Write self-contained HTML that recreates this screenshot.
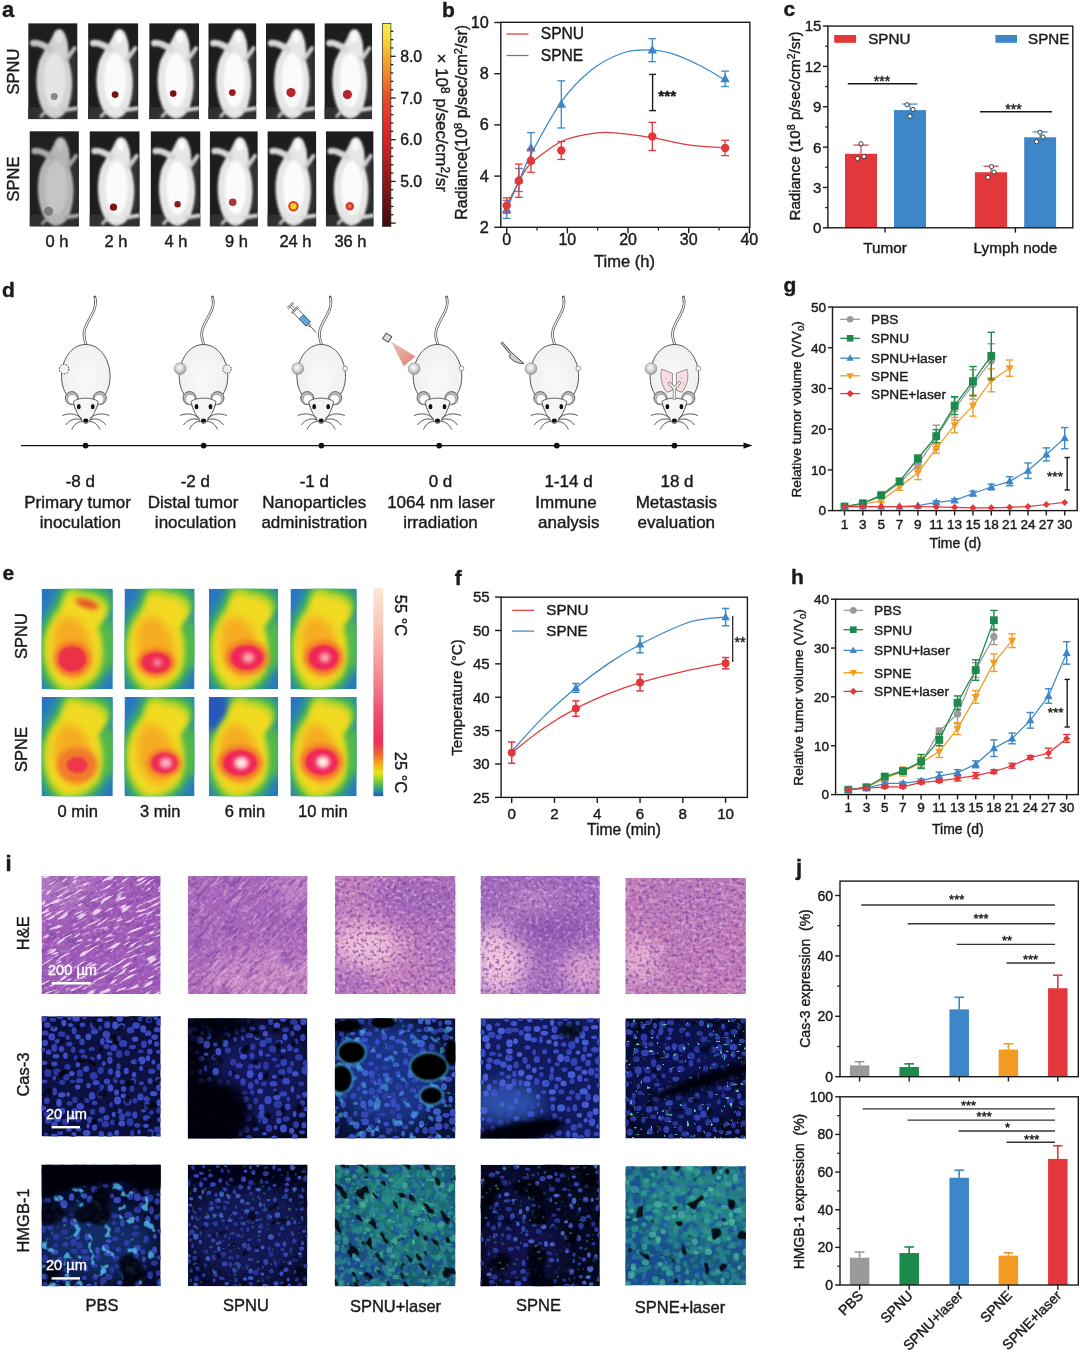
<!DOCTYPE html>
<html lang="en"><head><meta charset="utf-8"><title>Figure</title>
<style>html,body{margin:0;padding:0;background:#fff}svg{display:block}text{font-family:"Liberation Sans",Arial,sans-serif;color:#1a1a1a;fill:currentColor;stroke:currentColor;stroke-width:.4px}</style></head><body>
<svg width="1080" height="1352" viewBox="0 0 1080 1352">
<rect width="1080" height="1352" fill="#fff"/>
<defs>
<filter id="b1" x="-20%" y="-20%" width="140%" height="140%"><feGaussianBlur stdDeviation="0.9"/></filter>
<filter id="b2" x="-30%" y="-30%" width="160%" height="160%"><feGaussianBlur stdDeviation="2"/></filter>
<filter id="b05" x="-30%" y="-30%" width="160%" height="160%"><feGaussianBlur stdDeviation="0.5"/></filter>
<linearGradient id="cbA" x1="0" y1="0" x2="0" y2="1">
<stop offset="0" stop-color="#f6ee50"/><stop offset="0.08" stop-color="#f8d830"/><stop offset="0.17" stop-color="#f4ac2c"/>
<stop offset="0.28" stop-color="#ee7a28"/><stop offset="0.37" stop-color="#e84a28"/><stop offset="0.5" stop-color="#e22a28"/>
<stop offset="0.6" stop-color="#d22226"/><stop offset="0.78" stop-color="#8c181a"/><stop offset="1" stop-color="#3a0c0c"/>
</linearGradient>
<symbol id="mouseA" viewBox="0 0 50 96" preserveAspectRatio="none">
<rect width="50" height="96" fill="#1d1d1d"/>
<rect x="30" y="30" width="20" height="50" fill="#333" filter="url(#b2)"/>
<rect x="0" y="84" width="50" height="12" fill="#303030"/>
<g filter="url(#b1)">
<path d="M11,38 C7,52 8,66 11,77 C14,88 20,95 27,95 C34,95 40,89 42,79 C46,64 45,50 41,38 C40,30 42,22 38,13 C36,5 29,4 26,10 C23,18 16,27 11,38 Z" fill="#e6e6e6"/>
<path d="M22,26 C16,22 10,19 5,20" stroke="#d6d6d6" stroke-width="6.5" stroke-linecap="round" fill="none"/>
<path d="M39,36 L47,25" stroke="#cccccc" stroke-width="4.2" stroke-linecap="round"/>
<path d="M36,87 L49,85" stroke="#d4d4d4" stroke-width="4" stroke-linecap="round"/>
<path d="M18,88 L13,93" stroke="#cfcfcf" stroke-width="3" stroke-linecap="round"/>
<path d="M27,92 L27,96" stroke="#d0d0d0" stroke-width="2.5"/>
<ellipse cx="27" cy="57" rx="11" ry="27" fill="#fbfbfb"/>
<ellipse cx="31" cy="14" rx="3.5" ry="6" fill="#fafafa"/>
</g>
</symbol>
<radialGradient id="tum" cx="0.45" cy="0.4" r="0.6"><stop offset="0" stop-color="#ffffff"/><stop offset="0.55" stop-color="#d2d2d2"/><stop offset="1" stop-color="#9a9a9a"/></radialGradient>
<radialGradient id="bodyG" cx="0.5" cy="0.45" r="0.6"><stop offset="0" stop-color="#fafafa"/><stop offset="1" stop-color="#eeeeee"/></radialGradient>
<linearGradient id="laserG" x1="0" y1="0" x2="1" y2="1"><stop offset="0" stop-color="#e8a090"/><stop offset="1" stop-color="#c03828"/></linearGradient>
<symbol id="mouseD" viewBox="-40 -60 80 150" overflow="visible">
<path d="M0.6,1 C-1,-4 -2.6,-8 -1.6,-13 C-0.4,-20 5,-27 8,-34 C10,-39 10.4,-43 9,-47.5" fill="none" stroke="#555" stroke-width="2.7" stroke-linecap="round"/>
<path d="M0.6,1 C-1,-4 -2.6,-8 -1.6,-13 C-0.4,-20 5,-27 8,-34 C10,-39 10.4,-43 9,-47" fill="none" stroke="#f6f6f6" stroke-width="1.2"/>
<path d="M0,0 C-15,0 -24.3,16 -24.3,32 C-24.3,44 -19,52 -14,56 C-12,60 -10,66 -5,72 C-2,76 2,76 5,72 C10,66 12,60 14,56 C19,52 24.3,44 24.3,32 C24.3,16 15,0 0,0 Z" fill="url(#bodyG)" stroke="#555" stroke-width="1"/>
<circle cx="-14" cy="53.6" r="6.5" fill="#bcbcbc" stroke="#555" stroke-width="0.9"/><circle cx="-13.2" cy="54.8" r="4.9" fill="#fff" stroke="#777" stroke-width="0.6"/>
<circle cx="14" cy="53.6" r="6.5" fill="#bcbcbc" stroke="#555" stroke-width="0.9"/><circle cx="13.2" cy="54.8" r="4.9" fill="#fff" stroke="#777" stroke-width="0.6"/>
<path d="M-12.5,57 C-11,65 -7,72 -3.2,77 C-1.2,79.6 1.2,79.6 3.2,77 C7,72 11,65 12.5,57 C7,52.5 -7,52.5 -12.5,57 Z" fill="#f6f6f6" stroke="#555" stroke-width="0.9"/>
<ellipse cx="-7" cy="62.2" rx="1.9" ry="2.6" fill="#111"/><ellipse cx="7" cy="62.2" rx="1.9" ry="2.6" fill="#111"/>
<ellipse cx="0" cy="76.2" rx="2.6" ry="2.1" fill="#111"/>
<g fill="none" stroke="#444" stroke-width="0.9">
<path d="M-4,74 C-10,68.5 -17,68.5 -23.5,71"/><path d="M-4,75.5 C-10,73 -16,75 -20,80.5"/><path d="M-3.5,77 C-8,77 -12,80 -14,85"/>
<path d="M4,74 C10,68.5 17,68.5 23.5,71"/><path d="M4,75.5 C10,73 16,75 20,80.5"/><path d="M3.5,77 C8,77 12,80 14,85"/>
</g>
</symbol>
<filter id="b4" x="-40%" y="-40%" width="180%" height="180%"><feGaussianBlur stdDeviation="4"/></filter>
<filter id="b3" x="-40%" y="-40%" width="180%" height="180%"><feGaussianBlur stdDeviation="2.6"/></filter>
<filter id="b7" x="-40%" y="-40%" width="180%" height="180%"><feGaussianBlur stdDeviation="7"/></filter>
<linearGradient id="cbE" x1="0" y1="0" x2="0" y2="1">
<stop offset="0" stop-color="#fde6d8"/><stop offset="0.2" stop-color="#f9c4b4"/><stop offset="0.42" stop-color="#f28d96"/>
<stop offset="0.62" stop-color="#ea4a70"/><stop offset="0.74" stop-color="#e8305a"/><stop offset="0.8" stop-color="#ee6a30"/>
<stop offset="0.85" stop-color="#f4b41c"/><stop offset="0.89" stop-color="#e6e21e"/><stop offset="0.93" stop-color="#7cc83c"/>
<stop offset="0.965" stop-color="#2aa58a"/><stop offset="1" stop-color="#2a58c0"/>
</linearGradient>
<filter id="heStreak" x="0" y="0" width="100%" height="100%" color-interpolation-filters="sRGB"><feTurbulence type="fractalNoise" baseFrequency="0.07 0.4" numOctaves="2" seed="3"/><feColorMatrix type="matrix" values="0 0 0 0 0.941 0 0 0 0 0.863 0 0 0 0 0.949 9 0 0 0 -5.1"/></filter>
<filter id="heDark" x="0" y="0" width="100%" height="100%" color-interpolation-filters="sRGB"><feTurbulence type="fractalNoise" baseFrequency="0.06 0.25" numOctaves="2" seed="11"/><feColorMatrix type="matrix" values="0 0 0 0 0.490 0 0 0 0 0.259 0 0 0 0 0.627 6 0 0 0 -3"/></filter>
<filter id="heFineL" x="0" y="0" width="100%" height="100%" color-interpolation-filters="sRGB"><feTurbulence type="fractalNoise" baseFrequency="0.3" numOctaves="2" seed="5"/><feColorMatrix type="matrix" values="0 0 0 0 0.957 0 0 0 0 0.863 0 0 0 0 0.925 5 0 0 0 -2.6"/></filter>
<filter id="heFineD" x="0" y="0" width="100%" height="100%" color-interpolation-filters="sRGB"><feTurbulence type="fractalNoise" baseFrequency="0.28" numOctaves="2" seed="8"/><feColorMatrix type="matrix" values="0 0 0 0 0.518 0 0 0 0 0.282 0 0 0 0 0.643 5 0 0 0 -2.5"/></filter>
<filter id="cellB" x="0" y="0" width="100%" height="100%" color-interpolation-filters="sRGB"><feTurbulence type="fractalNoise" baseFrequency="0.17" numOctaves="1" seed="4"/><feColorMatrix type="matrix" values="0 0 0 0 0.227 0 0 0 0 0.298 0 0 0 0 0.800 14 0 0 0 -7"/><feGaussianBlur stdDeviation="0.5"/></filter>
<filter id="cellB2" x="0" y="0" width="100%" height="100%" color-interpolation-filters="sRGB"><feTurbulence type="fractalNoise" baseFrequency="0.19" numOctaves="1" seed="9"/><feColorMatrix type="matrix" values="0 0 0 0 0.204 0 0 0 0 0.275 0 0 0 0 0.753 14 0 0 0 -7.3"/><feGaussianBlur stdDeviation="0.5"/></filter>
<filter id="cellS" x="0" y="0" width="100%" height="100%" color-interpolation-filters="sRGB"><feTurbulence type="fractalNoise" baseFrequency="0.24" numOctaves="1" seed="14"/><feColorMatrix type="matrix" values="0 0 0 0 0.235 0 0 0 0 0.314 0 0 0 0 0.816 14 0 0 0 -7.6"/><feGaussianBlur stdDeviation="0.4"/></filter>
<filter id="cellD" x="0" y="0" width="100%" height="100%" color-interpolation-filters="sRGB"><feTurbulence type="fractalNoise" baseFrequency="0.2" numOctaves="1" seed="19"/><feColorMatrix type="matrix" values="0 0 0 0 0.196 0 0 0 0 0.259 0 0 0 0 0.706 14 0 0 0 -7.9"/><feGaussianBlur stdDeviation="0.5"/></filter>
<filter id="hole" x="0" y="0" width="100%" height="100%" color-interpolation-filters="sRGB"><feTurbulence type="fractalNoise" baseFrequency="0.035" numOctaves="1" seed="6"/><feColorMatrix type="matrix" values="0 0 0 0 0.008 0 0 0 0 0.008 0 0 0 0 0.039 16 0 0 0 -9.3"/><feGaussianBlur stdDeviation="0.8"/></filter>
<filter id="hole2" x="0" y="0" width="100%" height="100%" color-interpolation-filters="sRGB"><feTurbulence type="fractalNoise" baseFrequency="0.04" numOctaves="1" seed="17"/><feColorMatrix type="matrix" values="0 0 0 0 0.008 0 0 0 0 0.008 0 0 0 0 0.039 16 0 0 0 -9"/><feGaussianBlur stdDeviation="0.8"/></filter>
<filter id="cyan" x="0" y="0" width="100%" height="100%" color-interpolation-filters="sRGB"><feTurbulence type="fractalNoise" baseFrequency="0.11" numOctaves="2" seed="25"/><feColorMatrix type="matrix" values="0 0 0 0 0.314 0 0 0 0 0.753 0 0 0 0 0.933 12 0 0 0 -7.5"/><feGaussianBlur stdDeviation="0.5"/></filter>
<filter id="grnDot" x="0" y="0" width="100%" height="100%" color-interpolation-filters="sRGB"><feTurbulence type="fractalNoise" baseFrequency="0.3" numOctaves="1" seed="31"/><feColorMatrix type="matrix" values="0 0 0 0 0.400 0 0 0 0 0.902 0 0 0 0 0.659 18 0 0 0 -12"/><feGaussianBlur stdDeviation="0.3"/></filter>
<filter id="teal" x="0" y="0" width="100%" height="100%" color-interpolation-filters="sRGB"><feTurbulence type="fractalNoise" baseFrequency="0.11" numOctaves="2" seed="41"/><feColorMatrix type="matrix" values="0 0 0 0 0.235 0 0 0 0 0.706 0 0 0 0 0.573 6 0 0 0 -3.05"/><feGaussianBlur stdDeviation="0.5"/></filter>
<filter id="tealB" x="0" y="0" width="100%" height="100%" color-interpolation-filters="sRGB"><feTurbulence type="fractalNoise" baseFrequency="0.12" numOctaves="2" seed="43"/><feColorMatrix type="matrix" values="0 0 0 0 0.110 0 0 0 0 0.298 0 0 0 0 0.612 8 0 0 0 -4"/><feGaussianBlur stdDeviation="0.5"/></filter>
<filter id="crack" x="0" y="0" width="100%" height="100%" color-interpolation-filters="sRGB"><feTurbulence type="fractalNoise" baseFrequency="0.07 0.13" numOctaves="2" seed="51"/><feColorMatrix type="matrix" values="0 0 0 0 0.016 0 0 0 0 0.024 0 0 0 0 0.047 16 0 0 0 -10.2"/><feGaussianBlur stdDeviation="0.3"/></filter>
<filter id="holeS" x="0" y="0" width="100%" height="100%" color-interpolation-filters="sRGB"><feTurbulence type="fractalNoise" baseFrequency="0.09" numOctaves="1" seed="57"/><feColorMatrix type="matrix" values="0 0 0 0 0.012 0 0 0 0 0.016 0 0 0 0 0.039 18 0 0 0 -11.6"/><feGaussianBlur stdDeviation="0.4"/></filter>
<filter id="b5" x="-40%" y="-40%" width="180%" height="180%"><feGaussianBlur stdDeviation="5"/></filter>
<filter id="b10" x="-40%" y="-40%" width="180%" height="180%"><feGaussianBlur stdDeviation="10"/></filter>
</defs>
<text x="2" y="16.5" font-size="22" font-weight="bold">a</text>
<use href="#mouseA" x="28.2" y="23.2" width="49.3" height="96"/>
<use href="#mouseA" x="29.6" y="131.2" width="49.3" height="95.3"/>
<use href="#mouseA" x="88.1" y="23.2" width="50.2" height="96"/>
<use href="#mouseA" x="89.5" y="131.2" width="50.2" height="95.3"/>
<use href="#mouseA" x="149.2" y="23.2" width="49.9" height="96"/>
<use href="#mouseA" x="150.6" y="131.2" width="49.9" height="95.3"/>
<use href="#mouseA" x="208.3" y="23.2" width="48.1" height="96"/>
<use href="#mouseA" x="209.7" y="131.2" width="48.1" height="95.3"/>
<use href="#mouseA" x="266" y="23.2" width="48.9" height="96"/>
<use href="#mouseA" x="267.4" y="131.2" width="48.9" height="95.3"/>
<use href="#mouseA" x="324.4" y="23.2" width="47.8" height="96"/>
<use href="#mouseA" x="325.8" y="131.2" width="47.8" height="95.3"/>
<rect x="29.6" y="131.2" width="49.3" height="95.3" fill="#2a2a2a" stroke="none" stroke-width="1" opacity="0.26"/>
<rect x="28.2" y="23.6" width="49.3" height="95.6" fill="#2a2a2a" stroke="none" stroke-width="1" opacity="0.1"/>
<circle cx="54.2" cy="96.6" r="3.5" fill="#8a8a8a" stroke="none" stroke-width="1" filter="url(#b05)"/>
<circle cx="115.1" cy="94.6" r="3.4" fill="#6e1418" stroke="none" stroke-width="1" filter="url(#b05)"/>
<circle cx="173.2" cy="93.6" r="3.3" fill="#7a1015" stroke="none" stroke-width="1" filter="url(#b05)"/>
<circle cx="232.3" cy="92.6" r="3.4" fill="#9a1a20" stroke="none" stroke-width="1" filter="url(#b05)"/>
<circle cx="291" cy="92.6" r="4.6" fill="#b8202a" stroke="none" stroke-width="1" filter="url(#b05)"/>
<circle cx="347.4" cy="94.6" r="4.6" fill="#b5242c" stroke="none" stroke-width="1" filter="url(#b05)"/>
<circle cx="48.6" cy="211.2" r="4.5" fill="#7c7c7c" stroke="none" stroke-width="1" filter="url(#b05)"/>
<circle cx="113.5" cy="207.2" r="3.6" fill="#7a1418" stroke="none" stroke-width="1" filter="url(#b05)"/>
<circle cx="177.6" cy="204.2" r="3.2" fill="#8a1a1c" stroke="none" stroke-width="1" filter="url(#b05)"/>
<circle cx="232.7" cy="202.2" r="3.8" fill="#b03030" stroke="none" stroke-width="1" filter="url(#b05)"/>
<circle cx="293.4" cy="206.2" r="5.2" fill="#d8401c" stroke="none" stroke-width="1" filter="url(#b05)"/>
<circle cx="349.8" cy="206.2" r="4.3" fill="#d83a2c" stroke="none" stroke-width="1" filter="url(#b05)"/>
<circle cx="293.4" cy="206.2" r="3.2" fill="#ffd028" stroke="none" stroke-width="1" filter="url(#b05)"/>
<circle cx="349.8" cy="206.2" r="2" fill="#f0703a" stroke="none" stroke-width="1" filter="url(#b05)"/>
<text x="18.5" y="71.5" font-size="16.5" text-anchor="middle" transform="rotate(-90 18.5 71.5)">SPNU</text>
<text x="18.5" y="179" font-size="16.5" text-anchor="middle" transform="rotate(-90 18.5 179)">SPNE</text>
<text x="57" y="247" font-size="16.5" text-anchor="middle">0 h</text>
<text x="116" y="247" font-size="16.5" text-anchor="middle">2 h</text>
<text x="176" y="247" font-size="16.5" text-anchor="middle">4 h</text>
<text x="236.5" y="247" font-size="16.5" text-anchor="middle">9 h</text>
<text x="295.5" y="247" font-size="16.5" text-anchor="middle">24 h</text>
<text x="350.5" y="247" font-size="16.5" text-anchor="middle">36 h</text>
<rect x="382.5" y="23.4" width="8.4" height="203" fill="url(#cbA)" stroke="#2a2a2a" stroke-width="0.7"/>
<line x1="390.9" y1="31.28" x2="393.3" y2="31.28" stroke="#1a1a1a" stroke-width="1.3"/>
<line x1="390.9" y1="39.62" x2="393.3" y2="39.62" stroke="#1a1a1a" stroke-width="1.3"/>
<line x1="390.9" y1="47.96" x2="393.3" y2="47.96" stroke="#1a1a1a" stroke-width="1.3"/>
<line x1="390.9" y1="56.3" x2="395.7" y2="56.3" stroke="#1a1a1a" stroke-width="1.3"/>
<line x1="390.9" y1="64.64" x2="393.3" y2="64.64" stroke="#1a1a1a" stroke-width="1.3"/>
<line x1="390.9" y1="72.98" x2="393.3" y2="72.98" stroke="#1a1a1a" stroke-width="1.3"/>
<line x1="390.9" y1="81.32" x2="393.3" y2="81.32" stroke="#1a1a1a" stroke-width="1.3"/>
<line x1="390.9" y1="89.66" x2="393.3" y2="89.66" stroke="#1a1a1a" stroke-width="1.3"/>
<line x1="390.9" y1="98" x2="395.7" y2="98" stroke="#1a1a1a" stroke-width="1.3"/>
<line x1="390.9" y1="106.34" x2="393.3" y2="106.34" stroke="#1a1a1a" stroke-width="1.3"/>
<line x1="390.9" y1="114.68" x2="393.3" y2="114.68" stroke="#1a1a1a" stroke-width="1.3"/>
<line x1="390.9" y1="123.02" x2="393.3" y2="123.02" stroke="#1a1a1a" stroke-width="1.3"/>
<line x1="390.9" y1="131.36" x2="393.3" y2="131.36" stroke="#1a1a1a" stroke-width="1.3"/>
<line x1="390.9" y1="139.7" x2="395.7" y2="139.7" stroke="#1a1a1a" stroke-width="1.3"/>
<line x1="390.9" y1="148.04" x2="393.3" y2="148.04" stroke="#1a1a1a" stroke-width="1.3"/>
<line x1="390.9" y1="156.38" x2="393.3" y2="156.38" stroke="#1a1a1a" stroke-width="1.3"/>
<line x1="390.9" y1="164.72" x2="393.3" y2="164.72" stroke="#1a1a1a" stroke-width="1.3"/>
<line x1="390.9" y1="173.06" x2="393.3" y2="173.06" stroke="#1a1a1a" stroke-width="1.3"/>
<line x1="390.9" y1="181.4" x2="395.7" y2="181.4" stroke="#1a1a1a" stroke-width="1.3"/>
<line x1="390.9" y1="189.74" x2="393.3" y2="189.74" stroke="#1a1a1a" stroke-width="1.3"/>
<line x1="390.9" y1="198.08" x2="393.3" y2="198.08" stroke="#1a1a1a" stroke-width="1.3"/>
<line x1="390.9" y1="206.42" x2="393.3" y2="206.42" stroke="#1a1a1a" stroke-width="1.3"/>
<line x1="390.9" y1="214.76" x2="393.3" y2="214.76" stroke="#1a1a1a" stroke-width="1.3"/>
<line x1="390.9" y1="223.1" x2="395.7" y2="223.1" stroke="#1a1a1a" stroke-width="1.3"/>
<text x="400.2" y="61.9" font-size="15.8">8.0</text>
<text x="400.2" y="103.6" font-size="15.8">7.0</text>
<text x="400.2" y="145.3" font-size="15.8">6.0</text>
<text x="400.2" y="187" font-size="15.8">5.0</text>
<text x="436.3" y="122.7" font-size="17" text-anchor="middle" transform="rotate(90 436.3 122.7)">&#215; 10<tspan dy="-5" font-size="70%">8</tspan><tspan dy="5">&#8203;</tspan> p/sec/cm<tspan dy="-5" font-size="70%">2</tspan><tspan dy="5">&#8203;</tspan>/sr</text>
<text x="442" y="16.8" font-size="21" font-weight="bold">b</text>
<rect x="500.8" y="22.3" width="249.1" height="205" fill="none" stroke="#1a1a1a" stroke-width="1.4"/>
<line x1="494.3" y1="227.3" x2="500.8" y2="227.3" stroke="#1a1a1a" stroke-width="1.4"/>
<text x="488.8" y="232.7" font-size="16.3" text-anchor="end">2</text>
<line x1="494.3" y1="176.1" x2="500.8" y2="176.1" stroke="#1a1a1a" stroke-width="1.4"/>
<text x="488.8" y="181.5" font-size="16.3" text-anchor="end">4</text>
<line x1="494.3" y1="124.9" x2="500.8" y2="124.9" stroke="#1a1a1a" stroke-width="1.4"/>
<text x="488.8" y="130.3" font-size="16.3" text-anchor="end">6</text>
<line x1="494.3" y1="73.7" x2="500.8" y2="73.7" stroke="#1a1a1a" stroke-width="1.4"/>
<text x="488.8" y="79.1" font-size="16.3" text-anchor="end">8</text>
<line x1="494.3" y1="22.5" x2="500.8" y2="22.5" stroke="#1a1a1a" stroke-width="1.4"/>
<text x="488.8" y="27.9" font-size="16.3" text-anchor="end">10</text>
<line x1="506.7" y1="227.3" x2="506.7" y2="233.3" stroke="#1a1a1a" stroke-width="1.4"/>
<text x="506.7" y="244.8" font-size="16" text-anchor="middle">0</text>
<line x1="567.37" y1="227.3" x2="567.37" y2="233.3" stroke="#1a1a1a" stroke-width="1.4"/>
<text x="567.37" y="244.8" font-size="16" text-anchor="middle">10</text>
<line x1="628.04" y1="227.3" x2="628.04" y2="233.3" stroke="#1a1a1a" stroke-width="1.4"/>
<text x="628.04" y="244.8" font-size="16" text-anchor="middle">20</text>
<line x1="688.71" y1="227.3" x2="688.71" y2="233.3" stroke="#1a1a1a" stroke-width="1.4"/>
<text x="688.71" y="244.8" font-size="16" text-anchor="middle">30</text>
<line x1="749.38" y1="227.3" x2="749.38" y2="233.3" stroke="#1a1a1a" stroke-width="1.4"/>
<text x="749.38" y="244.8" font-size="16" text-anchor="middle">40</text>
<line x1="537.03" y1="227.3" x2="537.03" y2="230.5" stroke="#1a1a1a" stroke-width="1.2"/>
<line x1="597.7" y1="227.3" x2="597.7" y2="230.5" stroke="#1a1a1a" stroke-width="1.2"/>
<line x1="658.38" y1="227.3" x2="658.38" y2="230.5" stroke="#1a1a1a" stroke-width="1.2"/>
<line x1="719.04" y1="227.3" x2="719.04" y2="230.5" stroke="#1a1a1a" stroke-width="1.2"/>
<text x="624.5" y="266.8" font-size="16.5" text-anchor="middle">Time (h)</text>
<text x="466.8" y="122.3" font-size="16" text-anchor="middle" transform="rotate(-90 466.8 122.3)">Radiance(10<tspan dy="-5" font-size="70%">8</tspan><tspan dy="5">&#8203;</tspan> p/sec/cm<tspan dy="-5" font-size="70%">2</tspan><tspan dy="5">&#8203;</tspan>/sr)</text>
<path d="M506.7,205.54 C508.72,201.57 514.79,188.77 518.83,181.73 C522.88,174.69 523.89,170 530.97,163.3 C538.05,156.6 552.2,146.32 561.3,141.54 C570.4,136.76 577.48,136.12 585.57,134.63 C593.66,133.13 598.72,132.07 609.84,132.58 C620.96,133.09 639.16,135.65 652.31,137.7 C665.45,139.75 676.58,143.16 688.71,144.87 C700.84,146.57 719.04,147.43 725.11,147.94" fill="none" stroke="#e2383b" stroke-width="1.25"/>
<path d="M506.7,209.38 C508.72,204.69 514.79,190.39 518.83,181.22 C522.88,172.05 523.89,167.57 530.97,154.34 C538.05,141.11 551.19,115.94 561.3,101.86 C571.41,87.78 581.53,77.97 591.64,69.86 C601.75,61.75 612.87,56.55 621.97,53.22 C631.07,49.89 638.15,49.89 646.24,49.89 C654.33,49.89 661.41,50.53 670.51,53.22 C679.61,55.91 691.74,61.54 700.84,66.02 C709.94,70.5 721.07,77.75 725.11,80.1" fill="none" stroke="#3d87c8" stroke-width="1.25"/>
<line x1="506.7" y1="218.34" x2="506.7" y2="200.42" stroke="#3d87c8" stroke-width="1.3"/>
<line x1="502.8" y1="218.34" x2="510.6" y2="218.34" stroke="#3d87c8" stroke-width="1.3"/>
<line x1="502.8" y1="200.42" x2="510.6" y2="200.42" stroke="#3d87c8" stroke-width="1.3"/>
<path d="M506.7,204.22 L511.43,212.82 L501.97,212.82 Z" fill="#3d87c8" stroke="none" stroke-width="1"/>
<line x1="518.83" y1="191.46" x2="518.83" y2="168.42" stroke="#3d87c8" stroke-width="1.3"/>
<line x1="514.93" y1="191.46" x2="522.73" y2="191.46" stroke="#3d87c8" stroke-width="1.3"/>
<line x1="514.93" y1="168.42" x2="522.73" y2="168.42" stroke="#3d87c8" stroke-width="1.3"/>
<path d="M518.83,174.78 L523.56,183.38 L514.1,183.38 Z" fill="#3d87c8" stroke="none" stroke-width="1"/>
<line x1="530.97" y1="163.3" x2="530.97" y2="132.58" stroke="#3d87c8" stroke-width="1.3"/>
<line x1="527.07" y1="163.3" x2="534.87" y2="163.3" stroke="#3d87c8" stroke-width="1.3"/>
<line x1="527.07" y1="132.58" x2="534.87" y2="132.58" stroke="#3d87c8" stroke-width="1.3"/>
<path d="M530.97,142.78 L535.7,151.38 L526.24,151.38 Z" fill="#3d87c8" stroke="none" stroke-width="1"/>
<line x1="561.3" y1="127.97" x2="561.3" y2="80.87" stroke="#3d87c8" stroke-width="1.3"/>
<line x1="557.4" y1="127.97" x2="565.2" y2="127.97" stroke="#3d87c8" stroke-width="1.3"/>
<line x1="557.4" y1="80.87" x2="565.2" y2="80.87" stroke="#3d87c8" stroke-width="1.3"/>
<path d="M561.3,99.26 L566.03,107.86 L556.57,107.86 Z" fill="#3d87c8" stroke="none" stroke-width="1"/>
<line x1="652.31" y1="61.67" x2="652.31" y2="38.63" stroke="#3d87c8" stroke-width="1.3"/>
<line x1="648.41" y1="61.67" x2="656.21" y2="61.67" stroke="#3d87c8" stroke-width="1.3"/>
<line x1="648.41" y1="38.63" x2="656.21" y2="38.63" stroke="#3d87c8" stroke-width="1.3"/>
<path d="M652.31,44.99 L657.04,53.59 L647.58,53.59 Z" fill="#3d87c8" stroke="none" stroke-width="1"/>
<line x1="725.11" y1="86.5" x2="725.11" y2="71.14" stroke="#3d87c8" stroke-width="1.3"/>
<line x1="721.21" y1="86.5" x2="729.01" y2="86.5" stroke="#3d87c8" stroke-width="1.3"/>
<line x1="721.21" y1="71.14" x2="729.01" y2="71.14" stroke="#3d87c8" stroke-width="1.3"/>
<path d="M725.11,73.66 L729.84,82.26 L720.38,82.26 Z" fill="#3d87c8" stroke="none" stroke-width="1"/>
<line x1="506.7" y1="213.22" x2="506.7" y2="197.86" stroke="#e2383b" stroke-width="1.3"/>
<line x1="502.8" y1="213.22" x2="510.6" y2="213.22" stroke="#e2383b" stroke-width="1.3"/>
<line x1="502.8" y1="197.86" x2="510.6" y2="197.86" stroke="#e2383b" stroke-width="1.3"/>
<circle cx="506.7" cy="205.54" r="4.2" fill="#e2383b" stroke="none" stroke-width="1"/>
<line x1="518.83" y1="197.35" x2="518.83" y2="164.07" stroke="#e2383b" stroke-width="1.3"/>
<line x1="514.93" y1="197.35" x2="522.73" y2="197.35" stroke="#e2383b" stroke-width="1.3"/>
<line x1="514.93" y1="164.07" x2="522.73" y2="164.07" stroke="#e2383b" stroke-width="1.3"/>
<circle cx="518.83" cy="180.71" r="4.2" fill="#e2383b" stroke="none" stroke-width="1"/>
<line x1="530.97" y1="172.26" x2="530.97" y2="149.22" stroke="#e2383b" stroke-width="1.3"/>
<line x1="527.07" y1="172.26" x2="534.87" y2="172.26" stroke="#e2383b" stroke-width="1.3"/>
<line x1="527.07" y1="149.22" x2="534.87" y2="149.22" stroke="#e2383b" stroke-width="1.3"/>
<circle cx="530.97" cy="160.74" r="4.2" fill="#e2383b" stroke="none" stroke-width="1"/>
<line x1="561.3" y1="159.46" x2="561.3" y2="141.54" stroke="#e2383b" stroke-width="1.3"/>
<line x1="557.4" y1="159.46" x2="565.2" y2="159.46" stroke="#e2383b" stroke-width="1.3"/>
<line x1="557.4" y1="141.54" x2="565.2" y2="141.54" stroke="#e2383b" stroke-width="1.3"/>
<circle cx="561.3" cy="150.5" r="4.2" fill="#e2383b" stroke="none" stroke-width="1"/>
<line x1="652.31" y1="150.5" x2="652.31" y2="122.34" stroke="#e2383b" stroke-width="1.3"/>
<line x1="648.41" y1="150.5" x2="656.21" y2="150.5" stroke="#e2383b" stroke-width="1.3"/>
<line x1="648.41" y1="122.34" x2="656.21" y2="122.34" stroke="#e2383b" stroke-width="1.3"/>
<circle cx="652.31" cy="136.42" r="4.2" fill="#e2383b" stroke="none" stroke-width="1"/>
<line x1="725.11" y1="155.62" x2="725.11" y2="140.26" stroke="#e2383b" stroke-width="1.3"/>
<line x1="721.21" y1="155.62" x2="729.01" y2="155.62" stroke="#e2383b" stroke-width="1.3"/>
<line x1="721.21" y1="140.26" x2="729.01" y2="140.26" stroke="#e2383b" stroke-width="1.3"/>
<circle cx="725.11" cy="147.94" r="4.2" fill="#e2383b" stroke="none" stroke-width="1"/>
<line x1="506.5" y1="34" x2="528.5" y2="34" stroke="#e2383b" stroke-width="1.25"/>
<text x="540.8" y="39.4" font-size="15.6">SPNU</text>
<line x1="506.5" y1="55.5" x2="528.5" y2="55.5" stroke="#3d87c8" stroke-width="1.25"/>
<text x="540.8" y="61" font-size="15.6">SPNE</text>
<line x1="652.6" y1="74.4" x2="652.6" y2="110.6" stroke="#1a1a1a" stroke-width="1.4"/>
<line x1="649.2" y1="74.4" x2="656" y2="74.4" stroke="#1a1a1a" stroke-width="1.4"/>
<line x1="649.2" y1="110.6" x2="656" y2="110.6" stroke="#1a1a1a" stroke-width="1.4"/>
<text x="658.3" y="100.5" font-size="15.5" font-weight="bold">***</text>
<text x="783.6" y="15.6" font-size="21" font-weight="bold">c</text>
<rect x="845" y="153.83" width="32" height="73.97" fill="#e2383b" stroke="none" stroke-width="1"/>
<line x1="861" y1="153.83" x2="861" y2="145.08" stroke="#e2383b" stroke-width="1.2"/>
<line x1="853.4" y1="145.08" x2="868.6" y2="145.08" stroke="#e2383b" stroke-width="1.2"/>
<rect x="894" y="110.11" width="32" height="117.69" fill="#3d87c8" stroke="none" stroke-width="1"/>
<line x1="910" y1="110.11" x2="910" y2="104.06" stroke="#3d87c8" stroke-width="1.2"/>
<line x1="902.4" y1="104.06" x2="917.6" y2="104.06" stroke="#3d87c8" stroke-width="1.2"/>
<rect x="974.9" y="172.25" width="32.2" height="55.55" fill="#e2383b" stroke="none" stroke-width="1"/>
<line x1="991" y1="172.25" x2="991" y2="166.2" stroke="#e2383b" stroke-width="1.2"/>
<line x1="983.4" y1="166.2" x2="998.6" y2="166.2" stroke="#e2383b" stroke-width="1.2"/>
<rect x="1024.2" y="137.28" width="31.9" height="90.52" fill="#3d87c8" stroke="none" stroke-width="1"/>
<line x1="1040.15" y1="137.28" x2="1040.15" y2="131.9" stroke="#3d87c8" stroke-width="1.2"/>
<line x1="1032.55" y1="131.9" x2="1047.75" y2="131.9" stroke="#3d87c8" stroke-width="1.2"/>
<circle cx="861" cy="143.74" r="2.1" fill="#fff" stroke="#2f4040" stroke-width="1"/>
<circle cx="857.5" cy="158.53" r="2.1" fill="#fff" stroke="#2f4040" stroke-width="1"/>
<circle cx="864" cy="156.52" r="2.1" fill="#fff" stroke="#2f4040" stroke-width="1"/>
<circle cx="907" cy="104.73" r="2.1" fill="#fff" stroke="#2f4040" stroke-width="1"/>
<circle cx="913" cy="109.44" r="2.1" fill="#fff" stroke="#2f4040" stroke-width="1"/>
<circle cx="910" cy="116.17" r="2.1" fill="#fff" stroke="#2f4040" stroke-width="1"/>
<circle cx="991.5" cy="166.6" r="2.1" fill="#fff" stroke="#2f4040" stroke-width="1"/>
<circle cx="994" cy="171.98" r="2.1" fill="#fff" stroke="#2f4040" stroke-width="1"/>
<circle cx="988" cy="177.36" r="2.1" fill="#fff" stroke="#2f4040" stroke-width="1"/>
<circle cx="1040" cy="132.31" r="2.1" fill="#fff" stroke="#2f4040" stroke-width="1"/>
<circle cx="1043" cy="137.01" r="2.1" fill="#fff" stroke="#2f4040" stroke-width="1"/>
<circle cx="1036.5" cy="141.72" r="2.1" fill="#fff" stroke="#2f4040" stroke-width="1"/>
<rect x="827.9" y="26.1" width="244.9" height="201.7" fill="none" stroke="#1a1a1a" stroke-width="1.4"/>
<line x1="822.9" y1="227.8" x2="827.9" y2="227.8" stroke="#1a1a1a" stroke-width="1.4"/>
<text x="821.4" y="233.2" font-size="15" text-anchor="end">0</text>
<line x1="822.9" y1="187.45" x2="827.9" y2="187.45" stroke="#1a1a1a" stroke-width="1.4"/>
<text x="821.4" y="192.85" font-size="15" text-anchor="end">3</text>
<line x1="822.9" y1="147.1" x2="827.9" y2="147.1" stroke="#1a1a1a" stroke-width="1.4"/>
<text x="821.4" y="152.5" font-size="15" text-anchor="end">6</text>
<line x1="822.9" y1="106.75" x2="827.9" y2="106.75" stroke="#1a1a1a" stroke-width="1.4"/>
<text x="821.4" y="112.15" font-size="15" text-anchor="end">9</text>
<line x1="822.9" y1="66.4" x2="827.9" y2="66.4" stroke="#1a1a1a" stroke-width="1.4"/>
<text x="821.4" y="71.8" font-size="15" text-anchor="end">12</text>
<line x1="822.9" y1="26.05" x2="827.9" y2="26.05" stroke="#1a1a1a" stroke-width="1.4"/>
<text x="821.4" y="31.45" font-size="15" text-anchor="end">15</text>
<line x1="825.1" y1="207.62" x2="827.9" y2="207.62" stroke="#1a1a1a" stroke-width="1.2"/>
<line x1="825.1" y1="167.28" x2="827.9" y2="167.28" stroke="#1a1a1a" stroke-width="1.2"/>
<line x1="825.1" y1="126.93" x2="827.9" y2="126.93" stroke="#1a1a1a" stroke-width="1.2"/>
<line x1="825.1" y1="86.58" x2="827.9" y2="86.58" stroke="#1a1a1a" stroke-width="1.2"/>
<line x1="825.1" y1="46.23" x2="827.9" y2="46.23" stroke="#1a1a1a" stroke-width="1.2"/>
<line x1="885" y1="227.8" x2="885" y2="232.6" stroke="#1a1a1a" stroke-width="1.4"/>
<text x="885" y="253.3" font-size="15.3" text-anchor="middle">Tumor</text>
<line x1="1015.4" y1="227.8" x2="1015.4" y2="232.6" stroke="#1a1a1a" stroke-width="1.4"/>
<text x="1015.4" y="253.3" font-size="15.3" text-anchor="middle">Lymph node</text>
<text x="799.5" y="126" font-size="15.2" text-anchor="middle" transform="rotate(-90 799.5 126)">Radiance (10<tspan dy="-5" font-size="70%">8</tspan><tspan dy="5">&#8203;</tspan> p/sec/cm<tspan dy="-5" font-size="70%">2</tspan><tspan dy="5">&#8203;</tspan>/sr)</text>
<rect x="834.2" y="35" width="21.9" height="7.8" fill="#e2383b" stroke="none" stroke-width="1"/>
<text x="868.2" y="44.2" font-size="15.2">SPNU</text>
<rect x="995.4" y="35" width="21.6" height="7.8" fill="#3d87c8" stroke="none" stroke-width="1"/>
<text x="1028" y="44.2" font-size="15.2">SPNE</text>
<line x1="847.8" y1="83.75" x2="917.2" y2="83.75" stroke="#1a1a1a" stroke-width="1.4"/>
<text x="882" y="85.6" font-size="14" text-anchor="middle">***</text>
<line x1="980" y1="111.8" x2="1052" y2="111.8" stroke="#1a1a1a" stroke-width="1.4"/>
<text x="1013.5" y="113.6" font-size="14" text-anchor="middle">***</text>
<text x="2" y="297.2" font-size="21" font-weight="bold">d</text>
<use href="#mouseD" x="45.8" y="284.5" width="80" height="150"/>
<use href="#mouseD" x="163.5" y="284.5" width="80" height="150"/>
<use href="#mouseD" x="281.2" y="284.5" width="80" height="150"/>
<use href="#mouseD" x="397.5" y="284.5" width="80" height="150"/>
<use href="#mouseD" x="514.3" y="284.5" width="80" height="150"/>
<use href="#mouseD" x="634.4" y="284.5" width="80" height="150"/>
<circle cx="64" cy="369.1" r="4.8" fill="#f3f3f3" stroke="#222" stroke-width="0.9" stroke-dasharray="1.6 1.4"/>
<circle cx="180.1" cy="368.7" r="5.9" fill="url(#tum)" stroke="#8a8a8a" stroke-width="0.6"/>
<circle cx="297.8" cy="368.7" r="5.9" fill="url(#tum)" stroke="#8a8a8a" stroke-width="0.6"/>
<circle cx="414.1" cy="368.7" r="5.9" fill="url(#tum)" stroke="#8a8a8a" stroke-width="0.6"/>
<circle cx="530.9" cy="368.7" r="5.9" fill="url(#tum)" stroke="#8a8a8a" stroke-width="0.6"/>
<circle cx="651" cy="368.7" r="5.9" fill="url(#tum)" stroke="#8a8a8a" stroke-width="0.6"/>
<circle cx="227.1" cy="369.1" r="4.2" fill="#ededed" stroke="#222" stroke-width="0.9" stroke-dasharray="1.4 1.2"/>
<circle cx="345.2" cy="368.5" r="2.4" fill="#f5f5f5" stroke="#888" stroke-width="0.8"/>
<circle cx="461.5" cy="368.5" r="2.4" fill="#f5f5f5" stroke="#888" stroke-width="0.8"/>
<circle cx="578.3" cy="368.5" r="2.4" fill="#f5f5f5" stroke="#888" stroke-width="0.8"/>
<circle cx="698.4" cy="368.5" r="2.4" fill="#f5f5f5" stroke="#888" stroke-width="0.8"/>
<g transform="translate(290.6 305.6) rotate(-43.5)">
<rect x="-3.4" y="-1" width="6.8" height="1.7" fill="#eee" stroke="#444" stroke-width="0.7"/>
<rect x="-1.2" y="0.7" width="2.4" height="4.5" fill="#fff" stroke="#444" stroke-width="0.7"/>
<rect x="-4.2" y="5.2" width="8.4" height="1.7" fill="#e4e4e4" stroke="#444" stroke-width="0.7"/>
<rect x="-3" y="6.9" width="6" height="18.5" fill="#fff" stroke="#444" stroke-width="0.8"/>
<rect x="-3" y="15.5" width="6" height="9.9" fill="#58a8e4" stroke="#444" stroke-width="0.6"/>
<rect x="-1.2" y="25.4" width="2.4" height="2.8" fill="#ccc" stroke="#444" stroke-width="0.6"/>
<line x1="0" y1="28.2" x2="0" y2="37" stroke="#333" stroke-width="0.8"/>
</g>
<path d="M391,341.6 L415.6,356.4 L403.6,366.2 Z" fill="url(#laserG)" stroke="none" stroke-width="1" opacity="0.62" filter="url(#b05)"/>
<g transform="translate(387.2 337.6) rotate(32)">
<rect x="-3.3" y="-3.3" width="6.6" height="6.6" fill="#dcdcdc" stroke="#444" stroke-width="0.9"/>
</g>
<path d="M501,343.2 L502.6,342.2 L511.2,352.2 L524,363.6 C518,363.6 512.4,361.4 509.4,356.6 L510.4,354.4 Z" fill="#cfcfcf" stroke="#333" stroke-width="0.9" stroke-linejoin="round"/>
<g transform="translate(674.4 381.8)">
<path d="M-2,-8.5 L-12.6,-12.6 C-14.8,-6 -13,4 -7.5,10.5 L-2,8.5 Z" fill="#f6dde0" stroke="#777" stroke-width="0.8" stroke-linejoin="round"/>
<path d="M2,-8.5 L12.6,-12.6 C14.8,-6 13,4 7.5,10.5 L2,8.5 Z" fill="#f6dde0" stroke="#777" stroke-width="0.8" stroke-linejoin="round"/>
<path d="M0,16.5 L0,6 M0,6.5 L-5,1.5 M0,6.5 L5,1" fill="none" stroke="#777" stroke-width="3.2" stroke-linecap="round"/>
<path d="M0,16.5 L0,6 M0,6.5 L-5,1.5 M0,6.5 L5,1" fill="none" stroke="#f4f4f4" stroke-width="1.8" stroke-linecap="round"/>
<circle cx="-8" cy="-3" r="0.9" fill="#e8b0bc" stroke="none" stroke-width="1"/>
<circle cx="-6" cy="3" r="0.9" fill="#e8b0bc" stroke="none" stroke-width="1"/>
<circle cx="7" cy="-4" r="0.9" fill="#e8b0bc" stroke="none" stroke-width="1"/>
<circle cx="9" cy="1" r="0.9" fill="#e8b0bc" stroke="none" stroke-width="1"/>
</g>
<line x1="21" y1="445.6" x2="746" y2="445.6" stroke="#111" stroke-width="1.4"/>
<path d="M752.5,445.6 L743.5,442.4 L743.5,448.8 Z" fill="#111" stroke="none" stroke-width="1"/>
<circle cx="85.6" cy="445.6" r="2.9" fill="#111" stroke="none" stroke-width="1"/>
<circle cx="203.6" cy="445.6" r="2.9" fill="#111" stroke="none" stroke-width="1"/>
<circle cx="321.4" cy="445.6" r="2.9" fill="#111" stroke="none" stroke-width="1"/>
<circle cx="439.2" cy="445.6" r="2.9" fill="#111" stroke="none" stroke-width="1"/>
<circle cx="556.8" cy="445.6" r="2.9" fill="#111" stroke="none" stroke-width="1"/>
<circle cx="674.4" cy="445.6" r="2.9" fill="#111" stroke="none" stroke-width="1"/>
<text x="80.3" y="487.2" font-size="17" text-anchor="middle">-8 d</text>
<text x="77.6" y="508.2" font-size="17" text-anchor="middle">Primary tumor</text>
<text x="80.3" y="528" font-size="17" text-anchor="middle">inoculation</text>
<text x="195.3" y="487.2" font-size="17" text-anchor="middle">-2 d</text>
<text x="193" y="508.2" font-size="17" text-anchor="middle">Distal tumor</text>
<text x="195.5" y="528" font-size="17" text-anchor="middle">inoculation</text>
<text x="314.3" y="487.2" font-size="17" text-anchor="middle">-1 d</text>
<text x="314.3" y="508.2" font-size="17" text-anchor="middle">Nanoparticles</text>
<text x="314.3" y="528" font-size="17" text-anchor="middle">administration</text>
<text x="440.5" y="487.2" font-size="17" text-anchor="middle">0 d</text>
<text x="441" y="508.2" font-size="17" text-anchor="middle">1064 nm laser</text>
<text x="440.5" y="528" font-size="17" text-anchor="middle">irradiation</text>
<text x="568.6" y="487.2" font-size="17" text-anchor="middle">1-14 d</text>
<text x="566" y="508.2" font-size="17" text-anchor="middle">Immune</text>
<text x="568.8" y="528" font-size="17" text-anchor="middle">analysis</text>
<text x="677" y="487.2" font-size="17" text-anchor="middle">18 d</text>
<text x="676.3" y="508.2" font-size="17" text-anchor="middle">Metastasis</text>
<text x="676.3" y="528" font-size="17" text-anchor="middle">evaluation</text>
<text x="2.5" y="579.6" font-size="21" font-weight="bold">e</text>
<clipPath id="ce0"><rect x="41.6" y="588.8" width="71.2" height="100.4"/></clipPath>
<g clip-path="url(#ce0)">
<rect x="41.6" y="588.8" width="71.2" height="100.4" fill="#2a74c4" stroke="none" stroke-width="1"/>
<path d="M64.88,581.37 C70.44,574.84 79.69,580.07 87.1,582.68 C100.06,582.68 114.86,590.51 114.86,600.95 C114.86,611.39 105.61,614 103.76,624.44 C109.31,640.1 111.16,663.6 103.76,679.26 C94.5,693.62 77.84,701.45 64.88,701.45 C50.07,696.23 38.04,676.65 37.11,653.16 C36.19,629.66 46.37,614 56.55,600.95 C59.33,593.12 61.18,585.29 64.88,581.37 Z" fill="#2fa878" filter="url(#b7)"/>
<path d="M65.51,585.23 C70.72,579.1 79.41,584 86.36,586.45 C98.52,586.45 112.42,593.8 112.42,603.6 C112.42,613.4 103.73,615.85 101.99,625.65 C107.2,640.35 108.94,662.39 101.99,677.09 C93.31,690.57 77.67,697.91 65.51,697.91 C51.61,693.02 40.32,674.64 39.45,652.59 C38.58,630.55 48.14,615.85 57.69,603.6 C60.3,596.25 62.03,588.9 65.51,585.23 Z" fill="#4cb848" filter="url(#b4)"/>
<ellipse cx="107.82" cy="644.02" rx="9.97" ry="26.1" fill="#52ba48" filter="url(#b4)"/>
<path d="M66.45,591.01 C71.15,585.49 78.98,589.9 85.25,592.11 C96.21,592.11 108.74,598.74 108.74,607.57 C108.74,616.41 100.91,618.62 99.34,627.45 C104.04,640.71 105.61,660.59 99.34,673.84 C91.51,685.99 77.41,692.61 66.45,692.61 C53.92,688.2 43.74,671.63 42.95,651.75 C42.17,631.87 50.78,618.62 59.4,607.57 C61.75,600.95 63.32,594.32 66.45,591.01 Z" fill="#b4d42c" filter="url(#b3)"/>
<path d="M67.47,597.27 C71.61,592.4 78.52,596.3 84.04,598.25 C93.71,598.25 104.76,604.09 104.76,611.88 C104.76,619.67 97.86,621.62 96.47,629.41 C100.62,641.1 102,658.63 96.47,670.31 C89.57,681.03 77.14,686.87 67.47,686.87 C56.42,682.98 47.44,668.37 46.75,650.84 C46.06,633.31 53.65,621.62 61.25,611.88 C63.32,606.04 64.7,600.2 67.47,597.27 Z" fill="#f2da24" filter="url(#b3)"/>
<ellipse cx="72.93" cy="647.03" rx="18.51" ry="31.12" fill="#f6ac20" filter="url(#b4)" transform="rotate(-12 72.93 647.03)"/>
<ellipse cx="87.17" cy="603.86" rx="12.1" ry="4.02" fill="#e4482c" filter="url(#b3)" transform="rotate(18 87.17 603.86)"/>
<ellipse cx="72.22" cy="659.08" rx="18.51" ry="17.62" fill="#f2742c" filter="url(#b3)"/>
<ellipse cx="72.22" cy="659.08" rx="13.96" ry="12.79" fill="#ec3048" filter="url(#b1)"/>
</g>
<clipPath id="ce1"><rect x="124.5" y="588.8" width="70" height="100.4"/></clipPath>
<g clip-path="url(#ce1)">
<rect x="124.5" y="588.8" width="70" height="100.4" fill="#2a74c4" stroke="none" stroke-width="1"/>
<path d="M147.39,581.37 C152.85,574.84 161.95,580.07 169.23,582.68 C181.97,582.68 196.53,590.51 196.53,600.95 C196.53,611.39 187.43,614 185.61,624.44 C191.07,640.1 192.89,663.6 185.61,679.26 C176.51,693.62 160.13,701.45 147.39,701.45 C132.83,696.23 121,676.65 120.09,653.16 C119.18,629.66 129.19,614 139.2,600.95 C141.93,593.12 143.75,585.29 147.39,581.37 Z" fill="#2fa878" filter="url(#b7)"/>
<path d="M148.01,585.23 C153.13,579.1 161.67,584 168.5,586.45 C180.46,586.45 194.12,593.8 194.12,603.6 C194.12,613.4 185.58,615.85 183.87,625.65 C189,640.35 190.71,662.39 183.87,677.09 C175.33,690.57 159.96,697.91 148.01,697.91 C134.34,693.02 123.24,674.64 122.39,652.59 C121.53,630.55 130.93,615.85 140.32,603.6 C142.88,596.25 144.59,588.9 148.01,585.23 Z" fill="#4cb848" filter="url(#b4)"/>
<ellipse cx="189.6" cy="644.02" rx="9.8" ry="26.1" fill="#52ba48" filter="url(#b4)"/>
<path d="M148.93,591.01 C153.55,585.49 161.25,589.9 167.41,592.11 C178.19,592.11 190.51,598.74 190.51,607.57 C190.51,616.41 182.81,618.62 181.27,627.45 C185.89,640.71 187.43,660.59 181.27,673.84 C173.57,685.99 159.71,692.61 148.93,692.61 C136.61,688.2 126.6,671.63 125.83,651.75 C125.06,631.87 133.53,618.62 142,607.57 C144.31,600.95 145.85,594.32 148.93,591.01 Z" fill="#b4d42c" filter="url(#b3)"/>
<path d="M149.93,597.27 C154,592.4 160.79,596.3 166.23,598.25 C175.73,598.25 186.6,604.09 186.6,611.88 C186.6,619.67 179.81,621.62 178.45,629.41 C182.52,641.1 183.88,658.63 178.45,670.31 C171.66,681.03 159.44,686.87 149.93,686.87 C139.07,682.98 130.24,668.37 129.56,650.84 C128.88,633.31 136.35,621.62 143.82,611.88 C145.86,606.04 147.22,600.2 149.93,597.27 Z" fill="#f2da24" filter="url(#b3)"/>
<ellipse cx="155.3" cy="647.03" rx="18.2" ry="31.12" fill="#f6ac20" filter="url(#b4)" transform="rotate(-12 155.3 647.03)"/>
<ellipse cx="156" cy="662.59" rx="19.11" ry="14.23" fill="#f2742c" filter="url(#b3)"/>
<ellipse cx="156" cy="662.59" rx="14.41" ry="10.33" fill="#ee2c50" filter="url(#b1)"/>
<ellipse cx="157.4" cy="662.59" rx="4.2" ry="3.61" fill="#f78ca0" filter="url(#b2)"/>
</g>
<clipPath id="ce2"><rect x="208.9" y="588.8" width="69.2" height="100.4"/></clipPath>
<g clip-path="url(#ce2)">
<rect x="208.9" y="588.8" width="69.2" height="100.4" fill="#2a74c4" stroke="none" stroke-width="1"/>
<path d="M231.53,581.37 C236.93,574.84 245.92,580.07 253.12,582.68 C265.71,582.68 280.11,590.51 280.11,600.95 C280.11,611.39 271.11,614 269.31,624.44 C274.71,640.1 276.51,663.6 269.31,679.26 C260.32,693.62 244.12,701.45 231.53,701.45 C217.13,696.23 205.44,676.65 204.54,653.16 C203.64,629.66 213.54,614 223.43,600.95 C226.13,593.12 227.93,585.29 231.53,581.37 Z" fill="#2fa878" filter="url(#b7)"/>
<path d="M232.14,585.23 C237.2,579.1 245.65,584 252.4,586.45 C264.22,586.45 277.73,593.8 277.73,603.6 C277.73,613.4 269.28,615.85 267.6,625.65 C272.66,640.35 274.35,662.39 267.6,677.09 C259.15,690.57 243.96,697.91 232.14,697.91 C218.63,693.02 207.65,674.64 206.81,652.59 C205.97,630.55 215.25,615.85 224.54,603.6 C227.07,596.25 228.76,588.9 232.14,585.23 Z" fill="#4cb848" filter="url(#b4)"/>
<ellipse cx="273.26" cy="644.02" rx="9.69" ry="26.1" fill="#52ba48" filter="url(#b4)"/>
<path d="M233.05,591.01 C237.62,585.49 245.23,589.9 251.32,592.11 C261.98,592.11 274.16,598.74 274.16,607.57 C274.16,616.41 266.54,618.62 265.02,627.45 C269.59,640.71 271.11,660.59 265.02,673.84 C257.41,685.99 243.71,692.61 233.05,692.61 C220.87,688.2 210.98,671.63 210.21,651.75 C209.45,631.87 217.83,618.62 226.2,607.57 C228.48,600.95 230.01,594.32 233.05,591.01 Z" fill="#b4d42c" filter="url(#b3)"/>
<path d="M234.04,597.27 C238.07,592.4 244.78,596.3 250.15,598.25 C259.55,598.25 270.29,604.09 270.29,611.88 C270.29,619.67 263.57,621.62 262.23,629.41 C266.26,641.1 267.6,658.63 262.23,670.31 C255.52,681.03 243.44,686.87 234.04,686.87 C223.3,682.98 214.57,668.37 213.9,650.84 C213.23,633.31 220.62,621.62 228,611.88 C230.01,606.04 231.36,600.2 234.04,597.27 Z" fill="#f2da24" filter="url(#b3)"/>
<ellipse cx="239.35" cy="647.03" rx="17.99" ry="31.12" fill="#f6ac20" filter="url(#b4)" transform="rotate(-12 239.35 647.03)"/>
<ellipse cx="246.96" cy="657.57" rx="21.59" ry="16.94" fill="#f2742c" filter="url(#b3)"/>
<ellipse cx="246.96" cy="657.57" rx="16.28" ry="12.3" fill="#f02858" filter="url(#b1)"/>
<ellipse cx="248.34" cy="657.57" rx="5.88" ry="5.12" fill="#f9a8b4" filter="url(#b2)"/>
</g>
<clipPath id="ce3"><rect x="290.5" y="588.8" width="66.2" height="100.4"/></clipPath>
<g clip-path="url(#ce3)">
<rect x="290.5" y="588.8" width="66.2" height="100.4" fill="#2a74c4" stroke="none" stroke-width="1"/>
<path d="M312.15,581.37 C317.31,574.84 325.92,580.07 332.8,582.68 C344.85,582.68 358.62,590.51 358.62,600.95 C358.62,611.39 350.01,614 348.29,624.44 C353.46,640.1 355.18,663.6 348.29,679.26 C339.69,693.62 324.2,701.45 312.15,701.45 C298.38,696.23 287.19,676.65 286.33,653.16 C285.47,629.66 294.94,614 304.4,600.95 C306.98,593.12 308.7,585.29 312.15,581.37 Z" fill="#2fa878" filter="url(#b7)"/>
<path d="M312.73,585.23 C317.58,579.1 325.65,584 332.11,586.45 C343.42,586.45 356.34,593.8 356.34,603.6 C356.34,613.4 348.27,615.85 346.65,625.65 C351.5,640.35 353.11,662.39 346.65,677.09 C338.57,690.57 324.04,697.91 312.73,697.91 C299.81,693.02 289.31,674.64 288.5,652.59 C287.69,630.55 296.58,615.85 305.46,603.6 C307.88,596.25 309.5,588.9 312.73,585.23 Z" fill="#4cb848" filter="url(#b4)"/>
<ellipse cx="352.07" cy="644.02" rx="9.27" ry="26.1" fill="#52ba48" filter="url(#b4)"/>
<path d="M313.6,591.01 C317.97,585.49 325.25,589.9 331.08,592.11 C341.28,592.11 352.93,598.74 352.93,607.57 C352.93,616.41 345.64,618.62 344.19,627.45 C348.56,640.71 350.01,660.59 344.19,673.84 C336.91,685.99 323.8,692.61 313.6,692.61 C301.95,688.2 292.49,671.63 291.76,651.75 C291.03,631.87 299.04,618.62 307.05,607.57 C309.23,600.95 310.69,594.32 313.6,591.01 Z" fill="#b4d42c" filter="url(#b3)"/>
<path d="M314.55,597.27 C318.4,592.4 324.82,596.3 329.96,598.25 C338.95,598.25 349.23,604.09 349.23,611.88 C349.23,619.67 342.8,621.62 341.52,629.41 C345.37,641.1 346.66,658.63 341.52,670.31 C335.1,681.03 323.54,686.87 314.55,686.87 C304.28,682.98 295.93,668.37 295.29,650.84 C294.64,633.31 301.71,621.62 308.77,611.88 C310.7,606.04 311.98,600.2 314.55,597.27 Z" fill="#f2da24" filter="url(#b3)"/>
<ellipse cx="319.63" cy="647.03" rx="17.21" ry="31.12" fill="#f6ac20" filter="url(#b4)" transform="rotate(-12 319.63 647.03)"/>
<ellipse cx="323.6" cy="657.57" rx="19.79" ry="16.94" fill="#f2742c" filter="url(#b3)"/>
<ellipse cx="323.6" cy="657.57" rx="14.92" ry="12.3" fill="#f02858" filter="url(#b1)"/>
<ellipse cx="324.92" cy="657.57" rx="5.3" ry="4.82" fill="#f9a8b4" filter="url(#b2)"/>
</g>
<clipPath id="ce4"><rect x="41.6" y="697" width="71.2" height="99.2"/></clipPath>
<g clip-path="url(#ce4)">
<rect x="41.6" y="697" width="71.2" height="99.2" fill="#2a74c4" stroke="none" stroke-width="1"/>
<path d="M64.88,689.66 C70.44,683.21 79.69,688.37 87.1,690.95 C100.06,690.95 114.86,698.69 114.86,709 C114.86,719.32 105.61,721.9 103.76,732.22 C109.31,747.69 111.16,770.9 103.76,786.38 C94.5,800.56 77.84,808.3 64.88,808.3 C50.07,803.14 38.04,783.8 37.11,760.59 C36.19,737.37 46.37,721.9 56.55,709 C59.33,701.27 61.18,693.53 64.88,689.66 Z" fill="#2fa878" filter="url(#b7)"/>
<path d="M65.51,693.47 C70.72,687.42 79.41,692.26 86.36,694.68 C98.52,694.68 112.42,701.94 112.42,711.62 C112.42,721.3 103.73,723.72 101.99,733.41 C107.2,747.93 108.94,769.71 101.99,784.24 C93.31,797.55 77.67,804.81 65.51,804.81 C51.61,799.97 40.32,781.82 39.45,760.03 C38.58,738.25 48.14,723.72 57.69,711.62 C60.3,704.36 62.03,697.1 65.51,693.47 Z" fill="#4cb848" filter="url(#b4)"/>
<ellipse cx="107.82" cy="751.56" rx="9.97" ry="25.79" fill="#52ba48" filter="url(#b4)"/>
<path d="M66.45,699.18 C71.15,693.73 78.98,698.09 85.25,700.27 C96.21,700.27 108.74,706.82 108.74,715.55 C108.74,724.28 100.91,726.46 99.34,735.19 C104.04,748.29 105.61,767.93 99.34,781.02 C91.51,793.03 77.41,799.57 66.45,799.57 C53.92,795.21 43.74,778.84 42.95,759.2 C42.17,739.56 50.78,726.46 59.4,715.55 C61.75,709 63.32,702.46 66.45,699.18 Z" fill="#b4d42c" filter="url(#b3)"/>
<path d="M67.47,705.37 C71.61,700.56 78.52,704.41 84.04,706.33 C93.71,706.33 104.76,712.11 104.76,719.81 C104.76,727.5 97.86,729.43 96.47,737.13 C100.62,748.67 102,765.99 96.47,777.54 C89.57,788.13 77.14,793.9 67.47,793.9 C56.42,790.05 47.44,775.62 46.75,758.3 C46.06,740.98 53.65,729.43 61.25,719.81 C63.32,714.03 64.7,708.26 67.47,705.37 Z" fill="#f2da24" filter="url(#b3)"/>
<ellipse cx="72.93" cy="754.54" rx="18.51" ry="30.75" fill="#f6ac20" filter="url(#b4)" transform="rotate(-12 72.93 754.54)"/>
<ellipse cx="77.2" cy="764.95" rx="20.29" ry="17.71" fill="#f07a2c" filter="url(#b3)"/>
<ellipse cx="77.2" cy="764.95" rx="10.47" ry="8.26" fill="#ee3848" filter="url(#b1)"/>
</g>
<clipPath id="ce5"><rect x="124.5" y="697" width="70" height="99.2"/></clipPath>
<g clip-path="url(#ce5)">
<rect x="124.5" y="697" width="70" height="99.2" fill="#2a74c4" stroke="none" stroke-width="1"/>
<path d="M147.39,689.66 C152.85,683.21 161.95,688.37 169.23,690.95 C181.97,690.95 196.53,698.69 196.53,709 C196.53,719.32 187.43,721.9 185.61,732.22 C191.07,747.69 192.89,770.9 185.61,786.38 C176.51,800.56 160.13,808.3 147.39,808.3 C132.83,803.14 121,783.8 120.09,760.59 C119.18,737.37 129.19,721.9 139.2,709 C141.93,701.27 143.75,693.53 147.39,689.66 Z" fill="#2fa878" filter="url(#b7)"/>
<path d="M148.01,693.47 C153.13,687.42 161.67,692.26 168.5,694.68 C180.46,694.68 194.12,701.94 194.12,711.62 C194.12,721.3 185.58,723.72 183.87,733.41 C189,747.93 190.71,769.71 183.87,784.24 C175.33,797.55 159.96,804.81 148.01,804.81 C134.34,799.97 123.24,781.82 122.39,760.03 C121.53,738.25 130.93,723.72 140.32,711.62 C142.88,704.36 144.59,697.1 148.01,693.47 Z" fill="#4cb848" filter="url(#b4)"/>
<ellipse cx="189.6" cy="751.56" rx="9.8" ry="25.79" fill="#52ba48" filter="url(#b4)"/>
<path d="M148.93,699.18 C153.55,693.73 161.25,698.09 167.41,700.27 C178.19,700.27 190.51,706.82 190.51,715.55 C190.51,724.28 182.81,726.46 181.27,735.19 C185.89,748.29 187.43,767.93 181.27,781.02 C173.57,793.03 159.71,799.57 148.93,799.57 C136.61,795.21 126.6,778.84 125.83,759.2 C125.06,739.56 133.53,726.46 142,715.55 C144.31,709 145.85,702.46 148.93,699.18 Z" fill="#b4d42c" filter="url(#b3)"/>
<path d="M149.93,705.37 C154,700.56 160.79,704.41 166.23,706.33 C175.73,706.33 186.6,712.11 186.6,719.81 C186.6,727.5 179.81,729.43 178.45,737.13 C182.52,748.67 183.88,765.99 178.45,777.54 C171.66,788.13 159.44,793.9 149.93,793.9 C139.07,790.05 130.24,775.62 129.56,758.3 C128.88,740.98 136.35,729.43 143.82,719.81 C145.86,714.03 147.22,708.26 149.93,705.37 Z" fill="#f2da24" filter="url(#b3)"/>
<ellipse cx="155.3" cy="754.54" rx="18.2" ry="30.75" fill="#f6ac20" filter="url(#b4)" transform="rotate(-12 155.3 754.54)"/>
<ellipse cx="164.4" cy="762.97" rx="17.29" ry="14.06" fill="#f2742c" filter="url(#b3)"/>
<ellipse cx="164.4" cy="762.97" rx="13.03" ry="10.21" fill="#ee2c54" filter="url(#b1)"/>
<ellipse cx="165.8" cy="762.97" rx="5.95" ry="5.06" fill="#fbb8c4" filter="url(#b2)"/>
</g>
<clipPath id="ce6"><rect x="208.9" y="697" width="69.2" height="99.2"/></clipPath>
<g clip-path="url(#ce6)">
<rect x="208.9" y="697" width="69.2" height="99.2" fill="#2a74c4" stroke="none" stroke-width="1"/>
<path d="M231.53,689.66 C236.93,683.21 245.92,688.37 253.12,690.95 C265.71,690.95 280.11,698.69 280.11,709 C280.11,719.32 271.11,721.9 269.31,732.22 C274.71,747.69 276.51,770.9 269.31,786.38 C260.32,800.56 244.12,808.3 231.53,808.3 C217.13,803.14 205.44,783.8 204.54,760.59 C203.64,737.37 213.54,721.9 223.43,709 C226.13,701.27 227.93,693.53 231.53,689.66 Z" fill="#2fa878" filter="url(#b7)"/>
<path d="M232.14,693.47 C237.2,687.42 245.65,692.26 252.4,694.68 C264.22,694.68 277.73,701.94 277.73,711.62 C277.73,721.3 269.28,723.72 267.6,733.41 C272.66,747.93 274.35,769.71 267.6,784.24 C259.15,797.55 243.96,804.81 232.14,804.81 C218.63,799.97 207.65,781.82 206.81,760.03 C205.97,738.25 215.25,723.72 224.54,711.62 C227.07,704.36 228.76,697.1 232.14,693.47 Z" fill="#4cb848" filter="url(#b4)"/>
<ellipse cx="273.26" cy="751.56" rx="9.69" ry="25.79" fill="#52ba48" filter="url(#b4)"/>
<ellipse cx="214.44" cy="710.89" rx="15.22" ry="19.84" fill="#2858bc" filter="url(#b4)"/>
<path d="M233.05,699.18 C237.62,693.73 245.23,698.09 251.32,700.27 C261.98,700.27 274.16,706.82 274.16,715.55 C274.16,724.28 266.54,726.46 265.02,735.19 C269.59,748.29 271.11,767.93 265.02,781.02 C257.41,793.03 243.71,799.57 233.05,799.57 C220.87,795.21 210.98,778.84 210.21,759.2 C209.45,739.56 217.83,726.46 226.2,715.55 C228.48,709 230.01,702.46 233.05,699.18 Z" fill="#b4d42c" filter="url(#b3)"/>
<path d="M234.04,705.37 C238.07,700.56 244.78,704.41 250.15,706.33 C259.55,706.33 270.29,712.11 270.29,719.81 C270.29,727.5 263.57,729.43 262.23,737.13 C266.26,748.67 267.6,765.99 262.23,777.54 C255.52,788.13 243.44,793.9 234.04,793.9 C223.3,790.05 214.57,775.62 213.9,758.3 C213.23,740.98 220.62,729.43 228,719.81 C230.01,714.03 231.36,708.26 234.04,705.37 Z" fill="#f2da24" filter="url(#b3)"/>
<ellipse cx="239.35" cy="754.54" rx="17.99" ry="30.75" fill="#f6ac20" filter="url(#b4)" transform="rotate(-12 239.35 754.54)"/>
<ellipse cx="240.04" cy="762.97" rx="22.49" ry="17.41" fill="#f2742c" filter="url(#b3)"/>
<ellipse cx="240.04" cy="762.97" rx="16.95" ry="12.64" fill="#f02858" filter="url(#b1)"/>
<ellipse cx="241.42" cy="762.97" rx="6.92" ry="5.95" fill="#ffe8e0" filter="url(#b2)"/>
</g>
<clipPath id="ce7"><rect x="290.5" y="697" width="66.2" height="99.2"/></clipPath>
<g clip-path="url(#ce7)">
<rect x="290.5" y="697" width="66.2" height="99.2" fill="#2a74c4" stroke="none" stroke-width="1"/>
<path d="M312.15,689.66 C317.31,683.21 325.92,688.37 332.8,690.95 C344.85,690.95 358.62,698.69 358.62,709 C358.62,719.32 350.01,721.9 348.29,732.22 C353.46,747.69 355.18,770.9 348.29,786.38 C339.69,800.56 324.2,808.3 312.15,808.3 C298.38,803.14 287.19,783.8 286.33,760.59 C285.47,737.37 294.94,721.9 304.4,709 C306.98,701.27 308.7,693.53 312.15,689.66 Z" fill="#2fa878" filter="url(#b7)"/>
<path d="M312.73,693.47 C317.58,687.42 325.65,692.26 332.11,694.68 C343.42,694.68 356.34,701.94 356.34,711.62 C356.34,721.3 348.27,723.72 346.65,733.41 C351.5,747.93 353.11,769.71 346.65,784.24 C338.57,797.55 324.04,804.81 312.73,804.81 C299.81,799.97 289.31,781.82 288.5,760.03 C287.69,738.25 296.58,723.72 305.46,711.62 C307.88,704.36 309.5,697.1 312.73,693.47 Z" fill="#4cb848" filter="url(#b4)"/>
<ellipse cx="352.07" cy="751.56" rx="9.27" ry="25.79" fill="#52ba48" filter="url(#b4)"/>
<path d="M313.6,699.18 C317.97,693.73 325.25,698.09 331.08,700.27 C341.28,700.27 352.93,706.82 352.93,715.55 C352.93,724.28 345.64,726.46 344.19,735.19 C348.56,748.29 350.01,767.93 344.19,781.02 C336.91,793.03 323.8,799.57 313.6,799.57 C301.95,795.21 292.49,778.84 291.76,759.2 C291.03,739.56 299.04,726.46 307.05,715.55 C309.23,709 310.69,702.46 313.6,699.18 Z" fill="#b4d42c" filter="url(#b3)"/>
<path d="M314.55,705.37 C318.4,700.56 324.82,704.41 329.96,706.33 C338.95,706.33 349.23,712.11 349.23,719.81 C349.23,727.5 342.8,729.43 341.52,737.13 C345.37,748.67 346.66,765.99 341.52,777.54 C335.1,788.13 323.54,793.9 314.55,793.9 C304.28,790.05 295.93,775.62 295.29,758.3 C294.64,740.98 301.71,729.43 308.77,719.81 C310.7,714.03 311.98,708.26 314.55,705.37 Z" fill="#f2da24" filter="url(#b3)"/>
<ellipse cx="319.63" cy="754.54" rx="17.21" ry="30.75" fill="#f6ac20" filter="url(#b4)" transform="rotate(-12 319.63 754.54)"/>
<ellipse cx="321.61" cy="761.98" rx="21.52" ry="18.08" fill="#f2742c" filter="url(#b3)"/>
<ellipse cx="321.61" cy="761.98" rx="16.22" ry="13.12" fill="#f02858" filter="url(#b1)"/>
<ellipse cx="322.94" cy="761.98" rx="6.62" ry="5.95" fill="#ffece4" filter="url(#b2)"/>
</g>
<rect x="373.4" y="588" width="9.8" height="208.2" fill="url(#cbE)" stroke="none" stroke-width="1"/>
<text x="26.7" y="636" font-size="16.5" text-anchor="middle" transform="rotate(-90 26.7 636)">SPNU</text>
<text x="26.7" y="749.5" font-size="16.5" text-anchor="middle" transform="rotate(-90 26.7 749.5)">SPNE</text>
<text x="77.8" y="816.6" font-size="16.5" text-anchor="middle">0 min</text>
<text x="160.3" y="816.6" font-size="16.5" text-anchor="middle">3 min</text>
<text x="245" y="816.6" font-size="16.5" text-anchor="middle">6 min</text>
<text x="322.8" y="816.6" font-size="16.5" text-anchor="middle">10 min</text>
<text x="394.5" y="615.5" font-size="16.5" text-anchor="middle" transform="rotate(90 394.5 615.5)">55 &#176;C</text>
<text x="394.5" y="772.5" font-size="16.5" text-anchor="middle" transform="rotate(90 394.5 772.5)">25 &#176;C</text>
<text x="454.8" y="584.8" font-size="21" font-weight="bold">f</text>
<rect x="501.1" y="597.2" width="246.3" height="200.2" fill="none" stroke="#1a1a1a" stroke-width="1.4"/>
<line x1="495.1" y1="797.4" x2="501.1" y2="797.4" stroke="#1a1a1a" stroke-width="1.4"/>
<text x="489.6" y="802.8" font-size="15" text-anchor="end">25</text>
<line x1="495.1" y1="764.01" x2="501.1" y2="764.01" stroke="#1a1a1a" stroke-width="1.4"/>
<text x="489.6" y="769.41" font-size="15" text-anchor="end">30</text>
<line x1="495.1" y1="730.63" x2="501.1" y2="730.63" stroke="#1a1a1a" stroke-width="1.4"/>
<text x="489.6" y="736.03" font-size="15" text-anchor="end">35</text>
<line x1="495.1" y1="697.25" x2="501.1" y2="697.25" stroke="#1a1a1a" stroke-width="1.4"/>
<text x="489.6" y="702.64" font-size="15" text-anchor="end">40</text>
<line x1="495.1" y1="663.86" x2="501.1" y2="663.86" stroke="#1a1a1a" stroke-width="1.4"/>
<text x="489.6" y="669.26" font-size="15" text-anchor="end">45</text>
<line x1="495.1" y1="630.48" x2="501.1" y2="630.48" stroke="#1a1a1a" stroke-width="1.4"/>
<text x="489.6" y="635.88" font-size="15" text-anchor="end">50</text>
<line x1="495.1" y1="597.09" x2="501.1" y2="597.09" stroke="#1a1a1a" stroke-width="1.4"/>
<text x="489.6" y="602.49" font-size="15" text-anchor="end">55</text>
<line x1="511.7" y1="797.4" x2="511.7" y2="802.9" stroke="#1a1a1a" stroke-width="1.4"/>
<text x="511.7" y="819.3" font-size="15.2" text-anchor="middle">0</text>
<line x1="554.48" y1="797.4" x2="554.48" y2="802.9" stroke="#1a1a1a" stroke-width="1.4"/>
<text x="554.48" y="819.3" font-size="15.2" text-anchor="middle">2</text>
<line x1="597.26" y1="797.4" x2="597.26" y2="802.9" stroke="#1a1a1a" stroke-width="1.4"/>
<text x="597.26" y="819.3" font-size="15.2" text-anchor="middle">4</text>
<line x1="640.04" y1="797.4" x2="640.04" y2="802.9" stroke="#1a1a1a" stroke-width="1.4"/>
<text x="640.04" y="819.3" font-size="15.2" text-anchor="middle">6</text>
<line x1="682.82" y1="797.4" x2="682.82" y2="802.9" stroke="#1a1a1a" stroke-width="1.4"/>
<text x="682.82" y="819.3" font-size="15.2" text-anchor="middle">8</text>
<line x1="725.6" y1="797.4" x2="725.6" y2="802.9" stroke="#1a1a1a" stroke-width="1.4"/>
<text x="725.6" y="819.3" font-size="15.2" text-anchor="middle">10</text>
<text x="624" y="835.3" font-size="15.6" text-anchor="middle">Time (min)</text>
<text x="462" y="697.5" font-size="15.2" text-anchor="middle" transform="rotate(-90 462 697.5)">Temperature (&#176;C)</text>
<path d="M511.7,752.66 C517.05,748.55 533.09,735.3 543.78,727.96 C554.48,720.61 565.17,714.27 575.87,708.6 C586.57,702.92 597.26,698.25 607.95,693.91 C618.65,689.57 627.56,686.28 640.04,682.56 C652.52,678.83 668.56,674.77 682.82,671.54 C697.08,668.31 718.47,664.58 725.6,663.19" fill="none" stroke="#e2383b" stroke-width="1.25"/>
<path d="M511.7,751.33 C517.05,745.54 533.09,727.18 543.78,716.61 C554.48,706.04 565.17,696.69 575.87,687.9 C586.57,679.11 597.26,671.09 607.95,663.86 C618.65,656.63 627.56,651.06 640.04,644.5 C652.52,637.93 672.12,628.69 682.82,624.47 C693.51,620.24 697.08,620.35 704.21,619.12 C711.34,617.9 722.04,617.45 725.6,617.12" fill="none" stroke="#3d87c8" stroke-width="1.25"/>
<line x1="575.87" y1="692.24" x2="575.87" y2="683.56" stroke="#3d87c8" stroke-width="1.5"/>
<line x1="572.27" y1="692.24" x2="579.47" y2="692.24" stroke="#3d87c8" stroke-width="1.5"/>
<line x1="572.27" y1="683.56" x2="579.47" y2="683.56" stroke="#3d87c8" stroke-width="1.5"/>
<path d="M575.87,683.22 L580.16,691.02 L571.58,691.02 Z" fill="#3d87c8" stroke="none" stroke-width="1"/>
<line x1="640.04" y1="652.84" x2="640.04" y2="636.15" stroke="#3d87c8" stroke-width="1.5"/>
<line x1="636.44" y1="652.84" x2="643.64" y2="652.84" stroke="#3d87c8" stroke-width="1.5"/>
<line x1="636.44" y1="636.15" x2="643.64" y2="636.15" stroke="#3d87c8" stroke-width="1.5"/>
<path d="M640.04,639.82 L644.33,647.62 L635.75,647.62 Z" fill="#3d87c8" stroke="none" stroke-width="1"/>
<line x1="725.6" y1="625.8" x2="725.6" y2="608.44" stroke="#3d87c8" stroke-width="1.5"/>
<line x1="722" y1="625.8" x2="729.2" y2="625.8" stroke="#3d87c8" stroke-width="1.5"/>
<line x1="722" y1="608.44" x2="729.2" y2="608.44" stroke="#3d87c8" stroke-width="1.5"/>
<path d="M725.6,612.44 L729.89,620.24 L721.31,620.24 Z" fill="#3d87c8" stroke="none" stroke-width="1"/>
<line x1="511.7" y1="763.35" x2="511.7" y2="741.98" stroke="#e2383b" stroke-width="1.5"/>
<line x1="508.1" y1="763.35" x2="515.3" y2="763.35" stroke="#e2383b" stroke-width="1.5"/>
<line x1="508.1" y1="741.98" x2="515.3" y2="741.98" stroke="#e2383b" stroke-width="1.5"/>
<circle cx="511.7" cy="752.66" r="4" fill="#e2383b" stroke="none" stroke-width="1"/>
<line x1="575.87" y1="716.27" x2="575.87" y2="700.92" stroke="#e2383b" stroke-width="1.5"/>
<line x1="572.27" y1="716.27" x2="579.47" y2="716.27" stroke="#e2383b" stroke-width="1.5"/>
<line x1="572.27" y1="700.92" x2="579.47" y2="700.92" stroke="#e2383b" stroke-width="1.5"/>
<circle cx="575.87" cy="708.6" r="4" fill="#e2383b" stroke="none" stroke-width="1"/>
<line x1="640.04" y1="690.9" x2="640.04" y2="674.21" stroke="#e2383b" stroke-width="1.5"/>
<line x1="636.44" y1="690.9" x2="643.64" y2="690.9" stroke="#e2383b" stroke-width="1.5"/>
<line x1="636.44" y1="674.21" x2="643.64" y2="674.21" stroke="#e2383b" stroke-width="1.5"/>
<circle cx="640.04" cy="682.56" r="4" fill="#e2383b" stroke="none" stroke-width="1"/>
<line x1="725.6" y1="668.87" x2="725.6" y2="657.52" stroke="#e2383b" stroke-width="1.5"/>
<line x1="722" y1="668.87" x2="729.2" y2="668.87" stroke="#e2383b" stroke-width="1.5"/>
<line x1="722" y1="657.52" x2="729.2" y2="657.52" stroke="#e2383b" stroke-width="1.5"/>
<circle cx="725.6" cy="663.19" r="4" fill="#e2383b" stroke="none" stroke-width="1"/>
<line x1="512.2" y1="610.3" x2="534.2" y2="610.3" stroke="#e2383b" stroke-width="1.25"/>
<text x="546.3" y="615.3" font-size="15.2">SPNU</text>
<line x1="512.2" y1="631.1" x2="534.2" y2="631.1" stroke="#3d87c8" stroke-width="1.25"/>
<text x="546.3" y="636.4" font-size="15.2">SPNE</text>
<line x1="732.7" y1="616" x2="732.7" y2="662" stroke="#1a1a1a" stroke-width="1.2"/>
<text x="734.4" y="647.3" font-size="14.5">**</text>
<rect x="832.5" y="307.1" width="244.7" height="203.5" fill="none" stroke="#1a1a1a" stroke-width="1.4"/>
<line x1="827.9" y1="510.6" x2="832.5" y2="510.6" stroke="#1a1a1a" stroke-width="1.4"/>
<text x="826" y="515.4" font-size="13.6" text-anchor="end">0</text>
<line x1="827.9" y1="469.9" x2="832.5" y2="469.9" stroke="#1a1a1a" stroke-width="1.4"/>
<text x="826" y="474.7" font-size="13.6" text-anchor="end">10</text>
<line x1="827.9" y1="429.2" x2="832.5" y2="429.2" stroke="#1a1a1a" stroke-width="1.4"/>
<text x="826" y="434" font-size="13.6" text-anchor="end">20</text>
<line x1="827.9" y1="388.5" x2="832.5" y2="388.5" stroke="#1a1a1a" stroke-width="1.4"/>
<text x="826" y="393.3" font-size="13.6" text-anchor="end">30</text>
<line x1="827.9" y1="347.8" x2="832.5" y2="347.8" stroke="#1a1a1a" stroke-width="1.4"/>
<text x="826" y="352.6" font-size="13.6" text-anchor="end">40</text>
<line x1="827.9" y1="307.1" x2="832.5" y2="307.1" stroke="#1a1a1a" stroke-width="1.4"/>
<text x="826" y="311.9" font-size="13.6" text-anchor="end">50</text>
<line x1="844.5" y1="510.6" x2="844.5" y2="515.4" stroke="#1a1a1a" stroke-width="1.4"/>
<text x="844.5" y="529.3" font-size="13.6" text-anchor="middle">1</text>
<line x1="862.85" y1="510.6" x2="862.85" y2="515.4" stroke="#1a1a1a" stroke-width="1.4"/>
<text x="862.85" y="529.3" font-size="13.6" text-anchor="middle">3</text>
<line x1="881.2" y1="510.6" x2="881.2" y2="515.4" stroke="#1a1a1a" stroke-width="1.4"/>
<text x="881.2" y="529.3" font-size="13.6" text-anchor="middle">5</text>
<line x1="899.55" y1="510.6" x2="899.55" y2="515.4" stroke="#1a1a1a" stroke-width="1.4"/>
<text x="899.55" y="529.3" font-size="13.6" text-anchor="middle">7</text>
<line x1="917.9" y1="510.6" x2="917.9" y2="515.4" stroke="#1a1a1a" stroke-width="1.4"/>
<text x="917.9" y="529.3" font-size="13.6" text-anchor="middle">9</text>
<line x1="936.25" y1="510.6" x2="936.25" y2="515.4" stroke="#1a1a1a" stroke-width="1.4"/>
<text x="936.25" y="529.3" font-size="13.6" text-anchor="middle">11</text>
<line x1="954.6" y1="510.6" x2="954.6" y2="515.4" stroke="#1a1a1a" stroke-width="1.4"/>
<text x="954.6" y="529.3" font-size="13.6" text-anchor="middle">13</text>
<line x1="972.95" y1="510.6" x2="972.95" y2="515.4" stroke="#1a1a1a" stroke-width="1.4"/>
<text x="972.95" y="529.3" font-size="13.6" text-anchor="middle">15</text>
<line x1="991.3" y1="510.6" x2="991.3" y2="515.4" stroke="#1a1a1a" stroke-width="1.4"/>
<text x="991.3" y="529.3" font-size="13.6" text-anchor="middle">18</text>
<line x1="1009.65" y1="510.6" x2="1009.65" y2="515.4" stroke="#1a1a1a" stroke-width="1.4"/>
<text x="1009.65" y="529.3" font-size="13.6" text-anchor="middle">21</text>
<line x1="1028" y1="510.6" x2="1028" y2="515.4" stroke="#1a1a1a" stroke-width="1.4"/>
<text x="1028" y="529.3" font-size="13.6" text-anchor="middle">24</text>
<line x1="1046.35" y1="510.6" x2="1046.35" y2="515.4" stroke="#1a1a1a" stroke-width="1.4"/>
<text x="1046.35" y="529.3" font-size="13.6" text-anchor="middle">27</text>
<line x1="1064.7" y1="510.6" x2="1064.7" y2="515.4" stroke="#1a1a1a" stroke-width="1.4"/>
<text x="1064.7" y="529.3" font-size="13.6" text-anchor="middle">30</text>
<text x="955.4" y="548" font-size="14" text-anchor="middle">Time (d)</text>
<text x="801.3" y="409.35" font-size="13.7" text-anchor="middle" transform="rotate(-90 801.3 409.35)">Relative tumor volume (V/V<tspan dy="3" font-size="70%">0</tspan><tspan dy="-3">&#8203;</tspan>)</text>
<text x="783.5" y="292.3" font-size="21" font-weight="bold">g</text>
<path d="M844.5,506.53 L862.85,503.27 L881.2,496.36 L899.55,482.92 L917.9,464.61 L936.25,437.34 L954.6,408.85 L972.95,384.43 L991.3,360.82" fill="none" stroke="#9a9a9a" stroke-width="1.25"/>
<line x1="862.85" y1="504.5" x2="862.85" y2="502.05" stroke="#9a9a9a" stroke-width="1.4"/>
<line x1="859.15" y1="504.5" x2="866.55" y2="504.5" stroke="#9a9a9a" stroke-width="1.4"/>
<line x1="859.15" y1="502.05" x2="866.55" y2="502.05" stroke="#9a9a9a" stroke-width="1.4"/>
<line x1="881.2" y1="497.98" x2="881.2" y2="494.73" stroke="#9a9a9a" stroke-width="1.4"/>
<line x1="877.5" y1="497.98" x2="884.9" y2="497.98" stroke="#9a9a9a" stroke-width="1.4"/>
<line x1="877.5" y1="494.73" x2="884.9" y2="494.73" stroke="#9a9a9a" stroke-width="1.4"/>
<line x1="899.55" y1="485.37" x2="899.55" y2="480.48" stroke="#9a9a9a" stroke-width="1.4"/>
<line x1="895.85" y1="485.37" x2="903.25" y2="485.37" stroke="#9a9a9a" stroke-width="1.4"/>
<line x1="895.85" y1="480.48" x2="903.25" y2="480.48" stroke="#9a9a9a" stroke-width="1.4"/>
<line x1="917.9" y1="468.68" x2="917.9" y2="460.54" stroke="#9a9a9a" stroke-width="1.4"/>
<line x1="914.2" y1="468.68" x2="921.6" y2="468.68" stroke="#9a9a9a" stroke-width="1.4"/>
<line x1="914.2" y1="460.54" x2="921.6" y2="460.54" stroke="#9a9a9a" stroke-width="1.4"/>
<line x1="936.25" y1="449.55" x2="936.25" y2="425.13" stroke="#9a9a9a" stroke-width="1.4"/>
<line x1="932.55" y1="449.55" x2="939.95" y2="449.55" stroke="#9a9a9a" stroke-width="1.4"/>
<line x1="932.55" y1="425.13" x2="939.95" y2="425.13" stroke="#9a9a9a" stroke-width="1.4"/>
<line x1="954.6" y1="420.25" x2="954.6" y2="397.45" stroke="#9a9a9a" stroke-width="1.4"/>
<line x1="950.9" y1="420.25" x2="958.3" y2="420.25" stroke="#9a9a9a" stroke-width="1.4"/>
<line x1="950.9" y1="397.45" x2="958.3" y2="397.45" stroke="#9a9a9a" stroke-width="1.4"/>
<line x1="972.95" y1="399.08" x2="972.95" y2="369.78" stroke="#9a9a9a" stroke-width="1.4"/>
<line x1="969.25" y1="399.08" x2="976.65" y2="399.08" stroke="#9a9a9a" stroke-width="1.4"/>
<line x1="969.25" y1="369.78" x2="976.65" y2="369.78" stroke="#9a9a9a" stroke-width="1.4"/>
<line x1="991.3" y1="377.92" x2="991.3" y2="343.73" stroke="#9a9a9a" stroke-width="1.4"/>
<line x1="987.6" y1="377.92" x2="995" y2="377.92" stroke="#9a9a9a" stroke-width="1.4"/>
<line x1="987.6" y1="343.73" x2="995" y2="343.73" stroke="#9a9a9a" stroke-width="1.4"/>
<circle cx="844.5" cy="506.53" r="3.7" fill="#9a9a9a" stroke="none" stroke-width="1"/>
<circle cx="862.85" cy="503.27" r="3.7" fill="#9a9a9a" stroke="none" stroke-width="1"/>
<circle cx="881.2" cy="496.36" r="3.7" fill="#9a9a9a" stroke="none" stroke-width="1"/>
<circle cx="899.55" cy="482.92" r="3.7" fill="#9a9a9a" stroke="none" stroke-width="1"/>
<circle cx="917.9" cy="464.61" r="3.7" fill="#9a9a9a" stroke="none" stroke-width="1"/>
<circle cx="936.25" cy="437.34" r="3.7" fill="#9a9a9a" stroke="none" stroke-width="1"/>
<circle cx="954.6" cy="408.85" r="3.7" fill="#9a9a9a" stroke="none" stroke-width="1"/>
<circle cx="972.95" cy="384.43" r="3.7" fill="#9a9a9a" stroke="none" stroke-width="1"/>
<circle cx="991.3" cy="360.82" r="3.7" fill="#9a9a9a" stroke="none" stroke-width="1"/>
<path d="M844.5,506.53 L862.85,504.5 L881.2,500.43 L899.55,486.99 L917.9,472.75 L936.25,448.74 L954.6,425.13 L972.95,405.59 L991.3,380.36 L1009.65,368.15" fill="none" stroke="#f39b22" stroke-width="1.25"/>
<line x1="862.85" y1="506.12" x2="862.85" y2="502.87" stroke="#f39b22" stroke-width="1.4"/>
<line x1="859.15" y1="506.12" x2="866.55" y2="506.12" stroke="#f39b22" stroke-width="1.4"/>
<line x1="859.15" y1="502.87" x2="866.55" y2="502.87" stroke="#f39b22" stroke-width="1.4"/>
<line x1="881.2" y1="502.46" x2="881.2" y2="498.39" stroke="#f39b22" stroke-width="1.4"/>
<line x1="877.5" y1="502.46" x2="884.9" y2="502.46" stroke="#f39b22" stroke-width="1.4"/>
<line x1="877.5" y1="498.39" x2="884.9" y2="498.39" stroke="#f39b22" stroke-width="1.4"/>
<line x1="899.55" y1="490.25" x2="899.55" y2="483.74" stroke="#f39b22" stroke-width="1.4"/>
<line x1="895.85" y1="490.25" x2="903.25" y2="490.25" stroke="#f39b22" stroke-width="1.4"/>
<line x1="895.85" y1="483.74" x2="903.25" y2="483.74" stroke="#f39b22" stroke-width="1.4"/>
<line x1="917.9" y1="479.67" x2="917.9" y2="465.83" stroke="#f39b22" stroke-width="1.4"/>
<line x1="914.2" y1="479.67" x2="921.6" y2="479.67" stroke="#f39b22" stroke-width="1.4"/>
<line x1="914.2" y1="465.83" x2="921.6" y2="465.83" stroke="#f39b22" stroke-width="1.4"/>
<line x1="936.25" y1="453.21" x2="936.25" y2="444.26" stroke="#f39b22" stroke-width="1.4"/>
<line x1="932.55" y1="453.21" x2="939.95" y2="453.21" stroke="#f39b22" stroke-width="1.4"/>
<line x1="932.55" y1="444.26" x2="939.95" y2="444.26" stroke="#f39b22" stroke-width="1.4"/>
<line x1="954.6" y1="432.86" x2="954.6" y2="417.4" stroke="#f39b22" stroke-width="1.4"/>
<line x1="950.9" y1="432.86" x2="958.3" y2="432.86" stroke="#f39b22" stroke-width="1.4"/>
<line x1="950.9" y1="417.4" x2="958.3" y2="417.4" stroke="#f39b22" stroke-width="1.4"/>
<line x1="972.95" y1="416.18" x2="972.95" y2="395.01" stroke="#f39b22" stroke-width="1.4"/>
<line x1="969.25" y1="416.18" x2="976.65" y2="416.18" stroke="#f39b22" stroke-width="1.4"/>
<line x1="969.25" y1="395.01" x2="976.65" y2="395.01" stroke="#f39b22" stroke-width="1.4"/>
<line x1="991.3" y1="391.76" x2="991.3" y2="368.96" stroke="#f39b22" stroke-width="1.4"/>
<line x1="987.6" y1="391.76" x2="995" y2="391.76" stroke="#f39b22" stroke-width="1.4"/>
<line x1="987.6" y1="368.96" x2="995" y2="368.96" stroke="#f39b22" stroke-width="1.4"/>
<line x1="1009.65" y1="376.29" x2="1009.65" y2="360.01" stroke="#f39b22" stroke-width="1.4"/>
<line x1="1005.95" y1="376.29" x2="1013.35" y2="376.29" stroke="#f39b22" stroke-width="1.4"/>
<line x1="1005.95" y1="360.01" x2="1013.35" y2="360.01" stroke="#f39b22" stroke-width="1.4"/>
<path d="M844.5,510.97 L848.57,503.57 L840.43,503.57 Z" fill="#f39b22" stroke="none" stroke-width="1"/>
<path d="M862.85,508.94 L866.92,501.54 L858.78,501.54 Z" fill="#f39b22" stroke="none" stroke-width="1"/>
<path d="M881.2,504.87 L885.27,497.47 L877.13,497.47 Z" fill="#f39b22" stroke="none" stroke-width="1"/>
<path d="M899.55,491.43 L903.62,484.03 L895.48,484.03 Z" fill="#f39b22" stroke="none" stroke-width="1"/>
<path d="M917.9,477.19 L921.97,469.79 L913.83,469.79 Z" fill="#f39b22" stroke="none" stroke-width="1"/>
<path d="M936.25,453.18 L940.32,445.78 L932.18,445.78 Z" fill="#f39b22" stroke="none" stroke-width="1"/>
<path d="M954.6,429.57 L958.67,422.17 L950.53,422.17 Z" fill="#f39b22" stroke="none" stroke-width="1"/>
<path d="M972.95,410.03 L977.02,402.63 L968.88,402.63 Z" fill="#f39b22" stroke="none" stroke-width="1"/>
<path d="M991.3,384.8 L995.37,377.4 L987.23,377.4 Z" fill="#f39b22" stroke="none" stroke-width="1"/>
<path d="M1009.65,372.59 L1013.72,365.19 L1005.58,365.19 Z" fill="#f39b22" stroke="none" stroke-width="1"/>
<path d="M844.5,506.53 L862.85,503.27 L881.2,495.13 L899.55,481.3 L917.9,458.5 L936.25,436.12 L954.6,405.59 L972.95,381.17 L991.3,355.94" fill="none" stroke="#1b8a4b" stroke-width="1.25"/>
<line x1="862.85" y1="504.5" x2="862.85" y2="502.05" stroke="#1b8a4b" stroke-width="1.4"/>
<line x1="859.15" y1="504.5" x2="866.55" y2="504.5" stroke="#1b8a4b" stroke-width="1.4"/>
<line x1="859.15" y1="502.05" x2="866.55" y2="502.05" stroke="#1b8a4b" stroke-width="1.4"/>
<line x1="881.2" y1="496.76" x2="881.2" y2="493.51" stroke="#1b8a4b" stroke-width="1.4"/>
<line x1="877.5" y1="496.76" x2="884.9" y2="496.76" stroke="#1b8a4b" stroke-width="1.4"/>
<line x1="877.5" y1="493.51" x2="884.9" y2="493.51" stroke="#1b8a4b" stroke-width="1.4"/>
<line x1="899.55" y1="483.33" x2="899.55" y2="479.26" stroke="#1b8a4b" stroke-width="1.4"/>
<line x1="895.85" y1="483.33" x2="903.25" y2="483.33" stroke="#1b8a4b" stroke-width="1.4"/>
<line x1="895.85" y1="479.26" x2="903.25" y2="479.26" stroke="#1b8a4b" stroke-width="1.4"/>
<line x1="917.9" y1="461.76" x2="917.9" y2="455.25" stroke="#1b8a4b" stroke-width="1.4"/>
<line x1="914.2" y1="461.76" x2="921.6" y2="461.76" stroke="#1b8a4b" stroke-width="1.4"/>
<line x1="914.2" y1="455.25" x2="921.6" y2="455.25" stroke="#1b8a4b" stroke-width="1.4"/>
<line x1="936.25" y1="442.63" x2="936.25" y2="429.61" stroke="#1b8a4b" stroke-width="1.4"/>
<line x1="932.55" y1="442.63" x2="939.95" y2="442.63" stroke="#1b8a4b" stroke-width="1.4"/>
<line x1="932.55" y1="429.61" x2="939.95" y2="429.61" stroke="#1b8a4b" stroke-width="1.4"/>
<line x1="954.6" y1="414.55" x2="954.6" y2="396.64" stroke="#1b8a4b" stroke-width="1.4"/>
<line x1="950.9" y1="414.55" x2="958.3" y2="414.55" stroke="#1b8a4b" stroke-width="1.4"/>
<line x1="950.9" y1="396.64" x2="958.3" y2="396.64" stroke="#1b8a4b" stroke-width="1.4"/>
<line x1="972.95" y1="395.83" x2="972.95" y2="366.52" stroke="#1b8a4b" stroke-width="1.4"/>
<line x1="969.25" y1="395.83" x2="976.65" y2="395.83" stroke="#1b8a4b" stroke-width="1.4"/>
<line x1="969.25" y1="366.52" x2="976.65" y2="366.52" stroke="#1b8a4b" stroke-width="1.4"/>
<line x1="991.3" y1="379.55" x2="991.3" y2="332.33" stroke="#1b8a4b" stroke-width="1.4"/>
<line x1="987.6" y1="379.55" x2="995" y2="379.55" stroke="#1b8a4b" stroke-width="1.4"/>
<line x1="987.6" y1="332.33" x2="995" y2="332.33" stroke="#1b8a4b" stroke-width="1.4"/>
<rect x="840.6" y="502.63" width="7.8" height="7.8" fill="#1b8a4b" stroke="none" stroke-width="1"/>
<rect x="858.95" y="499.37" width="7.8" height="7.8" fill="#1b8a4b" stroke="none" stroke-width="1"/>
<rect x="877.3" y="491.23" width="7.8" height="7.8" fill="#1b8a4b" stroke="none" stroke-width="1"/>
<rect x="895.65" y="477.4" width="7.8" height="7.8" fill="#1b8a4b" stroke="none" stroke-width="1"/>
<rect x="914" y="454.6" width="7.8" height="7.8" fill="#1b8a4b" stroke="none" stroke-width="1"/>
<rect x="932.35" y="432.22" width="7.8" height="7.8" fill="#1b8a4b" stroke="none" stroke-width="1"/>
<rect x="950.7" y="401.69" width="7.8" height="7.8" fill="#1b8a4b" stroke="none" stroke-width="1"/>
<rect x="969.05" y="377.27" width="7.8" height="7.8" fill="#1b8a4b" stroke="none" stroke-width="1"/>
<rect x="987.4" y="352.04" width="7.8" height="7.8" fill="#1b8a4b" stroke="none" stroke-width="1"/>
<path d="M844.5,506.53 L862.85,506.53 L881.2,506.53 L899.55,506.53 L917.9,505.72 L936.25,502.46 L954.6,500.43 L972.95,493.51 L991.3,486.99 L1009.65,481.3 L1028,470.71 L1046.35,454.43 L1064.7,438.15" fill="none" stroke="#3d87c8" stroke-width="1.25"/>
<line x1="936.25" y1="504.09" x2="936.25" y2="500.83" stroke="#3d87c8" stroke-width="1.4"/>
<line x1="932.55" y1="504.09" x2="939.95" y2="504.09" stroke="#3d87c8" stroke-width="1.4"/>
<line x1="932.55" y1="500.83" x2="939.95" y2="500.83" stroke="#3d87c8" stroke-width="1.4"/>
<line x1="954.6" y1="502.05" x2="954.6" y2="498.8" stroke="#3d87c8" stroke-width="1.4"/>
<line x1="950.9" y1="502.05" x2="958.3" y2="502.05" stroke="#3d87c8" stroke-width="1.4"/>
<line x1="950.9" y1="498.8" x2="958.3" y2="498.8" stroke="#3d87c8" stroke-width="1.4"/>
<line x1="972.95" y1="495.95" x2="972.95" y2="491.06" stroke="#3d87c8" stroke-width="1.4"/>
<line x1="969.25" y1="495.95" x2="976.65" y2="495.95" stroke="#3d87c8" stroke-width="1.4"/>
<line x1="969.25" y1="491.06" x2="976.65" y2="491.06" stroke="#3d87c8" stroke-width="1.4"/>
<line x1="991.3" y1="489.84" x2="991.3" y2="484.15" stroke="#3d87c8" stroke-width="1.4"/>
<line x1="987.6" y1="489.84" x2="995" y2="489.84" stroke="#3d87c8" stroke-width="1.4"/>
<line x1="987.6" y1="484.15" x2="995" y2="484.15" stroke="#3d87c8" stroke-width="1.4"/>
<line x1="1009.65" y1="485.77" x2="1009.65" y2="476.82" stroke="#3d87c8" stroke-width="1.4"/>
<line x1="1005.95" y1="485.77" x2="1013.35" y2="485.77" stroke="#3d87c8" stroke-width="1.4"/>
<line x1="1005.95" y1="476.82" x2="1013.35" y2="476.82" stroke="#3d87c8" stroke-width="1.4"/>
<line x1="1028" y1="478.45" x2="1028" y2="462.98" stroke="#3d87c8" stroke-width="1.4"/>
<line x1="1024.3" y1="478.45" x2="1031.7" y2="478.45" stroke="#3d87c8" stroke-width="1.4"/>
<line x1="1024.3" y1="462.98" x2="1031.7" y2="462.98" stroke="#3d87c8" stroke-width="1.4"/>
<line x1="1046.35" y1="460.95" x2="1046.35" y2="447.92" stroke="#3d87c8" stroke-width="1.4"/>
<line x1="1042.65" y1="460.95" x2="1050.05" y2="460.95" stroke="#3d87c8" stroke-width="1.4"/>
<line x1="1042.65" y1="447.92" x2="1050.05" y2="447.92" stroke="#3d87c8" stroke-width="1.4"/>
<line x1="1064.7" y1="448.74" x2="1064.7" y2="427.57" stroke="#3d87c8" stroke-width="1.4"/>
<line x1="1061" y1="448.74" x2="1068.4" y2="448.74" stroke="#3d87c8" stroke-width="1.4"/>
<line x1="1061" y1="427.57" x2="1068.4" y2="427.57" stroke="#3d87c8" stroke-width="1.4"/>
<path d="M844.5,502.09 L848.57,509.49 L840.43,509.49 Z" fill="#3d87c8" stroke="none" stroke-width="1"/>
<path d="M862.85,502.09 L866.92,509.49 L858.78,509.49 Z" fill="#3d87c8" stroke="none" stroke-width="1"/>
<path d="M881.2,502.09 L885.27,509.49 L877.13,509.49 Z" fill="#3d87c8" stroke="none" stroke-width="1"/>
<path d="M899.55,502.09 L903.62,509.49 L895.48,509.49 Z" fill="#3d87c8" stroke="none" stroke-width="1"/>
<path d="M917.9,501.28 L921.97,508.68 L913.83,508.68 Z" fill="#3d87c8" stroke="none" stroke-width="1"/>
<path d="M936.25,498.02 L940.32,505.42 L932.18,505.42 Z" fill="#3d87c8" stroke="none" stroke-width="1"/>
<path d="M954.6,495.99 L958.67,503.38 L950.53,503.38 Z" fill="#3d87c8" stroke="none" stroke-width="1"/>
<path d="M972.95,489.07 L977.02,496.47 L968.88,496.47 Z" fill="#3d87c8" stroke="none" stroke-width="1"/>
<path d="M991.3,482.55 L995.37,489.95 L987.23,489.95 Z" fill="#3d87c8" stroke="none" stroke-width="1"/>
<path d="M1009.65,476.86 L1013.72,484.26 L1005.58,484.26 Z" fill="#3d87c8" stroke="none" stroke-width="1"/>
<path d="M1028,466.27 L1032.07,473.67 L1023.93,473.67 Z" fill="#3d87c8" stroke="none" stroke-width="1"/>
<path d="M1046.35,449.99 L1050.42,457.39 L1042.28,457.39 Z" fill="#3d87c8" stroke="none" stroke-width="1"/>
<path d="M1064.7,433.71 L1068.77,441.11 L1060.63,441.11 Z" fill="#3d87c8" stroke="none" stroke-width="1"/>
<path d="M844.5,506.53 L862.85,506.53 L881.2,506.53 L899.55,506.53 L917.9,506.53 L936.25,506.94 L954.6,507.34 L972.95,507.75 L991.3,507.75 L1009.65,507.34 L1028,506.53 L1046.35,504.5 L1064.7,502.46" fill="none" stroke="#e2383b" stroke-width="1.25"/>
<path d="M844.5,503.01 L848.02,506.53 L844.5,510.05 L840.98,506.53 Z" fill="#e2383b" stroke="none" stroke-width="1"/>
<path d="M862.85,503.01 L866.37,506.53 L862.85,510.05 L859.33,506.53 Z" fill="#e2383b" stroke="none" stroke-width="1"/>
<path d="M881.2,503.01 L884.72,506.53 L881.2,510.05 L877.68,506.53 Z" fill="#e2383b" stroke="none" stroke-width="1"/>
<path d="M899.55,503.01 L903.07,506.53 L899.55,510.05 L896.03,506.53 Z" fill="#e2383b" stroke="none" stroke-width="1"/>
<path d="M917.9,503.01 L921.42,506.53 L917.9,510.05 L914.38,506.53 Z" fill="#e2383b" stroke="none" stroke-width="1"/>
<path d="M936.25,503.42 L939.77,506.94 L936.25,510.46 L932.73,506.94 Z" fill="#e2383b" stroke="none" stroke-width="1"/>
<path d="M954.6,503.82 L958.12,507.34 L954.6,510.86 L951.08,507.34 Z" fill="#e2383b" stroke="none" stroke-width="1"/>
<path d="M972.95,504.23 L976.47,507.75 L972.95,511.27 L969.43,507.75 Z" fill="#e2383b" stroke="none" stroke-width="1"/>
<path d="M991.3,504.23 L994.82,507.75 L991.3,511.27 L987.78,507.75 Z" fill="#e2383b" stroke="none" stroke-width="1"/>
<path d="M1009.65,503.82 L1013.17,507.34 L1009.65,510.86 L1006.13,507.34 Z" fill="#e2383b" stroke="none" stroke-width="1"/>
<path d="M1028,503.01 L1031.52,506.53 L1028,510.05 L1024.48,506.53 Z" fill="#e2383b" stroke="none" stroke-width="1"/>
<path d="M1046.35,500.98 L1049.87,504.5 L1046.35,508.01 L1042.83,504.5 Z" fill="#e2383b" stroke="none" stroke-width="1"/>
<path d="M1064.7,498.94 L1068.22,502.46 L1064.7,505.98 L1061.18,502.46 Z" fill="#e2383b" stroke="none" stroke-width="1"/>
<line x1="840.3" y1="319.3" x2="859.9" y2="319.3" stroke="#9a9a9a" stroke-width="1.3"/>
<circle cx="850.1" cy="319.3" r="3.3" fill="#9a9a9a" stroke="none" stroke-width="1"/>
<text x="871" y="324.2" font-size="13.7">PBS</text>
<line x1="840.3" y1="338.3" x2="859.9" y2="338.3" stroke="#1b8a4b" stroke-width="1.3"/>
<rect x="846.8" y="335" width="6.6" height="6.6" fill="#1b8a4b" stroke="none" stroke-width="1"/>
<text x="871" y="343.2" font-size="13.7">SPNU</text>
<line x1="840.3" y1="358.2" x2="859.9" y2="358.2" stroke="#3d87c8" stroke-width="1.3"/>
<path d="M850.1,354.24 L853.73,360.84 L846.47,360.84 Z" fill="#3d87c8" stroke="none" stroke-width="1"/>
<text x="871" y="363.1" font-size="13.7">SPNU+laser</text>
<line x1="840.3" y1="375.8" x2="859.9" y2="375.8" stroke="#f39b22" stroke-width="1.3"/>
<path d="M850.1,379.76 L853.73,373.16 L846.47,373.16 Z" fill="#f39b22" stroke="none" stroke-width="1"/>
<text x="871" y="380.7" font-size="13.7">SPNE</text>
<line x1="840.3" y1="393.6" x2="859.9" y2="393.6" stroke="#e2383b" stroke-width="1.3"/>
<path d="M850.1,389.97 L853.73,393.6 L850.1,397.23 L846.47,393.6 Z" fill="#e2383b" stroke="none" stroke-width="1"/>
<text x="871" y="398.5" font-size="13.7">SPNE+laser</text>
<line x1="1067.2" y1="457.5" x2="1067.2" y2="490" stroke="#1a1a1a" stroke-width="1.4"/>
<line x1="1064.5" y1="457.5" x2="1069.9" y2="457.5" stroke="#1a1a1a" stroke-width="1.4"/>
<line x1="1064.5" y1="490" x2="1069.9" y2="490" stroke="#1a1a1a" stroke-width="1.4"/>
<text x="1055" y="480.9" font-size="13.6" text-anchor="middle">***</text>
<rect x="835.6" y="599.2" width="242.7" height="195.4" fill="none" stroke="#1a1a1a" stroke-width="1.4"/>
<line x1="831" y1="794.6" x2="835.6" y2="794.6" stroke="#1a1a1a" stroke-width="1.4"/>
<text x="829.1" y="799.4" font-size="13.6" text-anchor="end">0</text>
<line x1="831" y1="745.75" x2="835.6" y2="745.75" stroke="#1a1a1a" stroke-width="1.4"/>
<text x="829.1" y="750.55" font-size="13.6" text-anchor="end">10</text>
<line x1="831" y1="696.9" x2="835.6" y2="696.9" stroke="#1a1a1a" stroke-width="1.4"/>
<text x="829.1" y="701.7" font-size="13.6" text-anchor="end">20</text>
<line x1="831" y1="648.05" x2="835.6" y2="648.05" stroke="#1a1a1a" stroke-width="1.4"/>
<text x="829.1" y="652.85" font-size="13.6" text-anchor="end">30</text>
<line x1="831" y1="599.2" x2="835.6" y2="599.2" stroke="#1a1a1a" stroke-width="1.4"/>
<text x="829.1" y="604" font-size="13.6" text-anchor="end">40</text>
<line x1="848.3" y1="794.6" x2="848.3" y2="799.4" stroke="#1a1a1a" stroke-width="1.4"/>
<text x="848.3" y="812.4" font-size="13.6" text-anchor="middle">1</text>
<line x1="866.5" y1="794.6" x2="866.5" y2="799.4" stroke="#1a1a1a" stroke-width="1.4"/>
<text x="866.5" y="812.4" font-size="13.6" text-anchor="middle">3</text>
<line x1="884.7" y1="794.6" x2="884.7" y2="799.4" stroke="#1a1a1a" stroke-width="1.4"/>
<text x="884.7" y="812.4" font-size="13.6" text-anchor="middle">5</text>
<line x1="902.9" y1="794.6" x2="902.9" y2="799.4" stroke="#1a1a1a" stroke-width="1.4"/>
<text x="902.9" y="812.4" font-size="13.6" text-anchor="middle">7</text>
<line x1="921.1" y1="794.6" x2="921.1" y2="799.4" stroke="#1a1a1a" stroke-width="1.4"/>
<text x="921.1" y="812.4" font-size="13.6" text-anchor="middle">9</text>
<line x1="939.3" y1="794.6" x2="939.3" y2="799.4" stroke="#1a1a1a" stroke-width="1.4"/>
<text x="939.3" y="812.4" font-size="13.6" text-anchor="middle">11</text>
<line x1="957.5" y1="794.6" x2="957.5" y2="799.4" stroke="#1a1a1a" stroke-width="1.4"/>
<text x="957.5" y="812.4" font-size="13.6" text-anchor="middle">13</text>
<line x1="975.7" y1="794.6" x2="975.7" y2="799.4" stroke="#1a1a1a" stroke-width="1.4"/>
<text x="975.7" y="812.4" font-size="13.6" text-anchor="middle">15</text>
<line x1="993.9" y1="794.6" x2="993.9" y2="799.4" stroke="#1a1a1a" stroke-width="1.4"/>
<text x="993.9" y="812.4" font-size="13.6" text-anchor="middle">18</text>
<line x1="1012.1" y1="794.6" x2="1012.1" y2="799.4" stroke="#1a1a1a" stroke-width="1.4"/>
<text x="1012.1" y="812.4" font-size="13.6" text-anchor="middle">21</text>
<line x1="1030.3" y1="794.6" x2="1030.3" y2="799.4" stroke="#1a1a1a" stroke-width="1.4"/>
<text x="1030.3" y="812.4" font-size="13.6" text-anchor="middle">24</text>
<line x1="1048.5" y1="794.6" x2="1048.5" y2="799.4" stroke="#1a1a1a" stroke-width="1.4"/>
<text x="1048.5" y="812.4" font-size="13.6" text-anchor="middle">27</text>
<line x1="1066.7" y1="794.6" x2="1066.7" y2="799.4" stroke="#1a1a1a" stroke-width="1.4"/>
<text x="1066.7" y="812.4" font-size="13.6" text-anchor="middle">30</text>
<text x="957.8" y="833.8" font-size="14" text-anchor="middle">Time (d)</text>
<text x="803" y="697.4" font-size="13.7" text-anchor="middle" transform="rotate(-90 803 697.4)">Relative tumor volume (V/V<tspan dy="3" font-size="70%">0</tspan><tspan dy="-3">&#8203;</tspan>)</text>
<text x="791" y="584" font-size="21" font-weight="bold">h</text>
<path d="M848.3,789.72 L866.5,787.27 L884.7,777.5 L902.9,770.18 L921.1,762.85 L939.3,731.1 L957.5,714 L975.7,670.03 L993.9,636.81" fill="none" stroke="#9a9a9a" stroke-width="1.25"/>
<line x1="866.5" y1="788.74" x2="866.5" y2="785.81" stroke="#9a9a9a" stroke-width="1.4"/>
<line x1="862.8" y1="788.74" x2="870.2" y2="788.74" stroke="#9a9a9a" stroke-width="1.4"/>
<line x1="862.8" y1="785.81" x2="870.2" y2="785.81" stroke="#9a9a9a" stroke-width="1.4"/>
<line x1="884.7" y1="779.46" x2="884.7" y2="775.55" stroke="#9a9a9a" stroke-width="1.4"/>
<line x1="881" y1="779.46" x2="888.4" y2="779.46" stroke="#9a9a9a" stroke-width="1.4"/>
<line x1="881" y1="775.55" x2="888.4" y2="775.55" stroke="#9a9a9a" stroke-width="1.4"/>
<line x1="902.9" y1="772.62" x2="902.9" y2="767.73" stroke="#9a9a9a" stroke-width="1.4"/>
<line x1="899.2" y1="772.62" x2="906.6" y2="772.62" stroke="#9a9a9a" stroke-width="1.4"/>
<line x1="899.2" y1="767.73" x2="906.6" y2="767.73" stroke="#9a9a9a" stroke-width="1.4"/>
<line x1="921.1" y1="767.24" x2="921.1" y2="758.45" stroke="#9a9a9a" stroke-width="1.4"/>
<line x1="917.4" y1="767.24" x2="924.8" y2="767.24" stroke="#9a9a9a" stroke-width="1.4"/>
<line x1="917.4" y1="758.45" x2="924.8" y2="758.45" stroke="#9a9a9a" stroke-width="1.4"/>
<line x1="939.3" y1="734.03" x2="939.3" y2="728.16" stroke="#9a9a9a" stroke-width="1.4"/>
<line x1="935.6" y1="734.03" x2="943" y2="734.03" stroke="#9a9a9a" stroke-width="1.4"/>
<line x1="935.6" y1="728.16" x2="943" y2="728.16" stroke="#9a9a9a" stroke-width="1.4"/>
<line x1="957.5" y1="723.77" x2="957.5" y2="704.23" stroke="#9a9a9a" stroke-width="1.4"/>
<line x1="953.8" y1="723.77" x2="961.2" y2="723.77" stroke="#9a9a9a" stroke-width="1.4"/>
<line x1="953.8" y1="704.23" x2="961.2" y2="704.23" stroke="#9a9a9a" stroke-width="1.4"/>
<line x1="975.7" y1="677.36" x2="975.7" y2="662.71" stroke="#9a9a9a" stroke-width="1.4"/>
<line x1="972" y1="677.36" x2="979.4" y2="677.36" stroke="#9a9a9a" stroke-width="1.4"/>
<line x1="972" y1="662.71" x2="979.4" y2="662.71" stroke="#9a9a9a" stroke-width="1.4"/>
<line x1="993.9" y1="644.63" x2="993.9" y2="629" stroke="#9a9a9a" stroke-width="1.4"/>
<line x1="990.2" y1="644.63" x2="997.6" y2="644.63" stroke="#9a9a9a" stroke-width="1.4"/>
<line x1="990.2" y1="629" x2="997.6" y2="629" stroke="#9a9a9a" stroke-width="1.4"/>
<circle cx="848.3" cy="789.72" r="3.7" fill="#9a9a9a" stroke="none" stroke-width="1"/>
<circle cx="866.5" cy="787.27" r="3.7" fill="#9a9a9a" stroke="none" stroke-width="1"/>
<circle cx="884.7" cy="777.5" r="3.7" fill="#9a9a9a" stroke="none" stroke-width="1"/>
<circle cx="902.9" cy="770.18" r="3.7" fill="#9a9a9a" stroke="none" stroke-width="1"/>
<circle cx="921.1" cy="762.85" r="3.7" fill="#9a9a9a" stroke="none" stroke-width="1"/>
<circle cx="939.3" cy="731.1" r="3.7" fill="#9a9a9a" stroke="none" stroke-width="1"/>
<circle cx="957.5" cy="714" r="3.7" fill="#9a9a9a" stroke="none" stroke-width="1"/>
<circle cx="975.7" cy="670.03" r="3.7" fill="#9a9a9a" stroke="none" stroke-width="1"/>
<circle cx="993.9" cy="636.81" r="3.7" fill="#9a9a9a" stroke="none" stroke-width="1"/>
<path d="M848.3,789.72 L866.5,787.27 L884.7,778.48 L902.9,771.64 L921.1,762.85 L939.3,751.61 L957.5,728.65 L975.7,696.9 L993.9,662.71 L1012.1,640.72" fill="none" stroke="#f39b22" stroke-width="1.25"/>
<line x1="866.5" y1="788.74" x2="866.5" y2="785.81" stroke="#f39b22" stroke-width="1.4"/>
<line x1="862.8" y1="788.74" x2="870.2" y2="788.74" stroke="#f39b22" stroke-width="1.4"/>
<line x1="862.8" y1="785.81" x2="870.2" y2="785.81" stroke="#f39b22" stroke-width="1.4"/>
<line x1="884.7" y1="780.92" x2="884.7" y2="776.04" stroke="#f39b22" stroke-width="1.4"/>
<line x1="881" y1="780.92" x2="888.4" y2="780.92" stroke="#f39b22" stroke-width="1.4"/>
<line x1="881" y1="776.04" x2="888.4" y2="776.04" stroke="#f39b22" stroke-width="1.4"/>
<line x1="902.9" y1="776.04" x2="902.9" y2="767.24" stroke="#f39b22" stroke-width="1.4"/>
<line x1="899.2" y1="776.04" x2="906.6" y2="776.04" stroke="#f39b22" stroke-width="1.4"/>
<line x1="899.2" y1="767.24" x2="906.6" y2="767.24" stroke="#f39b22" stroke-width="1.4"/>
<line x1="921.1" y1="768.71" x2="921.1" y2="756.99" stroke="#f39b22" stroke-width="1.4"/>
<line x1="917.4" y1="768.71" x2="924.8" y2="768.71" stroke="#f39b22" stroke-width="1.4"/>
<line x1="917.4" y1="756.99" x2="924.8" y2="756.99" stroke="#f39b22" stroke-width="1.4"/>
<line x1="939.3" y1="757.47" x2="939.3" y2="745.75" stroke="#f39b22" stroke-width="1.4"/>
<line x1="935.6" y1="757.47" x2="943" y2="757.47" stroke="#f39b22" stroke-width="1.4"/>
<line x1="935.6" y1="745.75" x2="943" y2="745.75" stroke="#f39b22" stroke-width="1.4"/>
<line x1="957.5" y1="734.51" x2="957.5" y2="722.79" stroke="#f39b22" stroke-width="1.4"/>
<line x1="953.8" y1="734.51" x2="961.2" y2="734.51" stroke="#f39b22" stroke-width="1.4"/>
<line x1="953.8" y1="722.79" x2="961.2" y2="722.79" stroke="#f39b22" stroke-width="1.4"/>
<line x1="975.7" y1="703.25" x2="975.7" y2="690.55" stroke="#f39b22" stroke-width="1.4"/>
<line x1="972" y1="703.25" x2="979.4" y2="703.25" stroke="#f39b22" stroke-width="1.4"/>
<line x1="972" y1="690.55" x2="979.4" y2="690.55" stroke="#f39b22" stroke-width="1.4"/>
<line x1="993.9" y1="671.5" x2="993.9" y2="653.91" stroke="#f39b22" stroke-width="1.4"/>
<line x1="990.2" y1="671.5" x2="997.6" y2="671.5" stroke="#f39b22" stroke-width="1.4"/>
<line x1="990.2" y1="653.91" x2="997.6" y2="653.91" stroke="#f39b22" stroke-width="1.4"/>
<line x1="1012.1" y1="647.56" x2="1012.1" y2="633.88" stroke="#f39b22" stroke-width="1.4"/>
<line x1="1008.4" y1="647.56" x2="1015.8" y2="647.56" stroke="#f39b22" stroke-width="1.4"/>
<line x1="1008.4" y1="633.88" x2="1015.8" y2="633.88" stroke="#f39b22" stroke-width="1.4"/>
<path d="M848.3,794.16 L852.37,786.75 L844.23,786.75 Z" fill="#f39b22" stroke="none" stroke-width="1"/>
<path d="M866.5,791.71 L870.57,784.31 L862.43,784.31 Z" fill="#f39b22" stroke="none" stroke-width="1"/>
<path d="M884.7,782.92 L888.77,775.52 L880.63,775.52 Z" fill="#f39b22" stroke="none" stroke-width="1"/>
<path d="M902.9,776.08 L906.97,768.68 L898.83,768.68 Z" fill="#f39b22" stroke="none" stroke-width="1"/>
<path d="M921.1,767.29 L925.17,759.89 L917.03,759.89 Z" fill="#f39b22" stroke="none" stroke-width="1"/>
<path d="M939.3,756.05 L943.37,748.65 L935.23,748.65 Z" fill="#f39b22" stroke="none" stroke-width="1"/>
<path d="M957.5,733.09 L961.57,725.69 L953.43,725.69 Z" fill="#f39b22" stroke="none" stroke-width="1"/>
<path d="M975.7,701.34 L979.77,693.94 L971.63,693.94 Z" fill="#f39b22" stroke="none" stroke-width="1"/>
<path d="M993.9,667.15 L997.97,659.75 L989.83,659.75 Z" fill="#f39b22" stroke="none" stroke-width="1"/>
<path d="M1012.1,645.16 L1016.17,637.76 L1008.03,637.76 Z" fill="#f39b22" stroke="none" stroke-width="1"/>
<path d="M848.3,789.72 L866.5,787.27 L884.7,776.53 L902.9,771.15 L921.1,761.38 L939.3,739.89 L957.5,702.76 L975.7,670.03 L993.9,620.21" fill="none" stroke="#1b8a4b" stroke-width="1.25"/>
<line x1="866.5" y1="788.74" x2="866.5" y2="785.81" stroke="#1b8a4b" stroke-width="1.4"/>
<line x1="862.8" y1="788.74" x2="870.2" y2="788.74" stroke="#1b8a4b" stroke-width="1.4"/>
<line x1="862.8" y1="785.81" x2="870.2" y2="785.81" stroke="#1b8a4b" stroke-width="1.4"/>
<line x1="884.7" y1="778.97" x2="884.7" y2="774.08" stroke="#1b8a4b" stroke-width="1.4"/>
<line x1="881" y1="778.97" x2="888.4" y2="778.97" stroke="#1b8a4b" stroke-width="1.4"/>
<line x1="881" y1="774.08" x2="888.4" y2="774.08" stroke="#1b8a4b" stroke-width="1.4"/>
<line x1="902.9" y1="774.08" x2="902.9" y2="768.22" stroke="#1b8a4b" stroke-width="1.4"/>
<line x1="899.2" y1="774.08" x2="906.6" y2="774.08" stroke="#1b8a4b" stroke-width="1.4"/>
<line x1="899.2" y1="768.22" x2="906.6" y2="768.22" stroke="#1b8a4b" stroke-width="1.4"/>
<line x1="921.1" y1="768.22" x2="921.1" y2="754.54" stroke="#1b8a4b" stroke-width="1.4"/>
<line x1="917.4" y1="768.22" x2="924.8" y2="768.22" stroke="#1b8a4b" stroke-width="1.4"/>
<line x1="917.4" y1="754.54" x2="924.8" y2="754.54" stroke="#1b8a4b" stroke-width="1.4"/>
<line x1="939.3" y1="745.75" x2="939.3" y2="734.03" stroke="#1b8a4b" stroke-width="1.4"/>
<line x1="935.6" y1="745.75" x2="943" y2="745.75" stroke="#1b8a4b" stroke-width="1.4"/>
<line x1="935.6" y1="734.03" x2="943" y2="734.03" stroke="#1b8a4b" stroke-width="1.4"/>
<line x1="957.5" y1="709.6" x2="957.5" y2="695.92" stroke="#1b8a4b" stroke-width="1.4"/>
<line x1="953.8" y1="709.6" x2="961.2" y2="709.6" stroke="#1b8a4b" stroke-width="1.4"/>
<line x1="953.8" y1="695.92" x2="961.2" y2="695.92" stroke="#1b8a4b" stroke-width="1.4"/>
<line x1="975.7" y1="680.29" x2="975.7" y2="659.77" stroke="#1b8a4b" stroke-width="1.4"/>
<line x1="972" y1="680.29" x2="979.4" y2="680.29" stroke="#1b8a4b" stroke-width="1.4"/>
<line x1="972" y1="659.77" x2="979.4" y2="659.77" stroke="#1b8a4b" stroke-width="1.4"/>
<line x1="993.9" y1="629.98" x2="993.9" y2="610.44" stroke="#1b8a4b" stroke-width="1.4"/>
<line x1="990.2" y1="629.98" x2="997.6" y2="629.98" stroke="#1b8a4b" stroke-width="1.4"/>
<line x1="990.2" y1="610.44" x2="997.6" y2="610.44" stroke="#1b8a4b" stroke-width="1.4"/>
<rect x="844.4" y="785.82" width="7.8" height="7.8" fill="#1b8a4b" stroke="none" stroke-width="1"/>
<rect x="862.6" y="783.37" width="7.8" height="7.8" fill="#1b8a4b" stroke="none" stroke-width="1"/>
<rect x="880.8" y="772.63" width="7.8" height="7.8" fill="#1b8a4b" stroke="none" stroke-width="1"/>
<rect x="899" y="767.25" width="7.8" height="7.8" fill="#1b8a4b" stroke="none" stroke-width="1"/>
<rect x="917.2" y="757.48" width="7.8" height="7.8" fill="#1b8a4b" stroke="none" stroke-width="1"/>
<rect x="935.4" y="735.99" width="7.8" height="7.8" fill="#1b8a4b" stroke="none" stroke-width="1"/>
<rect x="953.6" y="698.86" width="7.8" height="7.8" fill="#1b8a4b" stroke="none" stroke-width="1"/>
<rect x="971.8" y="666.13" width="7.8" height="7.8" fill="#1b8a4b" stroke="none" stroke-width="1"/>
<rect x="990" y="616.31" width="7.8" height="7.8" fill="#1b8a4b" stroke="none" stroke-width="1"/>
<path d="M848.3,789.72 L866.5,788.25 L884.7,783.36 L902.9,783.36 L921.1,780.92 L939.3,776.04 L957.5,772.62 L975.7,764.31 L993.9,748.19 L1012.1,738.42 L1030.3,720.35 L1048.5,695.92 L1066.7,652.94" fill="none" stroke="#3d87c8" stroke-width="1.25"/>
<line x1="884.7" y1="784.83" x2="884.7" y2="781.9" stroke="#3d87c8" stroke-width="1.4"/>
<line x1="881" y1="784.83" x2="888.4" y2="784.83" stroke="#3d87c8" stroke-width="1.4"/>
<line x1="881" y1="781.9" x2="888.4" y2="781.9" stroke="#3d87c8" stroke-width="1.4"/>
<line x1="902.9" y1="784.83" x2="902.9" y2="781.9" stroke="#3d87c8" stroke-width="1.4"/>
<line x1="899.2" y1="784.83" x2="906.6" y2="784.83" stroke="#3d87c8" stroke-width="1.4"/>
<line x1="899.2" y1="781.9" x2="906.6" y2="781.9" stroke="#3d87c8" stroke-width="1.4"/>
<line x1="921.1" y1="782.88" x2="921.1" y2="778.97" stroke="#3d87c8" stroke-width="1.4"/>
<line x1="917.4" y1="782.88" x2="924.8" y2="782.88" stroke="#3d87c8" stroke-width="1.4"/>
<line x1="917.4" y1="778.97" x2="924.8" y2="778.97" stroke="#3d87c8" stroke-width="1.4"/>
<line x1="939.3" y1="779.95" x2="939.3" y2="772.13" stroke="#3d87c8" stroke-width="1.4"/>
<line x1="935.6" y1="779.95" x2="943" y2="779.95" stroke="#3d87c8" stroke-width="1.4"/>
<line x1="935.6" y1="772.13" x2="943" y2="772.13" stroke="#3d87c8" stroke-width="1.4"/>
<line x1="957.5" y1="775.55" x2="957.5" y2="769.69" stroke="#3d87c8" stroke-width="1.4"/>
<line x1="953.8" y1="775.55" x2="961.2" y2="775.55" stroke="#3d87c8" stroke-width="1.4"/>
<line x1="953.8" y1="769.69" x2="961.2" y2="769.69" stroke="#3d87c8" stroke-width="1.4"/>
<line x1="975.7" y1="767.73" x2="975.7" y2="760.89" stroke="#3d87c8" stroke-width="1.4"/>
<line x1="972" y1="767.73" x2="979.4" y2="767.73" stroke="#3d87c8" stroke-width="1.4"/>
<line x1="972" y1="760.89" x2="979.4" y2="760.89" stroke="#3d87c8" stroke-width="1.4"/>
<line x1="993.9" y1="756.5" x2="993.9" y2="739.89" stroke="#3d87c8" stroke-width="1.4"/>
<line x1="990.2" y1="756.5" x2="997.6" y2="756.5" stroke="#3d87c8" stroke-width="1.4"/>
<line x1="990.2" y1="739.89" x2="997.6" y2="739.89" stroke="#3d87c8" stroke-width="1.4"/>
<line x1="1012.1" y1="743.8" x2="1012.1" y2="733.05" stroke="#3d87c8" stroke-width="1.4"/>
<line x1="1008.4" y1="743.8" x2="1015.8" y2="743.8" stroke="#3d87c8" stroke-width="1.4"/>
<line x1="1008.4" y1="733.05" x2="1015.8" y2="733.05" stroke="#3d87c8" stroke-width="1.4"/>
<line x1="1030.3" y1="728.16" x2="1030.3" y2="712.53" stroke="#3d87c8" stroke-width="1.4"/>
<line x1="1026.6" y1="728.16" x2="1034" y2="728.16" stroke="#3d87c8" stroke-width="1.4"/>
<line x1="1026.6" y1="712.53" x2="1034" y2="712.53" stroke="#3d87c8" stroke-width="1.4"/>
<line x1="1048.5" y1="703.25" x2="1048.5" y2="688.6" stroke="#3d87c8" stroke-width="1.4"/>
<line x1="1044.8" y1="703.25" x2="1052.2" y2="703.25" stroke="#3d87c8" stroke-width="1.4"/>
<line x1="1044.8" y1="688.6" x2="1052.2" y2="688.6" stroke="#3d87c8" stroke-width="1.4"/>
<line x1="1066.7" y1="664.17" x2="1066.7" y2="641.7" stroke="#3d87c8" stroke-width="1.4"/>
<line x1="1063" y1="664.17" x2="1070.4" y2="664.17" stroke="#3d87c8" stroke-width="1.4"/>
<line x1="1063" y1="641.7" x2="1070.4" y2="641.7" stroke="#3d87c8" stroke-width="1.4"/>
<path d="M848.3,785.27 L852.37,792.68 L844.23,792.68 Z" fill="#3d87c8" stroke="none" stroke-width="1"/>
<path d="M866.5,783.81 L870.57,791.21 L862.43,791.21 Z" fill="#3d87c8" stroke="none" stroke-width="1"/>
<path d="M884.7,778.92 L888.77,786.32 L880.63,786.32 Z" fill="#3d87c8" stroke="none" stroke-width="1"/>
<path d="M902.9,778.92 L906.97,786.32 L898.83,786.32 Z" fill="#3d87c8" stroke="none" stroke-width="1"/>
<path d="M921.1,776.48 L925.17,783.88 L917.03,783.88 Z" fill="#3d87c8" stroke="none" stroke-width="1"/>
<path d="M939.3,771.6 L943.37,779 L935.23,779 Z" fill="#3d87c8" stroke="none" stroke-width="1"/>
<path d="M957.5,768.18 L961.57,775.58 L953.43,775.58 Z" fill="#3d87c8" stroke="none" stroke-width="1"/>
<path d="M975.7,759.87 L979.77,767.27 L971.63,767.27 Z" fill="#3d87c8" stroke="none" stroke-width="1"/>
<path d="M993.9,743.75 L997.97,751.15 L989.83,751.15 Z" fill="#3d87c8" stroke="none" stroke-width="1"/>
<path d="M1012.1,733.98 L1016.17,741.38 L1008.03,741.38 Z" fill="#3d87c8" stroke="none" stroke-width="1"/>
<path d="M1030.3,715.91 L1034.37,723.31 L1026.23,723.31 Z" fill="#3d87c8" stroke="none" stroke-width="1"/>
<path d="M1048.5,691.48 L1052.57,698.88 L1044.43,698.88 Z" fill="#3d87c8" stroke="none" stroke-width="1"/>
<path d="M1066.7,648.5 L1070.77,655.9 L1062.63,655.9 Z" fill="#3d87c8" stroke="none" stroke-width="1"/>
<path d="M848.3,789.72 L866.5,788.25 L884.7,786.78 L902.9,786.78 L921.1,782.39 L939.3,780.92 L957.5,778.48 L975.7,775.55 L993.9,771.64 L1012.1,765.78 L1030.3,757.47 L1048.5,753.08 L1066.7,738.42" fill="none" stroke="#e2383b" stroke-width="1.25"/>
<line x1="884.7" y1="788.25" x2="884.7" y2="785.32" stroke="#e2383b" stroke-width="1.4"/>
<line x1="881" y1="788.25" x2="888.4" y2="788.25" stroke="#e2383b" stroke-width="1.4"/>
<line x1="881" y1="785.32" x2="888.4" y2="785.32" stroke="#e2383b" stroke-width="1.4"/>
<line x1="902.9" y1="788.25" x2="902.9" y2="785.32" stroke="#e2383b" stroke-width="1.4"/>
<line x1="899.2" y1="788.25" x2="906.6" y2="788.25" stroke="#e2383b" stroke-width="1.4"/>
<line x1="899.2" y1="785.32" x2="906.6" y2="785.32" stroke="#e2383b" stroke-width="1.4"/>
<line x1="921.1" y1="783.85" x2="921.1" y2="780.92" stroke="#e2383b" stroke-width="1.4"/>
<line x1="917.4" y1="783.85" x2="924.8" y2="783.85" stroke="#e2383b" stroke-width="1.4"/>
<line x1="917.4" y1="780.92" x2="924.8" y2="780.92" stroke="#e2383b" stroke-width="1.4"/>
<line x1="939.3" y1="782.39" x2="939.3" y2="779.46" stroke="#e2383b" stroke-width="1.4"/>
<line x1="935.6" y1="782.39" x2="943" y2="782.39" stroke="#e2383b" stroke-width="1.4"/>
<line x1="935.6" y1="779.46" x2="943" y2="779.46" stroke="#e2383b" stroke-width="1.4"/>
<line x1="957.5" y1="780.92" x2="957.5" y2="776.04" stroke="#e2383b" stroke-width="1.4"/>
<line x1="953.8" y1="780.92" x2="961.2" y2="780.92" stroke="#e2383b" stroke-width="1.4"/>
<line x1="953.8" y1="776.04" x2="961.2" y2="776.04" stroke="#e2383b" stroke-width="1.4"/>
<line x1="975.7" y1="778.48" x2="975.7" y2="772.62" stroke="#e2383b" stroke-width="1.4"/>
<line x1="972" y1="778.48" x2="979.4" y2="778.48" stroke="#e2383b" stroke-width="1.4"/>
<line x1="972" y1="772.62" x2="979.4" y2="772.62" stroke="#e2383b" stroke-width="1.4"/>
<line x1="993.9" y1="773.59" x2="993.9" y2="769.69" stroke="#e2383b" stroke-width="1.4"/>
<line x1="990.2" y1="773.59" x2="997.6" y2="773.59" stroke="#e2383b" stroke-width="1.4"/>
<line x1="990.2" y1="769.69" x2="997.6" y2="769.69" stroke="#e2383b" stroke-width="1.4"/>
<line x1="1012.1" y1="768.22" x2="1012.1" y2="763.34" stroke="#e2383b" stroke-width="1.4"/>
<line x1="1008.4" y1="768.22" x2="1015.8" y2="768.22" stroke="#e2383b" stroke-width="1.4"/>
<line x1="1008.4" y1="763.34" x2="1015.8" y2="763.34" stroke="#e2383b" stroke-width="1.4"/>
<line x1="1030.3" y1="759.43" x2="1030.3" y2="755.52" stroke="#e2383b" stroke-width="1.4"/>
<line x1="1026.6" y1="759.43" x2="1034" y2="759.43" stroke="#e2383b" stroke-width="1.4"/>
<line x1="1026.6" y1="755.52" x2="1034" y2="755.52" stroke="#e2383b" stroke-width="1.4"/>
<line x1="1048.5" y1="757.96" x2="1048.5" y2="748.19" stroke="#e2383b" stroke-width="1.4"/>
<line x1="1044.8" y1="757.96" x2="1052.2" y2="757.96" stroke="#e2383b" stroke-width="1.4"/>
<line x1="1044.8" y1="748.19" x2="1052.2" y2="748.19" stroke="#e2383b" stroke-width="1.4"/>
<line x1="1066.7" y1="742.33" x2="1066.7" y2="734.51" stroke="#e2383b" stroke-width="1.4"/>
<line x1="1063" y1="742.33" x2="1070.4" y2="742.33" stroke="#e2383b" stroke-width="1.4"/>
<line x1="1063" y1="734.51" x2="1070.4" y2="734.51" stroke="#e2383b" stroke-width="1.4"/>
<path d="M848.3,786.2 L851.82,789.72 L848.3,793.24 L844.78,789.72 Z" fill="#e2383b" stroke="none" stroke-width="1"/>
<path d="M866.5,784.73 L870.02,788.25 L866.5,791.77 L862.98,788.25 Z" fill="#e2383b" stroke="none" stroke-width="1"/>
<path d="M884.7,783.26 L888.22,786.78 L884.7,790.3 L881.18,786.78 Z" fill="#e2383b" stroke="none" stroke-width="1"/>
<path d="M902.9,783.26 L906.42,786.78 L902.9,790.3 L899.38,786.78 Z" fill="#e2383b" stroke="none" stroke-width="1"/>
<path d="M921.1,778.87 L924.62,782.39 L921.1,785.91 L917.58,782.39 Z" fill="#e2383b" stroke="none" stroke-width="1"/>
<path d="M939.3,777.4 L942.82,780.92 L939.3,784.44 L935.78,780.92 Z" fill="#e2383b" stroke="none" stroke-width="1"/>
<path d="M957.5,774.96 L961.02,778.48 L957.5,782 L953.98,778.48 Z" fill="#e2383b" stroke="none" stroke-width="1"/>
<path d="M975.7,772.03 L979.22,775.55 L975.7,779.07 L972.18,775.55 Z" fill="#e2383b" stroke="none" stroke-width="1"/>
<path d="M993.9,768.12 L997.42,771.64 L993.9,775.16 L990.38,771.64 Z" fill="#e2383b" stroke="none" stroke-width="1"/>
<path d="M1012.1,762.26 L1015.62,765.78 L1012.1,769.3 L1008.58,765.78 Z" fill="#e2383b" stroke="none" stroke-width="1"/>
<path d="M1030.3,753.95 L1033.82,757.47 L1030.3,760.99 L1026.78,757.47 Z" fill="#e2383b" stroke="none" stroke-width="1"/>
<path d="M1048.5,749.56 L1052.02,753.08 L1048.5,756.6 L1044.98,753.08 Z" fill="#e2383b" stroke="none" stroke-width="1"/>
<path d="M1066.7,734.9 L1070.22,738.42 L1066.7,741.94 L1063.18,738.42 Z" fill="#e2383b" stroke="none" stroke-width="1"/>
<line x1="843.5" y1="610.4" x2="863.1" y2="610.4" stroke="#9a9a9a" stroke-width="1.3"/>
<circle cx="853.3" cy="610.4" r="3.3" fill="#9a9a9a" stroke="none" stroke-width="1"/>
<text x="874" y="615.3" font-size="13.7">PBS</text>
<line x1="843.5" y1="629.7" x2="863.1" y2="629.7" stroke="#1b8a4b" stroke-width="1.3"/>
<rect x="850" y="626.4" width="6.6" height="6.6" fill="#1b8a4b" stroke="none" stroke-width="1"/>
<text x="874" y="634.6" font-size="13.7">SPNU</text>
<line x1="843.5" y1="650.4" x2="863.1" y2="650.4" stroke="#3d87c8" stroke-width="1.3"/>
<path d="M853.3,646.44 L856.93,653.04 L849.67,653.04 Z" fill="#3d87c8" stroke="none" stroke-width="1"/>
<text x="874" y="655.3" font-size="13.7">SPNU+laser</text>
<line x1="843.5" y1="672.7" x2="863.1" y2="672.7" stroke="#f39b22" stroke-width="1.3"/>
<path d="M853.3,676.66 L856.93,670.06 L849.67,670.06 Z" fill="#f39b22" stroke="none" stroke-width="1"/>
<text x="874" y="677.6" font-size="13.7">SPNE</text>
<line x1="843.5" y1="691.4" x2="863.1" y2="691.4" stroke="#e2383b" stroke-width="1.3"/>
<path d="M853.3,687.77 L856.93,691.4 L853.3,695.03 L849.67,691.4 Z" fill="#e2383b" stroke="none" stroke-width="1"/>
<text x="874" y="696.3" font-size="13.7">SPNE+laser</text>
<line x1="1067.2" y1="679.4" x2="1067.2" y2="727" stroke="#1a1a1a" stroke-width="1.4"/>
<line x1="1064.5" y1="679.4" x2="1069.9" y2="679.4" stroke="#1a1a1a" stroke-width="1.4"/>
<line x1="1064.5" y1="727" x2="1069.9" y2="727" stroke="#1a1a1a" stroke-width="1.4"/>
<text x="1055.7" y="717" font-size="13.6" text-anchor="middle">***</text>
<text x="5.5" y="870.5" font-size="22" font-weight="bold">i</text>
<clipPath id="ci0"><rect x="41.6" y="875.9" width="119" height="118.2"/></clipPath>
<g clip-path="url(#ci0)">
<rect x="41.6" y="875.9" width="119" height="118.2" fill="#9f5ab8" stroke="none" stroke-width="1"/>
<ellipse cx="65.4" cy="887.72" rx="35.7" ry="23.64" fill="#b880c8" filter="url(#b10)" opacity="0.7" transform="rotate(0 65.4 887.72)"/>
<rect x="11.85" y="846.35" width="178.5" height="177.3" filter="url(#heDark)" opacity="0.5" transform="rotate(-28 101.1 935)"/>
<rect x="11.85" y="846.35" width="178.5" height="177.3" filter="url(#heStreak)" opacity="0.9" transform="rotate(-28 101.1 935)"/>
<rect x="11.85" y="846.35" width="178.5" height="177.3" filter="url(#heFineL)" opacity="0.22" transform="rotate(0 101.1 935)"/>
</g>
<clipPath id="ci1"><rect x="187.9" y="875.9" width="119.4" height="118.2"/></clipPath>
<g clip-path="url(#ci1)">
<rect x="187.9" y="875.9" width="119.4" height="118.2" fill="#aa68bc" stroke="none" stroke-width="1"/>
<ellipse cx="265.51" cy="982.28" rx="65.67" ry="33.1" fill="#cc8cc6" filter="url(#b10)" opacity="0.95" transform="rotate(0 265.51 982.28)"/><ellipse cx="301.33" cy="887.72" rx="23.88" ry="23.64" fill="#c890cc" filter="url(#b10)" opacity="0.7" transform="rotate(0 301.33 887.72)"/>
<rect x="158.05" y="846.35" width="179.1" height="177.3" filter="url(#heDark)" opacity="0.5" transform="rotate(-45 247.6 935)"/>
<rect x="158.05" y="846.35" width="179.1" height="177.3" filter="url(#heStreak)" opacity="0.3" transform="rotate(-45 247.6 935)"/>
<rect x="158.05" y="846.35" width="179.1" height="177.3" filter="url(#heFineL)" opacity="0.25" transform="rotate(0 247.6 935)"/>
<rect x="158.05" y="846.35" width="179.1" height="177.3" filter="url(#heFineD)" opacity="0.35" transform="rotate(0 247.6 935)"/>
</g>
<clipPath id="ci2"><rect x="334.9" y="875.9" width="120.5" height="118.2"/></clipPath>
<g clip-path="url(#ci2)">
<rect x="334.9" y="875.9" width="120.5" height="118.2" fill="#c47ebc" stroke="none" stroke-width="1"/>
<ellipse cx="366.23" cy="946.82" rx="33.74" ry="26" fill="#eebcd6" filter="url(#b10)" opacity="1" transform="rotate(0 366.23 946.82)"/><ellipse cx="419.25" cy="897.18" rx="48.2" ry="26" fill="#a066ba" filter="url(#b10)" opacity="0.9" transform="rotate(0 419.25 897.18)"/><ellipse cx="346.95" cy="984.64" rx="24.1" ry="17.73" fill="#a870c0" filter="url(#b10)" opacity="0.8" transform="rotate(0 346.95 984.64)"/><ellipse cx="445.76" cy="946.82" rx="18.07" ry="35.46" fill="#ac74c0" filter="url(#b10)" opacity="0.8" transform="rotate(0 445.76 946.82)"/>
<rect x="304.77" y="846.35" width="180.75" height="177.3" filter="url(#heFineD)" opacity="0.75" transform="rotate(0 395.15 935)"/>
<rect x="304.77" y="846.35" width="180.75" height="177.3" filter="url(#heFineL)" opacity="0.42" transform="rotate(10 395.15 935)"/>
</g>
<clipPath id="ci3"><rect x="480.6" y="875.9" width="119.2" height="118.2"/></clipPath>
<g clip-path="url(#ci3)">
<rect x="480.6" y="875.9" width="119.2" height="118.2" fill="#a46cbe" stroke="none" stroke-width="1"/>
<ellipse cx="498.48" cy="958.64" rx="29.8" ry="35.46" fill="#f0c4dc" filter="url(#b10)" opacity="1" transform="rotate(0 498.48 958.64)"/><ellipse cx="585.5" cy="970.46" rx="23.84" ry="23.64" fill="#e0a8d0" filter="url(#b10)" opacity="0.9" transform="rotate(0 585.5 970.46)"/><ellipse cx="534.24" cy="905.45" rx="23.84" ry="11.82" fill="#d8a0d0" filter="url(#b10)" opacity="0.7" transform="rotate(0 534.24 905.45)"/><ellipse cx="546.16" cy="929.09" rx="41.72" ry="17.73" fill="#8a54b0" filter="url(#b10)" opacity="0.7" transform="rotate(0 546.16 929.09)"/>
<rect x="450.8" y="846.35" width="178.8" height="177.3" filter="url(#heFineD)" opacity="0.7" transform="rotate(0 540.2 935)"/>
<rect x="450.8" y="846.35" width="178.8" height="177.3" filter="url(#heFineL)" opacity="0.38" transform="rotate(10 540.2 935)"/>
</g>
<clipPath id="ci4"><rect x="625.4" y="877.9" width="120.5" height="116.2"/></clipPath>
<g clip-path="url(#ci4)">
<rect x="625.4" y="877.9" width="120.5" height="116.2" fill="#c078b6" stroke="none" stroke-width="1"/>
<ellipse cx="639.86" cy="958.64" rx="18.07" ry="23.64" fill="#ecb8d6" filter="url(#b10)" opacity="0.9" transform="rotate(0 639.86 958.64)"/><ellipse cx="697.7" cy="899.54" rx="48.2" ry="23.64" fill="#b478bc" filter="url(#b10)" opacity="0.6" transform="rotate(0 697.7 899.54)"/>
<rect x="595.27" y="848.85" width="180.75" height="174.3" filter="url(#heFineD)" opacity="0.7" transform="rotate(0 685.65 936)"/>
<rect x="595.27" y="848.85" width="180.75" height="174.3" filter="url(#heFineL)" opacity="0.38" transform="rotate(10 685.65 936)"/>
<rect x="595.27" y="848.85" width="180.75" height="174.3" filter="url(#heStreak)" opacity="0.25" transform="rotate(5 685.65 936)"/>
</g>
<clipPath id="ci5"><rect x="41.6" y="1016.3" width="119" height="120.2"/></clipPath>
<g clip-path="url(#ci5)">
<rect x="41.6" y="1016.3" width="119" height="120.2" fill="#0a0d36" stroke="none" stroke-width="1"/>
<ellipse cx="101.1" cy="1076.4" rx="59.5" ry="60.1" fill="#141c5a" filter="url(#b10)" opacity="0.35" transform="rotate(0 101.1 1076.4)"/>
<g filter="url(#b05)" opacity="0.95"><ellipse cx="57.6" cy="1118.2" rx="3.7" ry="4.1" fill="#4254d0"/><ellipse cx="132.5" cy="1047.0" rx="3.4" ry="2.2" fill="#3444b8"/><ellipse cx="100.6" cy="1070.3" rx="3.1" ry="3.7" fill="#2e3ca8"/><ellipse cx="119.1" cy="1111.1" rx="3.0" ry="2.5" fill="#3a4cc8"/><ellipse cx="52.8" cy="1019.7" rx="3.4" ry="2.2" fill="#2e3ca8"/><ellipse cx="141.1" cy="1068.3" rx="2.1" ry="2.6" fill="#3a4cc8"/><ellipse cx="132.3" cy="1016.6" rx="1.8" ry="2.8" fill="#3a4cc8"/><ellipse cx="94.6" cy="1103.0" rx="2.7" ry="2.2" fill="#3444b8"/><ellipse cx="68.8" cy="1129.9" rx="2.8" ry="1.9" fill="#3a4cc8"/><ellipse cx="148.9" cy="1020.0" rx="3.3" ry="3.1" fill="#2e3ca8"/><ellipse cx="44.6" cy="1081.4" rx="2.9" ry="1.9" fill="#3444b8"/><ellipse cx="153.4" cy="1062.1" rx="2.1" ry="2.6" fill="#3a4cc8"/><ellipse cx="67.4" cy="1067.0" rx="3.2" ry="3.0" fill="#2e3ca8"/><ellipse cx="45.1" cy="1042.9" rx="2.9" ry="3.2" fill="#3a4cc8"/><ellipse cx="93.7" cy="1075.9" rx="4.0" ry="3.8" fill="#2e3ca8"/><ellipse cx="69.3" cy="1044.1" rx="3.1" ry="2.3" fill="#3444b8"/><ellipse cx="76.1" cy="1018.9" rx="3.8" ry="2.6" fill="#4254d0"/><ellipse cx="141.3" cy="1083.2" rx="2.6" ry="2.0" fill="#3444b8"/><ellipse cx="118.0" cy="1038.6" rx="2.9" ry="2.5" fill="#2e3ca8"/><ellipse cx="159.7" cy="1119.7" rx="2.7" ry="2.3" fill="#3a4cc8"/><ellipse cx="56.0" cy="1056.3" rx="3.3" ry="2.3" fill="#4254d0"/><ellipse cx="127.5" cy="1101.8" rx="4.1" ry="3.8" fill="#2e3ca8"/><ellipse cx="140.4" cy="1096.9" rx="3.2" ry="3.6" fill="#3a4cc8"/><ellipse cx="77.7" cy="1086.9" rx="2.7" ry="2.5" fill="#4254d0"/><ellipse cx="146.6" cy="1118.0" rx="3.6" ry="2.8" fill="#3a4cc8"/><ellipse cx="101.7" cy="1087.1" rx="2.3" ry="2.9" fill="#2e3ca8"/><ellipse cx="62.2" cy="1082.3" rx="3.1" ry="2.6" fill="#2e3ca8"/><ellipse cx="86.2" cy="1069.1" rx="3.1" ry="3.0" fill="#3a4cc8"/><ellipse cx="102.1" cy="1109.9" rx="3.3" ry="3.5" fill="#3444b8"/><ellipse cx="103.6" cy="1063.6" rx="2.0" ry="2.6" fill="#3a4cc8"/><ellipse cx="99.9" cy="1019.9" rx="2.8" ry="2.0" fill="#4254d0"/><ellipse cx="46.8" cy="1100.8" rx="2.9" ry="3.3" fill="#3444b8"/><ellipse cx="158.6" cy="1087.6" rx="2.7" ry="3.4" fill="#3a4cc8"/><ellipse cx="88.4" cy="1036.8" rx="3.0" ry="3.4" fill="#4254d0"/><ellipse cx="101.4" cy="1134.3" rx="2.8" ry="3.2" fill="#3a4cc8"/><ellipse cx="133.3" cy="1081.2" rx="3.0" ry="3.2" fill="#3444b8"/><ellipse cx="144.0" cy="1044.2" rx="3.0" ry="3.7" fill="#3444b8"/><ellipse cx="110.4" cy="1071.5" rx="2.5" ry="3.3" fill="#3a4cc8"/><ellipse cx="155.5" cy="1017.0" rx="1.8" ry="2.9" fill="#4254d0"/><ellipse cx="134.9" cy="1114.9" rx="2.6" ry="3.5" fill="#3a4cc8"/><ellipse cx="147.1" cy="1105.3" rx="3.1" ry="3.8" fill="#3a4cc8"/><ellipse cx="48.3" cy="1120.9" rx="3.4" ry="2.8" fill="#3444b8"/><ellipse cx="109.4" cy="1040.3" rx="3.9" ry="2.9" fill="#4254d0"/><ellipse cx="84.1" cy="1057.9" rx="3.5" ry="3.3" fill="#3444b8"/><ellipse cx="72.0" cy="1117.5" rx="3.0" ry="2.9" fill="#4254d0"/><ellipse cx="121.7" cy="1026.3" rx="3.6" ry="3.0" fill="#4254d0"/><ellipse cx="43.6" cy="1018.1" rx="3.5" ry="3.9" fill="#3444b8"/><ellipse cx="54.6" cy="1091.4" rx="2.5" ry="3.9" fill="#3444b8"/><ellipse cx="82.6" cy="1024.7" rx="2.8" ry="2.2" fill="#3a4cc8"/><ellipse cx="61.6" cy="1049.1" rx="2.8" ry="3.0" fill="#3a4cc8"/><ellipse cx="126.3" cy="1071.0" rx="2.4" ry="3.2" fill="#4254d0"/><ellipse cx="79.9" cy="1073.2" rx="3.2" ry="3.7" fill="#2e3ca8"/><ellipse cx="44.4" cy="1062.8" rx="3.0" ry="2.0" fill="#3a4cc8"/><ellipse cx="54.5" cy="1124.5" rx="3.3" ry="2.9" fill="#3a4cc8"/><ellipse cx="102.3" cy="1041.4" rx="2.3" ry="3.5" fill="#3a4cc8"/><ellipse cx="113.7" cy="1114.5" rx="2.0" ry="2.8" fill="#4254d0"/><ellipse cx="59.0" cy="1102.7" rx="2.8" ry="4.0" fill="#4254d0"/><ellipse cx="122.3" cy="1081.8" rx="2.6" ry="2.4" fill="#2e3ca8"/><ellipse cx="68.2" cy="1094.3" rx="1.7" ry="2.6" fill="#4254d0"/><ellipse cx="88.6" cy="1085.5" rx="2.3" ry="2.7" fill="#3a4cc8"/><ellipse cx="48.6" cy="1052.2" rx="2.8" ry="2.6" fill="#3a4cc8"/><ellipse cx="78.1" cy="1119.5" rx="3.2" ry="2.8" fill="#2e3ca8"/><ellipse cx="78.5" cy="1129.2" rx="2.8" ry="2.2" fill="#3444b8"/><ellipse cx="139.1" cy="1132.0" rx="1.7" ry="2.7" fill="#3a4cc8"/><ellipse cx="65.5" cy="1055.7" rx="2.4" ry="3.3" fill="#4254d0"/><ellipse cx="159.1" cy="1110.4" rx="2.9" ry="3.1" fill="#2e3ca8"/><ellipse cx="82.0" cy="1041.9" rx="2.7" ry="3.3" fill="#3444b8"/><ellipse cx="121.9" cy="1117.0" rx="3.0" ry="3.7" fill="#3444b8"/><ellipse cx="146.6" cy="1098.9" rx="3.3" ry="2.7" fill="#3444b8"/><ellipse cx="69.5" cy="1103.5" rx="2.9" ry="2.2" fill="#2e3ca8"/><ellipse cx="51.7" cy="1036.7" rx="3.5" ry="3.8" fill="#3a4cc8"/><ellipse cx="150.0" cy="1041.9" rx="2.1" ry="2.7" fill="#4254d0"/><ellipse cx="131.9" cy="1088.4" rx="2.4" ry="3.4" fill="#2e3ca8"/><ellipse cx="141.7" cy="1060.5" rx="3.7" ry="4.0" fill="#4254d0"/><ellipse cx="82.1" cy="1051.3" rx="2.8" ry="2.2" fill="#3444b8"/><ellipse cx="144.8" cy="1088.9" rx="2.0" ry="2.9" fill="#2e3ca8"/><ellipse cx="134.6" cy="1061.7" rx="3.9" ry="2.5" fill="#3a4cc8"/><ellipse cx="151.7" cy="1071.3" rx="3.6" ry="2.8" fill="#3444b8"/><ellipse cx="74.6" cy="1110.9" rx="3.4" ry="3.1" fill="#2e3ca8"/><ellipse cx="140.1" cy="1017.8" rx="2.5" ry="3.9" fill="#2e3ca8"/><ellipse cx="159.2" cy="1066.9" rx="2.8" ry="3.3" fill="#3444b8"/><ellipse cx="86.6" cy="1132.9" rx="3.9" ry="3.0" fill="#4254d0"/><ellipse cx="149.8" cy="1051.6" rx="2.8" ry="3.1" fill="#3a4cc8"/><ellipse cx="71.8" cy="1073.6" rx="2.8" ry="2.6" fill="#4254d0"/><ellipse cx="158.5" cy="1051.8" rx="2.6" ry="2.0" fill="#3a4cc8"/><ellipse cx="150.3" cy="1132.9" rx="3.2" ry="4.1" fill="#3444b8"/><ellipse cx="157.0" cy="1029.7" rx="3.2" ry="2.6" fill="#3a4cc8"/><ellipse cx="123.5" cy="1095.9" rx="2.9" ry="2.4" fill="#4254d0"/><ellipse cx="72.4" cy="1081.4" rx="2.7" ry="1.8" fill="#2e3ca8"/><ellipse cx="110.5" cy="1087.9" rx="2.9" ry="3.7" fill="#4254d0"/><ellipse cx="70.6" cy="1025.0" rx="2.7" ry="1.9" fill="#4254d0"/><ellipse cx="107.2" cy="1024.8" rx="3.0" ry="3.5" fill="#3a4cc8"/><ellipse cx="100.3" cy="1120.0" rx="2.8" ry="2.1" fill="#2e3ca8"/><ellipse cx="136.2" cy="1025.6" rx="3.9" ry="3.3" fill="#3a4cc8"/><ellipse cx="154.6" cy="1037.1" rx="3.4" ry="2.8" fill="#3a4cc8"/><ellipse cx="54.3" cy="1078.1" rx="1.9" ry="2.6" fill="#3444b8"/><ellipse cx="148.0" cy="1033.3" rx="3.4" ry="2.8" fill="#3a4cc8"/><ellipse cx="137.3" cy="1125.3" rx="3.2" ry="2.4" fill="#3444b8"/><ellipse cx="107.0" cy="1081.4" rx="3.1" ry="2.8" fill="#3a4cc8"/><ellipse cx="118.5" cy="1066.4" rx="2.2" ry="3.2" fill="#3444b8"/><ellipse cx="69.4" cy="1017.2" rx="2.2" ry="2.9" fill="#3a4cc8"/><ellipse cx="47.3" cy="1024.9" rx="3.2" ry="2.9" fill="#3a4cc8"/><ellipse cx="85.8" cy="1100.6" rx="3.8" ry="2.7" fill="#2e3ca8"/><ellipse cx="46.4" cy="1134.2" rx="2.8" ry="1.8" fill="#2e3ca8"/><ellipse cx="94.6" cy="1127.4" rx="2.5" ry="3.2" fill="#4254d0"/><ellipse cx="132.2" cy="1133.3" rx="2.1" ry="3.4" fill="#2e3ca8"/><ellipse cx="109.7" cy="1053.7" rx="2.8" ry="2.1" fill="#3444b8"/><ellipse cx="77.9" cy="1064.3" rx="2.2" ry="2.9" fill="#4254d0"/><ellipse cx="100.2" cy="1094.1" rx="3.1" ry="4.0" fill="#2e3ca8"/><ellipse cx="42.1" cy="1049.7" rx="3.0" ry="2.2" fill="#3444b8"/><ellipse cx="112.8" cy="1122.3" rx="2.7" ry="2.9" fill="#2e3ca8"/><ellipse cx="77.9" cy="1036.8" rx="2.8" ry="2.6" fill="#4254d0"/><ellipse cx="115.4" cy="1080.1" rx="2.2" ry="3.3" fill="#3444b8"/><ellipse cx="84.4" cy="1016.7" rx="2.1" ry="2.7" fill="#3a4cc8"/><ellipse cx="89.8" cy="1119.8" rx="2.8" ry="3.2" fill="#3a4cc8"/><ellipse cx="111.1" cy="1104.5" rx="1.7" ry="2.6" fill="#3444b8"/><ellipse cx="116.5" cy="1092.5" rx="2.4" ry="3.1" fill="#4254d0"/><ellipse cx="106.4" cy="1034.6" rx="3.7" ry="3.9" fill="#3a4cc8"/><ellipse cx="91.9" cy="1059.0" rx="2.9" ry="2.5" fill="#2e3ca8"/><ellipse cx="119.8" cy="1018.7" rx="3.2" ry="3.0" fill="#4254d0"/><ellipse cx="123.6" cy="1089.0" rx="2.6" ry="2.8" fill="#4254d0"/><ellipse cx="61.7" cy="1094.8" rx="4.0" ry="2.6" fill="#4254d0"/><ellipse cx="62.1" cy="1111.2" rx="3.3" ry="3.4" fill="#3a4cc8"/><ellipse cx="135.1" cy="1039.1" rx="3.4" ry="2.6" fill="#4254d0"/><ellipse cx="113.7" cy="1047.8" rx="3.5" ry="3.2" fill="#3444b8"/><ellipse cx="127.1" cy="1053.0" rx="2.7" ry="3.0" fill="#2e3ca8"/><ellipse cx="54.3" cy="1064.0" rx="3.2" ry="2.4" fill="#3a4cc8"/><ellipse cx="100.2" cy="1028.3" rx="1.8" ry="2.5" fill="#2e3ca8"/><ellipse cx="63.8" cy="1023.0" rx="2.6" ry="3.2" fill="#4254d0"/><ellipse cx="159.9" cy="1021.9" rx="3.7" ry="4.0" fill="#3a4cc8"/><ellipse cx="57.1" cy="1071.9" rx="3.7" ry="3.5" fill="#2e3ca8"/><ellipse cx="74.2" cy="1030.4" rx="2.6" ry="4.0" fill="#3444b8"/><ellipse cx="116.7" cy="1132.8" rx="2.5" ry="2.9" fill="#4254d0"/><ellipse cx="65.3" cy="1122.1" rx="3.6" ry="3.3" fill="#2e3ca8"/><ellipse cx="92.1" cy="1095.9" rx="3.3" ry="3.9" fill="#3a4cc8"/><ellipse cx="94.4" cy="1031.7" rx="3.7" ry="2.7" fill="#3a4cc8"/><ellipse cx="159.2" cy="1102.8" rx="2.6" ry="3.5" fill="#4254d0"/><ellipse cx="105.3" cy="1124.1" rx="3.7" ry="3.4" fill="#2e3ca8"/><ellipse cx="140.6" cy="1051.3" rx="3.0" ry="1.9" fill="#2e3ca8"/><ellipse cx="46.8" cy="1114.3" rx="3.2" ry="3.6" fill="#2e3ca8"/><ellipse cx="119.1" cy="1054.0" rx="3.3" ry="3.9" fill="#2e3ca8"/><ellipse cx="80.3" cy="1106.3" rx="3.7" ry="3.4" fill="#3a4cc8"/><ellipse cx="151.4" cy="1112.6" rx="2.5" ry="2.4" fill="#2e3ca8"/><ellipse cx="110.1" cy="1135.6" rx="2.7" ry="3.7" fill="#3a4cc8"/><ellipse cx="134.9" cy="1100.8" rx="2.6" ry="2.7" fill="#2e3ca8"/><ellipse cx="153.7" cy="1093.6" rx="3.8" ry="2.6" fill="#4254d0"/><ellipse cx="158.2" cy="1080.3" rx="3.3" ry="3.4" fill="#3a4cc8"/><ellipse cx="61.6" cy="1034.1" rx="3.7" ry="2.8" fill="#2e3ca8"/><ellipse cx="54.3" cy="1047.8" rx="2.9" ry="4.0" fill="#3444b8"/><ellipse cx="128.0" cy="1114.1" rx="3.3" ry="2.8" fill="#2e3ca8"/><ellipse cx="98.9" cy="1056.8" rx="2.3" ry="2.9" fill="#4254d0"/><ellipse cx="134.1" cy="1074.7" rx="2.3" ry="2.8" fill="#4254d0"/><ellipse cx="156.6" cy="1043.9" rx="2.7" ry="2.6" fill="#3a4cc8"/><ellipse cx="73.2" cy="1049.8" rx="2.2" ry="3.2" fill="#3444b8"/><ellipse cx="143.7" cy="1110.8" rx="2.6" ry="1.7" fill="#3a4cc8"/><ellipse cx="143.2" cy="1029.0" rx="3.0" ry="3.7" fill="#4254d0"/><ellipse cx="74.9" cy="1099.9" rx="2.8" ry="3.2" fill="#2e3ca8"/><ellipse cx="123.1" cy="1043.5" rx="4.1" ry="3.4" fill="#3444b8"/><ellipse cx="45.3" cy="1033.0" rx="3.4" ry="2.6" fill="#3444b8"/><ellipse cx="106.6" cy="1046.4" rx="3.1" ry="2.5" fill="#3444b8"/><ellipse cx="106.4" cy="1117.7" rx="3.0" ry="2.8" fill="#3a4cc8"/><ellipse cx="47.9" cy="1072.9" rx="3.6" ry="4.0" fill="#2e3ca8"/><ellipse cx="73.8" cy="1134.5" rx="2.4" ry="2.6" fill="#4254d0"/><ellipse cx="121.7" cy="1123.4" rx="3.4" ry="2.8" fill="#4254d0"/><ellipse cx="60.1" cy="1133.1" rx="3.2" ry="2.1" fill="#3444b8"/><ellipse cx="150.2" cy="1080.9" rx="2.5" ry="3.0" fill="#3a4cc8"/><ellipse cx="92.5" cy="1111.8" rx="2.7" ry="3.1" fill="#2e3ca8"/><ellipse cx="117.9" cy="1073.9" rx="2.6" ry="3.8" fill="#4254d0"/><ellipse cx="79.5" cy="1080.6" rx="3.7" ry="2.6" fill="#3444b8"/><ellipse cx="66.3" cy="1077.3" rx="3.2" ry="3.4" fill="#2e3ca8"/><ellipse cx="91.7" cy="1049.0" rx="3.1" ry="2.0" fill="#2e3ca8"/><ellipse cx="115.2" cy="1025.3" rx="3.0" ry="3.9" fill="#4254d0"/><ellipse cx="42.7" cy="1108.2" rx="3.6" ry="2.7" fill="#3444b8"/><ellipse cx="109.9" cy="1060.3" rx="2.7" ry="3.8" fill="#3a4cc8"/><ellipse cx="130.1" cy="1122.0" rx="3.6" ry="4.1" fill="#2e3ca8"/><ellipse cx="67.6" cy="1037.5" rx="2.4" ry="2.6" fill="#3444b8"/><ellipse cx="75.7" cy="1057.7" rx="2.0" ry="2.7" fill="#2e3ca8"/><ellipse cx="130.4" cy="1030.2" rx="3.8" ry="3.2" fill="#3444b8"/><ellipse cx="146.0" cy="1125.8" rx="2.8" ry="2.1" fill="#4254d0"/><ellipse cx="93.1" cy="1025.2" rx="3.0" ry="3.7" fill="#3444b8"/><ellipse cx="57.5" cy="1041.3" rx="2.9" ry="2.3" fill="#3a4cc8"/><ellipse cx="159.1" cy="1135.7" rx="3.0" ry="2.8" fill="#3444b8"/><ellipse cx="96.1" cy="1082.7" rx="3.6" ry="2.6" fill="#3a4cc8"/><ellipse cx="60.0" cy="1017.1" rx="3.2" ry="2.4" fill="#3444b8"/><ellipse cx="88.0" cy="1126.0" rx="1.7" ry="2.7" fill="#4254d0"/><ellipse cx="53.9" cy="1028.7" rx="3.6" ry="2.7" fill="#4254d0"/><ellipse cx="117.5" cy="1100.5" rx="3.5" ry="4.0" fill="#4254d0"/><ellipse cx="157.4" cy="1129.6" rx="3.5" ry="3.3" fill="#2e3ca8"/><ellipse cx="147.9" cy="1058.2" rx="2.2" ry="2.9" fill="#4254d0"/><ellipse cx="54.3" cy="1136.2" rx="3.6" ry="2.4" fill="#3a4cc8"/></g>
<rect x="11.85" y="986.25" width="178.5" height="180.3" filter="url(#holeS)" opacity="0.8" transform="rotate(0 101.1 1076.4)"/>
</g>
<clipPath id="ci6"><rect x="187.9" y="1018.3" width="119.4" height="120.2"/></clipPath>
<g clip-path="url(#ci6)">
<rect x="187.9" y="1018.3" width="119.4" height="120.2" fill="#05071c" stroke="none" stroke-width="1"/>
<ellipse cx="261.93" cy="1076.4" rx="50.15" ry="54.09" fill="#141c68" filter="url(#b10)" opacity="0.8" transform="rotate(0 261.93 1076.4)"/>
<g filter="url(#b05)" opacity="0.95"><ellipse cx="302.1" cy="1132.2" rx="3.0" ry="1.9" fill="#3a4cc8"/><ellipse cx="194.7" cy="1028.5" rx="3.2" ry="2.4" fill="#4254d0"/><ellipse cx="287.7" cy="1106.8" rx="2.9" ry="3.2" fill="#3a4cc8"/><ellipse cx="267.9" cy="1055.3" rx="2.5" ry="1.7" fill="#3444b8"/><ellipse cx="260.2" cy="1091.2" rx="2.8" ry="2.6" fill="#4254d0"/><ellipse cx="257.3" cy="1037.3" rx="2.8" ry="3.0" fill="#4254d0"/><ellipse cx="239.3" cy="1065.6" rx="3.6" ry="2.6" fill="#3444b8"/><ellipse cx="274.2" cy="1137.9" rx="2.9" ry="2.3" fill="#4254d0"/><ellipse cx="301.3" cy="1083.7" rx="3.0" ry="2.2" fill="#2e3ca8"/><ellipse cx="241.0" cy="1050.5" rx="2.4" ry="3.2" fill="#3444b8"/><ellipse cx="192.2" cy="1021.6" rx="2.7" ry="2.0" fill="#3a4cc8"/><ellipse cx="243.4" cy="1056.6" rx="3.7" ry="2.8" fill="#4254d0"/><ellipse cx="233.3" cy="1125.5" rx="3.8" ry="4.0" fill="#2e3ca8"/><ellipse cx="250.7" cy="1085.7" rx="2.8" ry="3.8" fill="#3444b8"/><ellipse cx="216.1" cy="1021.2" rx="2.2" ry="3.5" fill="#4254d0"/><ellipse cx="226.7" cy="1034.7" rx="3.6" ry="2.6" fill="#3a4cc8"/><ellipse cx="248.8" cy="1138.3" rx="3.1" ry="3.6" fill="#3444b8"/><ellipse cx="268.4" cy="1040.2" rx="3.8" ry="2.9" fill="#2e3ca8"/><ellipse cx="294.6" cy="1114.1" rx="1.9" ry="3.1" fill="#4254d0"/><ellipse cx="275.6" cy="1127.3" rx="1.6" ry="2.5" fill="#4254d0"/><ellipse cx="279.0" cy="1113.2" rx="3.4" ry="3.0" fill="#2e3ca8"/><ellipse cx="230.1" cy="1136.2" rx="2.2" ry="3.4" fill="#2e3ca8"/><ellipse cx="302.8" cy="1037.7" rx="2.7" ry="3.6" fill="#3444b8"/><ellipse cx="277.9" cy="1104.3" rx="4.1" ry="3.9" fill="#2e3ca8"/><ellipse cx="243.0" cy="1082.0" rx="2.8" ry="3.8" fill="#3444b8"/><ellipse cx="246.4" cy="1129.5" rx="3.0" ry="3.6" fill="#2e3ca8"/><ellipse cx="247.7" cy="1118.2" rx="3.6" ry="3.3" fill="#2e3ca8"/><ellipse cx="295.3" cy="1073.7" rx="3.2" ry="2.7" fill="#4254d0"/><ellipse cx="255.7" cy="1128.9" rx="2.8" ry="2.2" fill="#2e3ca8"/><ellipse cx="274.3" cy="1076.8" rx="2.5" ry="2.0" fill="#4254d0"/><ellipse cx="214.4" cy="1057.3" rx="2.8" ry="2.7" fill="#3a4cc8"/><ellipse cx="296.3" cy="1050.5" rx="2.6" ry="2.4" fill="#3444b8"/><ellipse cx="302.2" cy="1103.2" rx="2.7" ry="3.0" fill="#3444b8"/><ellipse cx="225.1" cy="1043.3" rx="3.1" ry="3.7" fill="#4254d0"/><ellipse cx="262.3" cy="1027.4" rx="3.3" ry="2.5" fill="#3444b8"/><ellipse cx="296.3" cy="1041.3" rx="2.1" ry="2.9" fill="#2e3ca8"/><ellipse cx="276.8" cy="1025.4" rx="3.2" ry="2.8" fill="#4254d0"/><ellipse cx="215.0" cy="1123.5" rx="3.1" ry="4.0" fill="#2e3ca8"/><ellipse cx="200.6" cy="1081.1" rx="3.8" ry="2.8" fill="#3444b8"/><ellipse cx="289.9" cy="1047.7" rx="2.8" ry="3.5" fill="#3444b8"/><ellipse cx="238.4" cy="1104.5" rx="2.9" ry="3.9" fill="#3a4cc8"/><ellipse cx="191.7" cy="1061.9" rx="2.8" ry="2.1" fill="#3444b8"/><ellipse cx="208.4" cy="1099.2" rx="3.4" ry="2.6" fill="#4254d0"/><ellipse cx="197.8" cy="1133.0" rx="3.2" ry="3.6" fill="#3444b8"/><ellipse cx="190.9" cy="1106.0" rx="3.5" ry="2.3" fill="#2e3ca8"/><ellipse cx="190.4" cy="1049.0" rx="2.5" ry="2.0" fill="#3a4cc8"/><ellipse cx="285.0" cy="1037.2" rx="2.5" ry="3.4" fill="#4254d0"/><ellipse cx="233.9" cy="1023.5" rx="3.9" ry="2.8" fill="#3a4cc8"/><ellipse cx="261.4" cy="1107.5" rx="2.9" ry="3.6" fill="#3a4cc8"/><ellipse cx="201.4" cy="1058.8" rx="3.1" ry="2.7" fill="#3444b8"/><ellipse cx="191.6" cy="1072.2" rx="2.8" ry="3.6" fill="#3a4cc8"/><ellipse cx="200.1" cy="1072.1" rx="1.9" ry="3.0" fill="#3a4cc8"/><ellipse cx="292.3" cy="1033.6" rx="2.1" ry="2.8" fill="#3444b8"/><ellipse cx="257.7" cy="1065.5" rx="3.2" ry="3.8" fill="#3444b8"/><ellipse cx="249.4" cy="1035.6" rx="3.9" ry="2.5" fill="#3444b8"/><ellipse cx="190.1" cy="1085.4" rx="2.4" ry="2.8" fill="#4254d0"/><ellipse cx="204.7" cy="1025.1" rx="4.0" ry="3.1" fill="#4254d0"/><ellipse cx="191.9" cy="1037.7" rx="3.0" ry="3.4" fill="#3444b8"/><ellipse cx="199.3" cy="1094.6" rx="3.0" ry="2.1" fill="#3444b8"/><ellipse cx="215.7" cy="1071.8" rx="3.2" ry="3.7" fill="#4254d0"/><ellipse cx="217.8" cy="1089.4" rx="3.6" ry="2.7" fill="#2e3ca8"/><ellipse cx="262.4" cy="1114.5" rx="3.9" ry="4.1" fill="#3a4cc8"/><ellipse cx="272.6" cy="1049.1" rx="4.0" ry="3.7" fill="#2e3ca8"/><ellipse cx="236.7" cy="1031.7" rx="2.2" ry="3.5" fill="#2e3ca8"/><ellipse cx="199.8" cy="1040.1" rx="4.0" ry="3.8" fill="#3a4cc8"/><ellipse cx="215.5" cy="1044.4" rx="2.6" ry="2.1" fill="#3444b8"/><ellipse cx="250.1" cy="1074.1" rx="3.5" ry="4.1" fill="#4254d0"/><ellipse cx="224.9" cy="1095.4" rx="3.5" ry="2.8" fill="#2e3ca8"/><ellipse cx="209.5" cy="1029.6" rx="3.4" ry="2.6" fill="#3444b8"/><ellipse cx="283.7" cy="1062.3" rx="3.2" ry="4.0" fill="#3444b8"/><ellipse cx="260.8" cy="1053.1" rx="2.3" ry="3.5" fill="#3a4cc8"/><ellipse cx="305.3" cy="1063.0" rx="2.8" ry="3.1" fill="#2e3ca8"/><ellipse cx="288.3" cy="1099.1" rx="1.7" ry="2.7" fill="#3444b8"/><ellipse cx="236.9" cy="1076.7" rx="2.8" ry="2.3" fill="#3a4cc8"/><ellipse cx="196.7" cy="1052.5" rx="2.7" ry="1.9" fill="#3a4cc8"/><ellipse cx="197.0" cy="1109.0" rx="2.7" ry="3.0" fill="#3444b8"/><ellipse cx="210.9" cy="1087.0" rx="3.0" ry="1.9" fill="#3444b8"/><ellipse cx="277.9" cy="1065.8" rx="2.7" ry="1.9" fill="#2e3ca8"/><ellipse cx="202.4" cy="1032.9" rx="2.0" ry="2.6" fill="#2e3ca8"/><ellipse cx="197.5" cy="1120.5" rx="3.3" ry="2.1" fill="#3444b8"/><ellipse cx="264.4" cy="1133.7" rx="2.6" ry="1.7" fill="#3a4cc8"/><ellipse cx="270.6" cy="1021.3" rx="2.5" ry="3.7" fill="#2e3ca8"/><ellipse cx="230.6" cy="1073.2" rx="2.1" ry="2.7" fill="#3444b8"/><ellipse cx="283.3" cy="1050.6" rx="2.7" ry="2.2" fill="#4254d0"/><ellipse cx="301.9" cy="1115.0" rx="3.5" ry="2.7" fill="#3444b8"/><ellipse cx="285.6" cy="1029.8" rx="3.5" ry="2.5" fill="#2e3ca8"/><ellipse cx="205.4" cy="1068.4" rx="1.9" ry="3.0" fill="#2e3ca8"/><ellipse cx="294.8" cy="1137.1" rx="2.7" ry="3.7" fill="#3a4cc8"/><ellipse cx="265.3" cy="1033.7" rx="2.6" ry="2.8" fill="#4254d0"/><ellipse cx="268.0" cy="1100.2" rx="3.6" ry="4.1" fill="#3a4cc8"/><ellipse cx="240.6" cy="1021.8" rx="3.8" ry="2.6" fill="#3444b8"/><ellipse cx="209.4" cy="1079.6" rx="2.3" ry="2.5" fill="#3444b8"/><ellipse cx="276.9" cy="1097.4" rx="3.6" ry="2.7" fill="#4254d0"/><ellipse cx="278.8" cy="1120.7" rx="2.6" ry="3.3" fill="#3a4cc8"/><ellipse cx="236.0" cy="1098.5" rx="3.7" ry="2.6" fill="#4254d0"/><ellipse cx="304.6" cy="1094.6" rx="2.6" ry="2.8" fill="#3a4cc8"/><ellipse cx="189.9" cy="1131.7" rx="3.0" ry="2.8" fill="#3444b8"/><ellipse cx="275.0" cy="1091.2" rx="1.9" ry="2.6" fill="#3a4cc8"/><ellipse cx="296.0" cy="1124.6" rx="3.0" ry="3.6" fill="#2e3ca8"/><ellipse cx="279.5" cy="1042.3" rx="3.3" ry="2.2" fill="#4254d0"/><ellipse cx="210.8" cy="1115.0" rx="3.0" ry="3.6" fill="#4254d0"/><ellipse cx="212.4" cy="1134.5" rx="2.7" ry="2.4" fill="#3444b8"/><ellipse cx="245.8" cy="1099.4" rx="2.9" ry="3.1" fill="#4254d0"/><ellipse cx="227.9" cy="1050.4" rx="3.0" ry="3.2" fill="#2e3ca8"/><ellipse cx="247.9" cy="1021.6" rx="1.9" ry="2.6" fill="#2e3ca8"/><ellipse cx="208.6" cy="1108.5" rx="2.4" ry="2.7" fill="#2e3ca8"/><ellipse cx="240.8" cy="1122.9" rx="3.4" ry="2.4" fill="#2e3ca8"/><ellipse cx="297.1" cy="1027.5" rx="3.8" ry="3.2" fill="#3a4cc8"/><ellipse cx="265.9" cy="1065.5" rx="2.7" ry="3.9" fill="#2e3ca8"/><ellipse cx="283.2" cy="1093.9" rx="3.9" ry="2.7" fill="#3444b8"/><ellipse cx="221.0" cy="1133.4" rx="3.5" ry="2.8" fill="#4254d0"/><ellipse cx="233.2" cy="1062.1" rx="3.1" ry="3.4" fill="#2e3ca8"/><ellipse cx="225.9" cy="1027.6" rx="2.6" ry="2.8" fill="#3a4cc8"/><ellipse cx="242.5" cy="1038.3" rx="1.7" ry="2.7" fill="#3a4cc8"/><ellipse cx="298.9" cy="1057.5" rx="3.9" ry="3.2" fill="#2e3ca8"/><ellipse cx="235.7" cy="1117.3" rx="3.2" ry="2.8" fill="#3a4cc8"/><ellipse cx="291.7" cy="1130.8" rx="2.6" ry="3.1" fill="#4254d0"/><ellipse cx="235.1" cy="1039.3" rx="1.9" ry="2.5" fill="#3444b8"/><ellipse cx="252.7" cy="1046.8" rx="2.8" ry="3.2" fill="#2e3ca8"/><ellipse cx="232.4" cy="1110.6" rx="3.0" ry="2.3" fill="#4254d0"/><ellipse cx="289.5" cy="1070.0" rx="3.0" ry="3.6" fill="#2e3ca8"/><ellipse cx="244.5" cy="1092.8" rx="3.0" ry="2.1" fill="#2e3ca8"/><ellipse cx="225.7" cy="1119.0" rx="3.9" ry="3.5" fill="#3a4cc8"/><ellipse cx="269.1" cy="1128.3" rx="3.3" ry="3.8" fill="#2e3ca8"/><ellipse cx="283.2" cy="1019.4" rx="3.1" ry="2.4" fill="#4254d0"/><ellipse cx="208.6" cy="1036.0" rx="2.8" ry="3.6" fill="#4254d0"/><ellipse cx="193.8" cy="1126.3" rx="3.0" ry="2.7" fill="#3a4cc8"/><ellipse cx="286.1" cy="1081.2" rx="3.9" ry="3.3" fill="#3a4cc8"/><ellipse cx="262.8" cy="1043.6" rx="3.5" ry="3.7" fill="#3444b8"/><ellipse cx="215.3" cy="1102.8" rx="3.0" ry="2.9" fill="#4254d0"/><ellipse cx="286.2" cy="1118.7" rx="3.6" ry="2.8" fill="#2e3ca8"/><ellipse cx="263.8" cy="1083.7" rx="3.0" ry="2.5" fill="#2e3ca8"/><ellipse cx="227.7" cy="1083.0" rx="2.5" ry="2.9" fill="#2e3ca8"/><ellipse cx="281.8" cy="1072.1" rx="3.6" ry="3.2" fill="#3444b8"/><ellipse cx="274.4" cy="1059.5" rx="2.7" ry="2.0" fill="#2e3ca8"/><ellipse cx="205.9" cy="1091.2" rx="3.4" ry="2.3" fill="#2e3ca8"/><ellipse cx="283.5" cy="1128.4" rx="3.5" ry="4.0" fill="#4254d0"/><ellipse cx="206.0" cy="1054.3" rx="2.6" ry="1.7" fill="#4254d0"/><ellipse cx="292.3" cy="1089.4" rx="1.9" ry="3.0" fill="#4254d0"/><ellipse cx="252.1" cy="1092.3" rx="2.3" ry="2.5" fill="#2e3ca8"/><ellipse cx="303.4" cy="1021.4" rx="3.2" ry="3.6" fill="#3a4cc8"/><ellipse cx="188.9" cy="1099.1" rx="2.8" ry="3.5" fill="#3444b8"/><ellipse cx="217.3" cy="1113.0" rx="2.8" ry="2.6" fill="#3a4cc8"/><ellipse cx="240.1" cy="1132.6" rx="2.6" ry="4.0" fill="#4254d0"/><ellipse cx="255.8" cy="1100.8" rx="2.3" ry="3.2" fill="#2e3ca8"/><ellipse cx="199.2" cy="1020.5" rx="2.6" ry="1.7" fill="#3a4cc8"/><ellipse cx="264.9" cy="1120.4" rx="2.9" ry="3.7" fill="#3444b8"/><ellipse cx="206.5" cy="1129.1" rx="2.9" ry="3.6" fill="#4254d0"/><ellipse cx="251.9" cy="1029.0" rx="3.2" ry="2.5" fill="#4254d0"/><ellipse cx="298.4" cy="1096.8" rx="2.5" ry="2.2" fill="#2e3ca8"/><ellipse cx="219.9" cy="1083.2" rx="3.2" ry="3.9" fill="#2e3ca8"/><ellipse cx="252.0" cy="1056.0" rx="2.5" ry="3.3" fill="#3444b8"/><ellipse cx="188.1" cy="1113.9" rx="2.8" ry="3.8" fill="#2e3ca8"/><ellipse cx="256.7" cy="1081.7" rx="2.1" ry="2.8" fill="#3444b8"/><ellipse cx="242.8" cy="1029.1" rx="2.6" ry="3.3" fill="#4254d0"/><ellipse cx="206.7" cy="1044.6" rx="3.3" ry="4.0" fill="#3a4cc8"/><ellipse cx="305.4" cy="1070.4" rx="3.9" ry="4.1" fill="#3444b8"/><ellipse cx="303.9" cy="1125.2" rx="2.5" ry="3.2" fill="#3a4cc8"/><ellipse cx="249.4" cy="1106.9" rx="2.5" ry="3.4" fill="#4254d0"/><ellipse cx="218.4" cy="1051.7" rx="2.9" ry="3.7" fill="#4254d0"/><ellipse cx="293.8" cy="1022.0" rx="4.0" ry="2.7" fill="#2e3ca8"/><ellipse cx="273.4" cy="1083.7" rx="3.7" ry="2.6" fill="#3a4cc8"/><ellipse cx="260.4" cy="1076.0" rx="2.4" ry="3.9" fill="#4254d0"/><ellipse cx="188.6" cy="1030.8" rx="4.1" ry="3.9" fill="#4254d0"/><ellipse cx="257.9" cy="1119.4" rx="3.4" ry="3.7" fill="#2e3ca8"/><ellipse cx="292.1" cy="1063.6" rx="2.1" ry="2.8" fill="#2e3ca8"/><ellipse cx="250.9" cy="1066.8" rx="3.1" ry="2.7" fill="#2e3ca8"/><ellipse cx="305.7" cy="1109.0" rx="2.3" ry="2.5" fill="#3a4cc8"/><ellipse cx="222.2" cy="1018.8" rx="2.4" ry="3.9" fill="#3444b8"/><ellipse cx="243.5" cy="1112.7" rx="2.6" ry="1.7" fill="#3a4cc8"/></g>
<ellipse cx="209.39" cy="1114.86" rx="40.6" ry="36.06" fill="#030308" filter="url(#b5)" opacity="1" transform="rotate(0 209.39 1114.86)"/>
<ellipse cx="217.75" cy="1023.51" rx="35.82" ry="12.02" fill="#04050e" filter="url(#b5)" opacity="0.95" transform="rotate(0 217.75 1023.51)"/>
<ellipse cx="190.29" cy="1064.38" rx="11.94" ry="36.06" fill="#04050e" filter="url(#b5)" opacity="0.9" transform="rotate(0 190.29 1064.38)"/>
<rect x="158.05" y="988.25" width="179.1" height="180.3" filter="url(#holeS)" opacity="0.8" transform="rotate(40 247.6 1078.4)"/>
</g>
<clipPath id="ci7"><rect x="334.9" y="1018.3" width="120.5" height="120.2"/></clipPath>
<g clip-path="url(#ci7)">
<rect x="334.9" y="1018.3" width="120.5" height="120.2" fill="#0a1238" stroke="none" stroke-width="1"/>
<ellipse cx="389.12" cy="1076.4" rx="54.23" ry="54.09" fill="#1a3890" filter="url(#b10)" opacity="0.9" transform="rotate(0 389.12 1076.4)"/>
<g filter="url(#b05)" opacity="0.95"><ellipse cx="363.6" cy="1083.7" rx="2.7" ry="2.2" fill="#3c64d0"/><ellipse cx="379.5" cy="1090.9" rx="3.0" ry="2.7" fill="#3448b8"/><ellipse cx="410.3" cy="1026.2" rx="3.2" ry="2.8" fill="#3448b8"/><ellipse cx="336.5" cy="1119.0" rx="3.0" ry="3.3" fill="#3a50cc"/><ellipse cx="366.2" cy="1046.5" rx="4.0" ry="2.6" fill="#2e40a8"/><ellipse cx="454.9" cy="1074.8" rx="3.8" ry="2.8" fill="#3c64d0"/><ellipse cx="435.7" cy="1075.6" rx="3.3" ry="2.5" fill="#3a50cc"/><ellipse cx="411.9" cy="1036.4" rx="2.1" ry="2.9" fill="#3c64d0"/><ellipse cx="411.4" cy="1122.6" rx="2.9" ry="2.1" fill="#3c64d0"/><ellipse cx="397.9" cy="1107.4" rx="2.5" ry="3.7" fill="#3448b8"/><ellipse cx="426.3" cy="1089.4" rx="3.4" ry="2.4" fill="#3448b8"/><ellipse cx="371.2" cy="1022.0" rx="2.8" ry="3.8" fill="#2e40a8"/><ellipse cx="421.5" cy="1123.9" rx="2.6" ry="3.5" fill="#3c64d0"/><ellipse cx="382.5" cy="1114.6" rx="3.2" ry="2.0" fill="#2e40a8"/><ellipse cx="388.5" cy="1130.8" rx="2.7" ry="3.3" fill="#2e40a8"/><ellipse cx="440.8" cy="1030.0" rx="3.6" ry="2.5" fill="#2e40a8"/><ellipse cx="351.3" cy="1044.4" rx="2.9" ry="3.1" fill="#3448b8"/><ellipse cx="410.4" cy="1054.5" rx="2.7" ry="2.0" fill="#3448b8"/><ellipse cx="396.0" cy="1064.7" rx="3.4" ry="2.3" fill="#3c64d0"/><ellipse cx="405.3" cy="1127.0" rx="3.3" ry="2.6" fill="#2e40a8"/><ellipse cx="417.1" cy="1130.0" rx="2.0" ry="3.1" fill="#3448b8"/><ellipse cx="438.1" cy="1137.4" rx="3.5" ry="3.0" fill="#3c64d0"/><ellipse cx="443.9" cy="1086.7" rx="2.9" ry="3.4" fill="#3c64d0"/><ellipse cx="420.9" cy="1043.7" rx="4.1" ry="3.7" fill="#3c64d0"/><ellipse cx="435.1" cy="1087.2" rx="4.0" ry="3.0" fill="#3c64d0"/><ellipse cx="345.6" cy="1114.5" rx="2.4" ry="3.2" fill="#3c64d0"/><ellipse cx="384.4" cy="1036.4" rx="2.9" ry="3.6" fill="#3a50cc"/><ellipse cx="370.3" cy="1110.7" rx="3.0" ry="2.0" fill="#2e40a8"/><ellipse cx="440.1" cy="1023.6" rx="2.1" ry="2.8" fill="#2e40a8"/><ellipse cx="421.5" cy="1058.1" rx="3.4" ry="2.5" fill="#2e40a8"/><ellipse cx="395.8" cy="1138.3" rx="3.6" ry="2.5" fill="#3a50cc"/><ellipse cx="358.7" cy="1067.3" rx="2.7" ry="2.1" fill="#3c64d0"/><ellipse cx="372.7" cy="1133.5" rx="2.0" ry="3.1" fill="#3c64d0"/><ellipse cx="442.9" cy="1063.7" rx="2.0" ry="2.9" fill="#3a50cc"/><ellipse cx="390.4" cy="1080.8" rx="2.5" ry="3.3" fill="#3448b8"/><ellipse cx="412.5" cy="1089.9" rx="2.9" ry="2.6" fill="#3448b8"/><ellipse cx="402.3" cy="1092.8" rx="2.0" ry="2.9" fill="#3c64d0"/><ellipse cx="448.2" cy="1079.2" rx="3.9" ry="2.6" fill="#3a50cc"/><ellipse cx="386.9" cy="1104.9" rx="2.9" ry="2.2" fill="#3c64d0"/><ellipse cx="363.5" cy="1054.5" rx="2.6" ry="3.8" fill="#2e40a8"/><ellipse cx="401.0" cy="1019.7" rx="2.3" ry="2.9" fill="#2e40a8"/><ellipse cx="337.3" cy="1092.3" rx="3.7" ry="2.9" fill="#2e40a8"/><ellipse cx="410.5" cy="1074.3" rx="3.1" ry="4.1" fill="#3c64d0"/><ellipse cx="420.1" cy="1107.0" rx="2.6" ry="3.4" fill="#3448b8"/><ellipse cx="337.6" cy="1025.6" rx="3.2" ry="2.0" fill="#3448b8"/><ellipse cx="365.2" cy="1073.1" rx="3.3" ry="3.1" fill="#3c64d0"/><ellipse cx="378.8" cy="1055.9" rx="2.9" ry="2.4" fill="#3c64d0"/><ellipse cx="371.1" cy="1063.6" rx="2.8" ry="1.9" fill="#3a50cc"/><ellipse cx="428.0" cy="1021.5" rx="2.9" ry="3.3" fill="#3c64d0"/><ellipse cx="431.8" cy="1047.0" rx="2.9" ry="3.6" fill="#3448b8"/><ellipse cx="419.0" cy="1030.5" rx="2.6" ry="1.7" fill="#3a50cc"/><ellipse cx="438.0" cy="1038.6" rx="2.5" ry="1.6" fill="#2e40a8"/><ellipse cx="375.5" cy="1096.5" rx="3.6" ry="2.9" fill="#2e40a8"/><ellipse cx="441.5" cy="1072.5" rx="2.5" ry="2.9" fill="#3c64d0"/><ellipse cx="362.0" cy="1032.8" rx="2.7" ry="3.6" fill="#3c64d0"/><ellipse cx="398.7" cy="1041.2" rx="3.3" ry="2.4" fill="#3a50cc"/><ellipse cx="432.1" cy="1119.1" rx="1.8" ry="2.6" fill="#2e40a8"/><ellipse cx="357.0" cy="1051.8" rx="4.0" ry="3.5" fill="#2e40a8"/><ellipse cx="432.2" cy="1095.5" rx="2.9" ry="3.2" fill="#3448b8"/><ellipse cx="432.1" cy="1059.8" rx="2.1" ry="2.8" fill="#3a50cc"/><ellipse cx="350.5" cy="1053.4" rx="2.8" ry="3.4" fill="#3a50cc"/><ellipse cx="376.6" cy="1068.4" rx="2.6" ry="3.1" fill="#2e40a8"/><ellipse cx="385.5" cy="1067.5" rx="3.4" ry="2.4" fill="#2e40a8"/><ellipse cx="445.8" cy="1037.1" rx="3.6" ry="3.1" fill="#2e40a8"/><ellipse cx="335.5" cy="1131.7" rx="3.1" ry="3.5" fill="#2e40a8"/><ellipse cx="446.6" cy="1045.0" rx="3.3" ry="2.2" fill="#3448b8"/><ellipse cx="414.8" cy="1080.7" rx="3.2" ry="2.1" fill="#3448b8"/><ellipse cx="443.8" cy="1101.7" rx="2.3" ry="2.9" fill="#3a50cc"/><ellipse cx="446.2" cy="1126.1" rx="2.6" ry="3.3" fill="#2e40a8"/><ellipse cx="336.5" cy="1107.9" rx="2.5" ry="1.6" fill="#3a50cc"/><ellipse cx="365.3" cy="1121.9" rx="3.6" ry="3.3" fill="#3a50cc"/><ellipse cx="392.4" cy="1112.3" rx="3.1" ry="2.2" fill="#2e40a8"/><ellipse cx="377.3" cy="1042.0" rx="2.2" ry="3.0" fill="#3a50cc"/><ellipse cx="399.3" cy="1116.5" rx="2.6" ry="3.1" fill="#3448b8"/><ellipse cx="355.5" cy="1113.5" rx="1.9" ry="2.9" fill="#3448b8"/><ellipse cx="446.0" cy="1115.2" rx="3.5" ry="2.3" fill="#3a50cc"/><ellipse cx="434.1" cy="1019.2" rx="2.4" ry="3.3" fill="#3a50cc"/><ellipse cx="340.9" cy="1050.9" rx="3.2" ry="2.7" fill="#2e40a8"/><ellipse cx="385.9" cy="1075.1" rx="3.2" ry="2.4" fill="#3c64d0"/><ellipse cx="341.5" cy="1033.5" rx="2.6" ry="3.0" fill="#2e40a8"/><ellipse cx="349.9" cy="1026.5" rx="2.6" ry="3.7" fill="#3c64d0"/><ellipse cx="452.4" cy="1121.0" rx="3.5" ry="3.7" fill="#3448b8"/><ellipse cx="345.3" cy="1078.7" rx="3.7" ry="3.0" fill="#3a50cc"/><ellipse cx="405.6" cy="1061.7" rx="2.4" ry="3.5" fill="#3a50cc"/><ellipse cx="349.8" cy="1085.1" rx="3.3" ry="3.5" fill="#2e40a8"/><ellipse cx="344.5" cy="1039.8" rx="3.2" ry="3.9" fill="#2e40a8"/><ellipse cx="390.4" cy="1047.8" rx="3.8" ry="2.8" fill="#2e40a8"/><ellipse cx="343.5" cy="1069.4" rx="2.7" ry="3.1" fill="#3448b8"/><ellipse cx="386.2" cy="1124.0" rx="2.7" ry="2.5" fill="#3a50cc"/><ellipse cx="349.5" cy="1119.7" rx="3.1" ry="3.5" fill="#2e40a8"/><ellipse cx="427.4" cy="1079.8" rx="3.3" ry="2.4" fill="#2e40a8"/><ellipse cx="425.2" cy="1130.6" rx="2.7" ry="3.5" fill="#3448b8"/><ellipse cx="342.3" cy="1057.3" rx="4.0" ry="2.7" fill="#3a50cc"/><ellipse cx="364.1" cy="1039.9" rx="4.1" ry="2.7" fill="#3a50cc"/><ellipse cx="365.0" cy="1092.3" rx="2.7" ry="2.2" fill="#3c64d0"/><ellipse cx="425.7" cy="1065.6" rx="2.2" ry="3.4" fill="#3448b8"/><ellipse cx="452.2" cy="1067.9" rx="2.8" ry="2.4" fill="#2e40a8"/><ellipse cx="425.0" cy="1037.6" rx="3.0" ry="2.3" fill="#3c64d0"/><ellipse cx="393.2" cy="1095.6" rx="2.8" ry="3.4" fill="#2e40a8"/><ellipse cx="358.9" cy="1088.7" rx="1.9" ry="2.8" fill="#3448b8"/><ellipse cx="370.6" cy="1103.1" rx="2.8" ry="3.9" fill="#3c64d0"/><ellipse cx="405.4" cy="1050.4" rx="2.7" ry="2.9" fill="#3c64d0"/><ellipse cx="361.1" cy="1021.1" rx="3.4" ry="3.7" fill="#2e40a8"/><ellipse cx="355.7" cy="1061.6" rx="2.5" ry="2.1" fill="#3448b8"/><ellipse cx="352.2" cy="1137.4" rx="4.0" ry="3.5" fill="#3a50cc"/><ellipse cx="363.2" cy="1104.6" rx="2.8" ry="3.8" fill="#3c64d0"/><ellipse cx="438.4" cy="1126.5" rx="4.0" ry="3.8" fill="#3a50cc"/><ellipse cx="404.8" cy="1099.5" rx="3.2" ry="2.3" fill="#2e40a8"/><ellipse cx="335.7" cy="1058.5" rx="2.9" ry="2.1" fill="#3448b8"/><ellipse cx="400.5" cy="1032.6" rx="2.2" ry="3.2" fill="#3a50cc"/><ellipse cx="428.0" cy="1109.3" rx="2.5" ry="2.7" fill="#3c64d0"/><ellipse cx="413.7" cy="1115.2" rx="3.3" ry="3.8" fill="#3a50cc"/><ellipse cx="450.7" cy="1099.2" rx="2.3" ry="3.5" fill="#3c64d0"/><ellipse cx="421.4" cy="1099.9" rx="2.1" ry="3.1" fill="#3a50cc"/><ellipse cx="356.5" cy="1125.3" rx="3.1" ry="3.7" fill="#3c64d0"/><ellipse cx="406.9" cy="1085.0" rx="2.1" ry="3.4" fill="#2e40a8"/><ellipse cx="343.2" cy="1104.3" rx="2.8" ry="4.1" fill="#3448b8"/><ellipse cx="377.4" cy="1120.1" rx="2.8" ry="3.1" fill="#3448b8"/><ellipse cx="357.2" cy="1041.0" rx="2.9" ry="3.9" fill="#3c64d0"/><ellipse cx="398.5" cy="1086.6" rx="3.4" ry="3.7" fill="#2e40a8"/><ellipse cx="411.3" cy="1135.7" rx="2.1" ry="3.4" fill="#3c64d0"/><ellipse cx="407.4" cy="1105.7" rx="2.7" ry="2.8" fill="#3448b8"/><ellipse cx="398.0" cy="1073.7" rx="2.5" ry="2.8" fill="#3a50cc"/><ellipse cx="403.1" cy="1133.6" rx="1.9" ry="3.1" fill="#3c64d0"/><ellipse cx="432.1" cy="1130.3" rx="3.7" ry="3.9" fill="#2e40a8"/><ellipse cx="354.3" cy="1078.1" rx="2.8" ry="2.3" fill="#3c64d0"/><ellipse cx="385.8" cy="1096.3" rx="3.7" ry="3.3" fill="#2e40a8"/><ellipse cx="371.6" cy="1074.1" rx="3.1" ry="3.9" fill="#3a50cc"/><ellipse cx="379.6" cy="1081.9" rx="2.5" ry="3.6" fill="#3a50cc"/><ellipse cx="335.2" cy="1043.4" rx="2.2" ry="3.6" fill="#2e40a8"/><ellipse cx="342.1" cy="1021.0" rx="2.6" ry="2.0" fill="#3448b8"/><ellipse cx="392.1" cy="1038.1" rx="3.0" ry="2.3" fill="#3c64d0"/><ellipse cx="422.6" cy="1051.4" rx="3.2" ry="3.7" fill="#3448b8"/><ellipse cx="447.3" cy="1054.4" rx="3.0" ry="3.6" fill="#2e40a8"/><ellipse cx="376.4" cy="1029.6" rx="2.5" ry="2.7" fill="#2e40a8"/><ellipse cx="448.2" cy="1022.4" rx="3.6" ry="2.4" fill="#3c64d0"/><ellipse cx="371.6" cy="1091.3" rx="2.8" ry="3.9" fill="#3448b8"/><ellipse cx="449.0" cy="1028.9" rx="3.4" ry="2.5" fill="#3448b8"/><ellipse cx="348.7" cy="1065.2" rx="2.9" ry="3.3" fill="#3c64d0"/><ellipse cx="420.5" cy="1021.1" rx="2.7" ry="3.1" fill="#3c64d0"/><ellipse cx="344.6" cy="1096.3" rx="2.6" ry="2.4" fill="#2e40a8"/><ellipse cx="353.3" cy="1095.8" rx="3.0" ry="3.1" fill="#3448b8"/><ellipse cx="362.6" cy="1134.6" rx="3.3" ry="4.0" fill="#3c64d0"/><ellipse cx="356.3" cy="1027.8" rx="3.2" ry="2.0" fill="#3c64d0"/><ellipse cx="434.4" cy="1031.8" rx="3.5" ry="2.7" fill="#2e40a8"/><ellipse cx="454.9" cy="1058.6" rx="3.7" ry="3.3" fill="#3c64d0"/><ellipse cx="386.8" cy="1028.4" rx="2.6" ry="2.3" fill="#2e40a8"/><ellipse cx="455.1" cy="1128.9" rx="3.1" ry="2.1" fill="#3448b8"/><ellipse cx="376.4" cy="1107.5" rx="3.7" ry="4.0" fill="#3448b8"/><ellipse cx="452.9" cy="1112.7" rx="3.3" ry="4.0" fill="#3a50cc"/><ellipse cx="387.0" cy="1059.0" rx="3.0" ry="2.5" fill="#3a50cc"/><ellipse cx="341.1" cy="1083.9" rx="1.9" ry="2.5" fill="#3a50cc"/><ellipse cx="364.7" cy="1114.7" rx="4.0" ry="3.3" fill="#3448b8"/><ellipse cx="372.8" cy="1081.0" rx="2.9" ry="3.5" fill="#2e40a8"/><ellipse cx="373.0" cy="1050.9" rx="3.0" ry="2.0" fill="#3c64d0"/><ellipse cx="368.9" cy="1034.1" rx="3.9" ry="2.5" fill="#3448b8"/><ellipse cx="416.2" cy="1096.1" rx="1.7" ry="2.6" fill="#3c64d0"/><ellipse cx="381.9" cy="1137.0" rx="3.4" ry="2.4" fill="#3a50cc"/><ellipse cx="352.4" cy="1033.6" rx="2.5" ry="2.0" fill="#3c64d0"/><ellipse cx="377.4" cy="1128.3" rx="2.0" ry="2.7" fill="#3c64d0"/><ellipse cx="448.1" cy="1138.1" rx="2.3" ry="3.4" fill="#2e40a8"/><ellipse cx="453.0" cy="1047.9" rx="2.6" ry="2.4" fill="#3a50cc"/><ellipse cx="393.4" cy="1102.9" rx="2.9" ry="4.1" fill="#3a50cc"/><ellipse cx="430.6" cy="1137.5" rx="2.5" ry="2.4" fill="#2e40a8"/><ellipse cx="427.2" cy="1029.4" rx="3.7" ry="2.8" fill="#3448b8"/><ellipse cx="438.8" cy="1118.7" rx="3.3" ry="3.6" fill="#3c64d0"/><ellipse cx="398.9" cy="1123.5" rx="4.0" ry="2.7" fill="#3c64d0"/><ellipse cx="437.0" cy="1111.7" rx="3.9" ry="3.4" fill="#3c64d0"/><ellipse cx="377.2" cy="1019.2" rx="4.0" ry="2.8" fill="#2e40a8"/><ellipse cx="370.9" cy="1126.5" rx="3.1" ry="2.3" fill="#3448b8"/></g>
<rect x="304.77" y="988.25" width="180.75" height="180.3" filter="url(#cyan)" opacity="0.5" transform="rotate(0 395.15 1078.4)"/>
<ellipse cx="351.77" cy="1052.36" rx="15.06" ry="12.62" fill="#48b8e6" filter="url(#b1)" opacity="0.8" transform="rotate(0 351.77 1052.36)"/><ellipse cx="340.92" cy="1078.8" rx="12.65" ry="15.03" fill="#48b8e6" filter="url(#b1)" opacity="0.8" transform="rotate(0 340.92 1078.8)"/><ellipse cx="428.89" cy="1066.78" rx="19.88" ry="15.03" fill="#48b8e6" filter="url(#b1)" opacity="0.8" transform="rotate(0 428.89 1066.78)"/><ellipse cx="431.3" cy="1095.63" rx="12.65" ry="10.22" fill="#48b8e6" filter="url(#b1)" opacity="0.8" transform="rotate(0 431.3 1095.63)"/>
<ellipse cx="351.77" cy="1052.36" rx="13.26" ry="10.82" fill="#020206" filter="url(#b1)" opacity="1" transform="rotate(0 351.77 1052.36)"/><ellipse cx="340.92" cy="1078.8" rx="10.84" ry="13.22" fill="#020206" filter="url(#b1)" opacity="1" transform="rotate(0 340.92 1078.8)"/><ellipse cx="383.1" cy="1022.31" rx="12.05" ry="6.01" fill="#020206" filter="url(#b1)" opacity="1" transform="rotate(0 383.1 1022.31)"/><ellipse cx="428.89" cy="1066.78" rx="18.07" ry="13.22" fill="#020206" filter="url(#b1)" opacity="1" transform="rotate(0 428.89 1066.78)"/><ellipse cx="431.3" cy="1095.63" rx="10.84" ry="8.41" fill="#020206" filter="url(#b1)" opacity="1" transform="rotate(0 431.3 1095.63)"/><ellipse cx="451.78" cy="1052.36" rx="7.23" ry="12.02" fill="#020206" filter="url(#b1)" opacity="1" transform="rotate(0 451.78 1052.36)"/><ellipse cx="346.95" cy="1025.92" rx="14.46" ry="6.01" fill="#020206" filter="url(#b1)" opacity="1" transform="rotate(0 346.95 1025.92)"/>
</g>
<clipPath id="ci8"><rect x="480.6" y="1018.3" width="119.2" height="120.2"/></clipPath>
<g clip-path="url(#ci8)">
<rect x="480.6" y="1018.3" width="119.2" height="120.2" fill="#121a5e" stroke="none" stroke-width="1"/>
<ellipse cx="506.82" cy="1102.84" rx="35.76" ry="19.23" fill="#3468b8" filter="url(#b10)" opacity="0.8" transform="rotate(0 506.82 1102.84)"/>
<g filter="url(#b05)" opacity="0.95"><ellipse cx="508.7" cy="1030.7" rx="3.8" ry="3.2" fill="#3446b8"/><ellipse cx="527.8" cy="1036.9" rx="3.6" ry="3.9" fill="#4860d8"/><ellipse cx="488.5" cy="1066.6" rx="3.0" ry="3.4" fill="#3e54d0"/><ellipse cx="590.0" cy="1114.5" rx="3.0" ry="3.6" fill="#3a4cc4"/><ellipse cx="571.8" cy="1045.0" rx="3.7" ry="4.0" fill="#3446b8"/><ellipse cx="544.6" cy="1051.6" rx="2.5" ry="2.7" fill="#3a4cc4"/><ellipse cx="501.2" cy="1031.1" rx="3.7" ry="3.4" fill="#4860d8"/><ellipse cx="506.2" cy="1129.8" rx="2.7" ry="4.1" fill="#3446b8"/><ellipse cx="579.4" cy="1115.3" rx="2.8" ry="2.3" fill="#4860d8"/><ellipse cx="517.5" cy="1093.7" rx="3.2" ry="3.5" fill="#3a4cc4"/><ellipse cx="567.8" cy="1121.0" rx="2.7" ry="2.6" fill="#3446b8"/><ellipse cx="585.5" cy="1028.7" rx="3.3" ry="2.6" fill="#3a4cc4"/><ellipse cx="552.8" cy="1099.0" rx="3.0" ry="2.4" fill="#3a4cc4"/><ellipse cx="540.9" cy="1039.7" rx="2.1" ry="3.4" fill="#3a4cc4"/><ellipse cx="537.1" cy="1029.0" rx="3.6" ry="3.0" fill="#4860d8"/><ellipse cx="592.0" cy="1122.3" rx="3.2" ry="4.0" fill="#3e54d0"/><ellipse cx="588.9" cy="1087.1" rx="2.1" ry="2.6" fill="#3e54d0"/><ellipse cx="585.8" cy="1120.2" rx="2.3" ry="2.5" fill="#3e54d0"/><ellipse cx="541.2" cy="1068.1" rx="2.6" ry="1.7" fill="#3a4cc4"/><ellipse cx="552.0" cy="1070.1" rx="2.1" ry="3.4" fill="#3a4cc4"/><ellipse cx="499.8" cy="1055.0" rx="2.6" ry="1.8" fill="#3a4cc4"/><ellipse cx="577.5" cy="1023.5" rx="2.1" ry="2.6" fill="#4860d8"/><ellipse cx="486.1" cy="1093.6" rx="2.8" ry="3.2" fill="#4860d8"/><ellipse cx="514.0" cy="1082.6" rx="2.5" ry="3.8" fill="#3e54d0"/><ellipse cx="536.8" cy="1059.5" rx="3.1" ry="3.5" fill="#3a4cc4"/><ellipse cx="599.5" cy="1041.8" rx="3.0" ry="3.6" fill="#3446b8"/><ellipse cx="556.0" cy="1051.5" rx="2.9" ry="2.3" fill="#3a4cc4"/><ellipse cx="523.0" cy="1108.1" rx="3.1" ry="3.8" fill="#3446b8"/><ellipse cx="487.9" cy="1045.8" rx="2.6" ry="3.5" fill="#4860d8"/><ellipse cx="571.8" cy="1092.3" rx="2.8" ry="2.3" fill="#3446b8"/><ellipse cx="508.9" cy="1058.1" rx="4.0" ry="3.4" fill="#3a4cc4"/><ellipse cx="501.8" cy="1073.5" rx="2.6" ry="2.0" fill="#3a4cc4"/><ellipse cx="485.7" cy="1102.1" rx="2.5" ry="3.1" fill="#3446b8"/><ellipse cx="587.4" cy="1133.1" rx="3.1" ry="4.0" fill="#3446b8"/><ellipse cx="568.2" cy="1133.7" rx="2.3" ry="3.5" fill="#3e54d0"/><ellipse cx="482.8" cy="1053.0" rx="2.9" ry="4.1" fill="#3a4cc4"/><ellipse cx="595.7" cy="1111.5" rx="2.9" ry="3.4" fill="#4860d8"/><ellipse cx="529.5" cy="1131.7" rx="2.9" ry="2.0" fill="#3446b8"/><ellipse cx="554.6" cy="1116.6" rx="2.7" ry="3.1" fill="#3e54d0"/><ellipse cx="515.6" cy="1041.3" rx="2.5" ry="2.7" fill="#4860d8"/><ellipse cx="520.1" cy="1019.4" rx="2.7" ry="1.9" fill="#3446b8"/><ellipse cx="485.9" cy="1038.7" rx="3.6" ry="3.4" fill="#4860d8"/><ellipse cx="574.0" cy="1061.9" rx="3.4" ry="3.9" fill="#3446b8"/><ellipse cx="515.2" cy="1030.0" rx="3.5" ry="2.3" fill="#3446b8"/><ellipse cx="597.6" cy="1069.3" rx="2.9" ry="1.9" fill="#3446b8"/><ellipse cx="561.3" cy="1036.3" rx="2.9" ry="3.2" fill="#3a4cc4"/><ellipse cx="485.5" cy="1077.3" rx="2.7" ry="3.8" fill="#4860d8"/><ellipse cx="510.3" cy="1138.2" rx="3.6" ry="2.3" fill="#4860d8"/><ellipse cx="495.2" cy="1081.9" rx="2.6" ry="2.2" fill="#3446b8"/><ellipse cx="598.3" cy="1075.7" rx="4.1" ry="2.7" fill="#3446b8"/><ellipse cx="509.4" cy="1067.7" rx="2.9" ry="3.1" fill="#3e54d0"/><ellipse cx="579.7" cy="1078.2" rx="2.6" ry="3.7" fill="#3e54d0"/><ellipse cx="509.5" cy="1043.3" rx="3.2" ry="4.0" fill="#4860d8"/><ellipse cx="508.2" cy="1122.8" rx="1.9" ry="2.5" fill="#3446b8"/><ellipse cx="497.5" cy="1024.5" rx="2.7" ry="2.0" fill="#3446b8"/><ellipse cx="588.0" cy="1096.9" rx="2.9" ry="4.0" fill="#3446b8"/><ellipse cx="574.9" cy="1107.8" rx="2.4" ry="3.5" fill="#3a4cc4"/><ellipse cx="512.6" cy="1129.2" rx="2.6" ry="2.2" fill="#3446b8"/><ellipse cx="594.6" cy="1027.2" rx="3.6" ry="2.2" fill="#4860d8"/><ellipse cx="596.4" cy="1133.9" rx="2.9" ry="2.2" fill="#3446b8"/><ellipse cx="560.3" cy="1023.7" rx="2.8" ry="2.4" fill="#3446b8"/><ellipse cx="596.0" cy="1098.5" rx="3.1" ry="3.9" fill="#4860d8"/><ellipse cx="556.3" cy="1086.7" rx="2.1" ry="3.1" fill="#3446b8"/><ellipse cx="506.7" cy="1018.7" rx="2.8" ry="3.4" fill="#3446b8"/><ellipse cx="590.5" cy="1019.9" rx="3.4" ry="2.9" fill="#3446b8"/><ellipse cx="585.3" cy="1042.5" rx="3.4" ry="3.1" fill="#4860d8"/><ellipse cx="560.6" cy="1058.0" rx="3.4" ry="4.0" fill="#4860d8"/><ellipse cx="536.8" cy="1081.6" rx="2.9" ry="3.7" fill="#3446b8"/><ellipse cx="483.7" cy="1022.4" rx="2.6" ry="3.9" fill="#3446b8"/><ellipse cx="551.5" cy="1077.1" rx="2.5" ry="3.8" fill="#3446b8"/><ellipse cx="583.7" cy="1091.4" rx="4.0" ry="3.2" fill="#4860d8"/><ellipse cx="497.1" cy="1061.9" rx="4.0" ry="2.9" fill="#3a4cc4"/><ellipse cx="572.1" cy="1081.2" rx="2.7" ry="2.9" fill="#3446b8"/><ellipse cx="481.9" cy="1119.0" rx="2.8" ry="2.0" fill="#3e54d0"/><ellipse cx="508.5" cy="1076.8" rx="2.8" ry="2.1" fill="#3a4cc4"/><ellipse cx="494.2" cy="1092.9" rx="3.7" ry="3.6" fill="#3e54d0"/><ellipse cx="586.1" cy="1079.9" rx="2.6" ry="1.7" fill="#3a4cc4"/><ellipse cx="532.3" cy="1121.4" rx="3.2" ry="2.7" fill="#3a4cc4"/><ellipse cx="516.6" cy="1118.8" rx="2.7" ry="2.5" fill="#4860d8"/><ellipse cx="531.0" cy="1114.3" rx="3.6" ry="3.3" fill="#3e54d0"/><ellipse cx="500.6" cy="1123.4" rx="3.5" ry="3.3" fill="#3446b8"/><ellipse cx="545.2" cy="1127.0" rx="3.8" ry="3.2" fill="#4860d8"/><ellipse cx="565.3" cy="1019.0" rx="2.7" ry="1.9" fill="#3a4cc4"/><ellipse cx="538.6" cy="1104.3" rx="1.9" ry="2.7" fill="#3446b8"/><ellipse cx="561.3" cy="1091.6" rx="3.1" ry="2.6" fill="#3446b8"/><ellipse cx="536.3" cy="1127.9" rx="3.6" ry="2.6" fill="#4860d8"/><ellipse cx="577.0" cy="1039.7" rx="2.2" ry="3.4" fill="#4860d8"/><ellipse cx="588.1" cy="1063.0" rx="2.6" ry="3.2" fill="#3a4cc4"/><ellipse cx="549.3" cy="1060.4" rx="1.9" ry="2.7" fill="#3446b8"/><ellipse cx="554.6" cy="1029.5" rx="3.0" ry="3.6" fill="#3e54d0"/><ellipse cx="502.0" cy="1096.9" rx="2.5" ry="2.8" fill="#3446b8"/><ellipse cx="519.5" cy="1054.4" rx="2.7" ry="2.4" fill="#4860d8"/><ellipse cx="594.2" cy="1037.3" rx="3.0" ry="1.9" fill="#3e54d0"/><ellipse cx="561.1" cy="1107.9" rx="4.0" ry="3.7" fill="#4860d8"/><ellipse cx="529.0" cy="1090.3" rx="2.6" ry="2.9" fill="#4860d8"/><ellipse cx="599.4" cy="1126.4" rx="3.6" ry="2.5" fill="#3e54d0"/><ellipse cx="528.3" cy="1066.5" rx="2.5" ry="2.8" fill="#3a4cc4"/><ellipse cx="578.0" cy="1052.4" rx="2.5" ry="2.0" fill="#4860d8"/><ellipse cx="529.7" cy="1019.9" rx="2.6" ry="2.4" fill="#4860d8"/><ellipse cx="502.5" cy="1083.2" rx="3.1" ry="3.9" fill="#4860d8"/><ellipse cx="554.9" cy="1037.1" rx="3.9" ry="2.6" fill="#3e54d0"/><ellipse cx="488.7" cy="1135.3" rx="3.7" ry="2.6" fill="#4860d8"/><ellipse cx="498.3" cy="1046.9" rx="2.1" ry="2.9" fill="#3446b8"/><ellipse cx="500.1" cy="1113.3" rx="2.5" ry="2.7" fill="#3446b8"/><ellipse cx="594.9" cy="1049.8" rx="3.9" ry="2.8" fill="#3a4cc4"/><ellipse cx="558.7" cy="1132.8" rx="3.1" ry="2.8" fill="#3a4cc4"/><ellipse cx="585.3" cy="1104.8" rx="3.6" ry="3.3" fill="#4860d8"/><ellipse cx="584.9" cy="1049.1" rx="2.2" ry="2.9" fill="#3a4cc4"/><ellipse cx="527.2" cy="1100.3" rx="2.8" ry="3.1" fill="#3446b8"/><ellipse cx="583.3" cy="1057.8" rx="2.3" ry="3.6" fill="#3e54d0"/><ellipse cx="498.8" cy="1037.1" rx="3.2" ry="2.6" fill="#3a4cc4"/><ellipse cx="525.8" cy="1120.2" rx="3.0" ry="2.6" fill="#3446b8"/><ellipse cx="589.3" cy="1055.0" rx="3.0" ry="1.9" fill="#3e54d0"/><ellipse cx="557.7" cy="1126.1" rx="3.0" ry="1.9" fill="#3446b8"/><ellipse cx="552.1" cy="1022.8" rx="2.1" ry="3.3" fill="#4860d8"/><ellipse cx="580.0" cy="1125.5" rx="2.5" ry="2.8" fill="#3446b8"/><ellipse cx="598.3" cy="1060.7" rx="3.1" ry="3.9" fill="#3446b8"/><ellipse cx="573.8" cy="1127.5" rx="3.4" ry="3.6" fill="#3446b8"/><ellipse cx="541.3" cy="1018.4" rx="2.6" ry="1.9" fill="#4860d8"/><ellipse cx="516.1" cy="1065.0" rx="2.7" ry="3.6" fill="#3446b8"/><ellipse cx="516.2" cy="1101.3" rx="2.1" ry="3.0" fill="#4860d8"/><ellipse cx="521.2" cy="1073.1" rx="3.2" ry="3.4" fill="#4860d8"/><ellipse cx="489.6" cy="1120.1" rx="3.1" ry="2.7" fill="#3446b8"/><ellipse cx="502.0" cy="1104.6" rx="2.1" ry="2.8" fill="#4860d8"/><ellipse cx="483.8" cy="1110.5" rx="3.8" ry="3.4" fill="#4860d8"/><ellipse cx="519.7" cy="1136.4" rx="2.7" ry="2.0" fill="#3446b8"/><ellipse cx="560.2" cy="1119.6" rx="2.1" ry="3.0" fill="#3e54d0"/><ellipse cx="545.7" cy="1083.3" rx="3.9" ry="3.6" fill="#3e54d0"/><ellipse cx="549.0" cy="1041.7" rx="2.7" ry="2.2" fill="#4860d8"/><ellipse cx="545.5" cy="1133.5" rx="3.1" ry="3.9" fill="#3446b8"/><ellipse cx="520.5" cy="1082.9" rx="2.2" ry="3.5" fill="#3a4cc4"/><ellipse cx="480.9" cy="1081.9" rx="3.1" ry="2.7" fill="#3e54d0"/><ellipse cx="599.6" cy="1019.6" rx="2.3" ry="2.9" fill="#3e54d0"/><ellipse cx="493.0" cy="1109.9" rx="2.1" ry="2.7" fill="#3446b8"/><ellipse cx="538.1" cy="1096.6" rx="2.1" ry="2.7" fill="#4860d8"/><ellipse cx="527.5" cy="1047.4" rx="2.8" ry="2.2" fill="#3a4cc4"/><ellipse cx="574.9" cy="1029.9" rx="3.8" ry="2.9" fill="#3a4cc4"/><ellipse cx="480.7" cy="1062.0" rx="2.7" ry="2.6" fill="#3e54d0"/><ellipse cx="532.2" cy="1106.2" rx="2.4" ry="2.7" fill="#3446b8"/><ellipse cx="527.4" cy="1028.7" rx="3.9" ry="3.0" fill="#3a4cc4"/><ellipse cx="568.5" cy="1109.4" rx="2.2" ry="2.6" fill="#3446b8"/><ellipse cx="492.9" cy="1129.0" rx="2.2" ry="3.2" fill="#4860d8"/><ellipse cx="571.6" cy="1074.7" rx="3.9" ry="3.5" fill="#4860d8"/><ellipse cx="569.0" cy="1052.0" rx="2.9" ry="3.1" fill="#3446b8"/><ellipse cx="575.0" cy="1134.9" rx="3.1" ry="2.7" fill="#3e54d0"/><ellipse cx="564.5" cy="1069.7" rx="3.1" ry="2.1" fill="#3446b8"/><ellipse cx="527.1" cy="1083.7" rx="3.5" ry="3.0" fill="#4860d8"/><ellipse cx="545.1" cy="1026.9" rx="2.8" ry="2.1" fill="#3a4cc4"/><ellipse cx="519.7" cy="1128.1" rx="2.5" ry="1.8" fill="#3a4cc4"/><ellipse cx="552.3" cy="1091.8" rx="3.6" ry="2.6" fill="#4860d8"/><ellipse cx="525.0" cy="1060.2" rx="2.7" ry="3.5" fill="#3446b8"/><ellipse cx="536.8" cy="1137.1" rx="2.7" ry="3.9" fill="#4860d8"/><ellipse cx="591.2" cy="1071.7" rx="3.2" ry="3.8" fill="#3a4cc4"/><ellipse cx="541.8" cy="1111.1" rx="1.7" ry="2.5" fill="#3a4cc4"/><ellipse cx="558.3" cy="1079.0" rx="3.2" ry="2.3" fill="#3e54d0"/><ellipse cx="541.4" cy="1074.6" rx="2.2" ry="2.7" fill="#3446b8"/><ellipse cx="578.1" cy="1096.4" rx="2.9" ry="3.5" fill="#3446b8"/><ellipse cx="509.2" cy="1113.8" rx="2.3" ry="3.2" fill="#3446b8"/><ellipse cx="491.6" cy="1034.7" rx="3.9" ry="3.3" fill="#3446b8"/><ellipse cx="497.0" cy="1137.3" rx="2.5" ry="3.4" fill="#3e54d0"/><ellipse cx="489.1" cy="1087.5" rx="2.3" ry="3.4" fill="#4860d8"/><ellipse cx="481.1" cy="1137.6" rx="2.6" ry="2.3" fill="#4860d8"/><ellipse cx="546.8" cy="1120.0" rx="2.9" ry="2.2" fill="#3446b8"/><ellipse cx="533.8" cy="1039.9" rx="3.4" ry="2.3" fill="#3e54d0"/><ellipse cx="489.7" cy="1060.2" rx="2.9" ry="2.6" fill="#3a4cc4"/><ellipse cx="552.9" cy="1107.4" rx="2.2" ry="3.3" fill="#3e54d0"/><ellipse cx="481.8" cy="1032.4" rx="2.9" ry="2.3" fill="#3a4cc4"/><ellipse cx="563.7" cy="1044.5" rx="2.7" ry="2.2" fill="#3a4cc4"/><ellipse cx="580.9" cy="1137.9" rx="3.6" ry="3.0" fill="#3446b8"/><ellipse cx="543.6" cy="1092.1" rx="2.8" ry="2.2" fill="#3446b8"/><ellipse cx="599.7" cy="1085.2" rx="3.1" ry="2.5" fill="#3446b8"/><ellipse cx="482.4" cy="1130.3" rx="2.3" ry="3.1" fill="#3446b8"/><ellipse cx="534.3" cy="1070.3" rx="2.4" ry="2.8" fill="#4860d8"/><ellipse cx="509.5" cy="1051.3" rx="3.3" ry="2.8" fill="#4860d8"/><ellipse cx="568.9" cy="1098.4" rx="3.1" ry="2.2" fill="#3a4cc4"/><ellipse cx="509.3" cy="1087.0" rx="3.8" ry="3.2" fill="#4860d8"/><ellipse cx="502.1" cy="1089.9" rx="2.9" ry="4.0" fill="#3446b8"/><ellipse cx="569.2" cy="1024.6" rx="2.7" ry="3.3" fill="#4860d8"/><ellipse cx="578.4" cy="1068.4" rx="3.6" ry="2.5" fill="#3446b8"/><ellipse cx="511.2" cy="1107.4" rx="3.6" ry="2.9" fill="#3e54d0"/><ellipse cx="492.5" cy="1053.8" rx="3.4" ry="2.1" fill="#3446b8"/><ellipse cx="544.3" cy="1033.2" rx="3.7" ry="2.4" fill="#4860d8"/><ellipse cx="582.2" cy="1035.0" rx="3.0" ry="3.9" fill="#4860d8"/><ellipse cx="557.2" cy="1064.1" rx="2.7" ry="2.2" fill="#3446b8"/><ellipse cx="534.1" cy="1052.2" rx="2.0" ry="3.0" fill="#3446b8"/><ellipse cx="555.8" cy="1043.8" rx="2.4" ry="2.8" fill="#4860d8"/><ellipse cx="563.6" cy="1083.4" rx="3.1" ry="2.9" fill="#4860d8"/><ellipse cx="567.0" cy="1059.0" rx="2.9" ry="3.6" fill="#3a4cc4"/><ellipse cx="584.5" cy="1072.2" rx="3.0" ry="2.5" fill="#4860d8"/><ellipse cx="567.9" cy="1035.3" rx="2.4" ry="3.1" fill="#3e54d0"/><ellipse cx="529.3" cy="1077.3" rx="3.5" ry="2.6" fill="#4860d8"/><ellipse cx="510.5" cy="1097.5" rx="2.7" ry="3.9" fill="#3446b8"/><ellipse cx="551.5" cy="1138.1" rx="2.2" ry="3.3" fill="#3446b8"/><ellipse cx="489.0" cy="1027.5" rx="3.0" ry="3.6" fill="#4860d8"/><ellipse cx="514.4" cy="1074.0" rx="2.2" ry="3.3" fill="#3a4cc4"/><ellipse cx="494.4" cy="1102.9" rx="2.6" ry="1.8" fill="#3446b8"/><ellipse cx="503.3" cy="1064.6" rx="3.3" ry="3.4" fill="#3e54d0"/><ellipse cx="503.5" cy="1135.7" rx="3.0" ry="2.4" fill="#3446b8"/><ellipse cx="521.2" cy="1032.8" rx="2.6" ry="2.8" fill="#3a4cc4"/><ellipse cx="513.9" cy="1023.4" rx="3.3" ry="2.7" fill="#3e54d0"/></g>
<ellipse cx="506.82" cy="1136.5" rx="59.6" ry="12.02" fill="#03040c" filter="url(#b3)" opacity="1" transform="rotate(-14 506.82 1136.5)"/>
<ellipse cx="570" cy="1030.72" rx="11.92" ry="7.21" fill="#060818" filter="url(#b3)" opacity="0.9" transform="rotate(0 570 1030.72)"/>
</g>
<clipPath id="ci9"><rect x="625.4" y="1018.3" width="120.5" height="120.2"/></clipPath>
<g clip-path="url(#ci9)">
<rect x="625.4" y="1018.3" width="120.5" height="120.2" fill="#070a28" stroke="none" stroke-width="1"/>
<ellipse cx="685.65" cy="1076.4" rx="60.25" ry="60.1" fill="#101860" filter="url(#b10)" opacity="0.7" transform="rotate(0 685.65 1076.4)"/>
<g filter="url(#b05)" opacity="0.95"><ellipse cx="700.5" cy="1107.5" rx="2.3" ry="3.2" fill="#2e3eac"/><ellipse cx="721.2" cy="1131.6" rx="3.0" ry="2.2" fill="#2a389c"/><ellipse cx="714.6" cy="1129.2" rx="1.9" ry="2.6" fill="#2e3eac"/><ellipse cx="628.9" cy="1074.3" rx="3.8" ry="3.5" fill="#2e3eac"/><ellipse cx="739.1" cy="1096.3" rx="2.1" ry="3.2" fill="#3446b8"/><ellipse cx="734.0" cy="1031.9" rx="3.4" ry="2.8" fill="#2a389c"/><ellipse cx="681.9" cy="1047.9" rx="3.8" ry="4.0" fill="#2e3eac"/><ellipse cx="690.9" cy="1087.3" rx="2.8" ry="2.0" fill="#2e3eac"/><ellipse cx="627.0" cy="1044.4" rx="2.6" ry="2.5" fill="#2a389c"/><ellipse cx="659.1" cy="1128.4" rx="1.9" ry="2.7" fill="#2a389c"/><ellipse cx="717.7" cy="1037.5" rx="2.6" ry="2.4" fill="#2e3eac"/><ellipse cx="699.8" cy="1033.5" rx="3.1" ry="2.6" fill="#2a389c"/><ellipse cx="625.6" cy="1123.0" rx="3.4" ry="3.9" fill="#2a389c"/><ellipse cx="650.6" cy="1044.2" rx="2.4" ry="2.6" fill="#2a389c"/><ellipse cx="743.8" cy="1123.2" rx="3.4" ry="3.0" fill="#2a389c"/><ellipse cx="690.4" cy="1099.8" rx="2.6" ry="3.0" fill="#2a389c"/><ellipse cx="650.1" cy="1131.4" rx="2.7" ry="3.1" fill="#3446b8"/><ellipse cx="708.6" cy="1134.5" rx="2.8" ry="2.4" fill="#2e3eac"/><ellipse cx="733.1" cy="1054.2" rx="2.2" ry="3.2" fill="#3446b8"/><ellipse cx="668.9" cy="1038.2" rx="2.6" ry="2.0" fill="#3446b8"/><ellipse cx="643.0" cy="1026.1" rx="2.4" ry="2.8" fill="#3446b8"/><ellipse cx="661.7" cy="1090.8" rx="3.9" ry="3.3" fill="#3446b8"/><ellipse cx="625.8" cy="1099.8" rx="3.7" ry="2.4" fill="#2a389c"/><ellipse cx="666.1" cy="1055.6" rx="3.4" ry="2.7" fill="#3446b8"/><ellipse cx="724.0" cy="1076.1" rx="2.8" ry="4.0" fill="#2a389c"/><ellipse cx="663.5" cy="1076.1" rx="2.1" ry="2.7" fill="#2e3eac"/><ellipse cx="710.3" cy="1025.2" rx="3.0" ry="2.0" fill="#2e3eac"/><ellipse cx="742.9" cy="1021.0" rx="2.4" ry="2.5" fill="#2a389c"/><ellipse cx="715.8" cy="1119.9" rx="3.6" ry="2.7" fill="#3446b8"/><ellipse cx="627.6" cy="1113.0" rx="3.2" ry="3.0" fill="#2a389c"/><ellipse cx="669.5" cy="1087.8" rx="3.6" ry="3.0" fill="#2e3eac"/><ellipse cx="626.5" cy="1023.9" rx="3.4" ry="2.9" fill="#2a389c"/><ellipse cx="649.1" cy="1109.1" rx="3.4" ry="3.7" fill="#3446b8"/><ellipse cx="737.4" cy="1131.5" rx="2.5" ry="2.4" fill="#2e3eac"/><ellipse cx="688.6" cy="1111.5" rx="3.7" ry="4.1" fill="#2a389c"/><ellipse cx="638.4" cy="1108.3" rx="3.5" ry="2.7" fill="#2e3eac"/><ellipse cx="629.8" cy="1132.0" rx="3.3" ry="3.5" fill="#2e3eac"/><ellipse cx="636.4" cy="1059.3" rx="3.4" ry="3.0" fill="#2a389c"/><ellipse cx="699.0" cy="1128.7" rx="2.4" ry="3.4" fill="#3446b8"/><ellipse cx="666.4" cy="1129.4" rx="3.0" ry="3.5" fill="#3446b8"/><ellipse cx="691.1" cy="1055.9" rx="3.7" ry="3.4" fill="#2e3eac"/><ellipse cx="634.8" cy="1036.2" rx="1.7" ry="2.7" fill="#2e3eac"/><ellipse cx="744.3" cy="1082.4" rx="2.1" ry="2.7" fill="#2a389c"/><ellipse cx="674.3" cy="1046.8" rx="2.6" ry="3.3" fill="#3446b8"/><ellipse cx="697.0" cy="1117.6" rx="3.7" ry="3.1" fill="#3446b8"/><ellipse cx="680.3" cy="1069.0" rx="3.5" ry="3.2" fill="#2e3eac"/><ellipse cx="726.4" cy="1034.0" rx="2.5" ry="2.3" fill="#2e3eac"/><ellipse cx="638.2" cy="1070.5" rx="3.5" ry="4.0" fill="#3446b8"/><ellipse cx="643.4" cy="1119.8" rx="2.0" ry="3.1" fill="#2e3eac"/><ellipse cx="743.0" cy="1072.8" rx="1.6" ry="2.6" fill="#2a389c"/><ellipse cx="684.2" cy="1106.0" rx="2.8" ry="3.1" fill="#2a389c"/><ellipse cx="670.8" cy="1137.1" rx="2.5" ry="3.6" fill="#2a389c"/><ellipse cx="636.1" cy="1051.0" rx="2.6" ry="2.7" fill="#3446b8"/><ellipse cx="668.9" cy="1112.8" rx="3.7" ry="3.2" fill="#3446b8"/><ellipse cx="718.8" cy="1101.8" rx="1.9" ry="2.9" fill="#2a389c"/><ellipse cx="669.2" cy="1103.0" rx="3.8" ry="2.9" fill="#3446b8"/><ellipse cx="703.7" cy="1088.1" rx="3.4" ry="3.1" fill="#3446b8"/><ellipse cx="626.8" cy="1084.0" rx="2.1" ry="2.8" fill="#3446b8"/><ellipse cx="655.6" cy="1099.0" rx="3.9" ry="2.5" fill="#2e3eac"/><ellipse cx="681.2" cy="1116.5" rx="3.1" ry="2.0" fill="#2a389c"/><ellipse cx="703.4" cy="1114.2" rx="3.2" ry="3.8" fill="#3446b8"/><ellipse cx="667.3" cy="1095.7" rx="2.1" ry="2.7" fill="#2e3eac"/><ellipse cx="667.6" cy="1119.6" rx="3.6" ry="2.8" fill="#2a389c"/><ellipse cx="730.2" cy="1101.0" rx="3.4" ry="3.7" fill="#2a389c"/><ellipse cx="708.7" cy="1104.8" rx="2.5" ry="1.6" fill="#2a389c"/><ellipse cx="719.4" cy="1088.1" rx="2.9" ry="2.4" fill="#2a389c"/><ellipse cx="705.6" cy="1068.9" rx="2.8" ry="3.5" fill="#2a389c"/><ellipse cx="678.5" cy="1096.4" rx="3.2" ry="3.4" fill="#2a389c"/><ellipse cx="701.4" cy="1023.3" rx="2.7" ry="3.0" fill="#3446b8"/><ellipse cx="648.7" cy="1022.6" rx="3.3" ry="2.1" fill="#2a389c"/><ellipse cx="625.5" cy="1067.0" rx="2.3" ry="2.7" fill="#2a389c"/><ellipse cx="659.0" cy="1067.6" rx="2.7" ry="3.1" fill="#3446b8"/><ellipse cx="670.5" cy="1022.6" rx="3.6" ry="2.4" fill="#2e3eac"/><ellipse cx="724.0" cy="1068.7" rx="3.7" ry="3.4" fill="#2e3eac"/><ellipse cx="723.4" cy="1095.5" rx="2.0" ry="2.6" fill="#2a389c"/><ellipse cx="697.2" cy="1086.1" rx="3.0" ry="2.3" fill="#3446b8"/><ellipse cx="698.7" cy="1060.5" rx="2.2" ry="2.6" fill="#2a389c"/><ellipse cx="733.1" cy="1018.4" rx="3.1" ry="3.8" fill="#2a389c"/><ellipse cx="638.4" cy="1086.3" rx="1.9" ry="3.0" fill="#2a389c"/><ellipse cx="670.7" cy="1070.2" rx="1.9" ry="2.6" fill="#3446b8"/><ellipse cx="652.7" cy="1053.3" rx="2.7" ry="1.9" fill="#2a389c"/><ellipse cx="742.6" cy="1063.9" rx="2.6" ry="3.0" fill="#2e3eac"/><ellipse cx="697.2" cy="1049.5" rx="3.2" ry="3.5" fill="#2a389c"/><ellipse cx="675.5" cy="1056.7" rx="3.0" ry="3.8" fill="#3446b8"/><ellipse cx="640.1" cy="1093.0" rx="2.6" ry="2.1" fill="#2a389c"/><ellipse cx="719.6" cy="1047.8" rx="2.9" ry="3.6" fill="#2a389c"/><ellipse cx="657.7" cy="1036.9" rx="1.7" ry="2.7" fill="#2e3eac"/><ellipse cx="744.6" cy="1053.5" rx="3.0" ry="2.2" fill="#3446b8"/><ellipse cx="698.7" cy="1075.4" rx="1.7" ry="2.7" fill="#2a389c"/><ellipse cx="717.0" cy="1054.4" rx="2.6" ry="1.7" fill="#2e3eac"/><ellipse cx="681.4" cy="1061.7" rx="2.6" ry="1.7" fill="#2a389c"/><ellipse cx="680.3" cy="1128.5" rx="2.2" ry="3.2" fill="#2a389c"/><ellipse cx="732.4" cy="1083.9" rx="2.8" ry="2.0" fill="#3446b8"/><ellipse cx="676.9" cy="1087.5" rx="2.6" ry="3.4" fill="#2a389c"/><ellipse cx="710.7" cy="1094.3" rx="2.6" ry="3.9" fill="#2a389c"/><ellipse cx="728.1" cy="1041.9" rx="2.5" ry="3.9" fill="#2a389c"/><ellipse cx="661.1" cy="1118.1" rx="3.1" ry="2.7" fill="#2e3eac"/><ellipse cx="633.4" cy="1118.8" rx="3.1" ry="2.8" fill="#2e3eac"/><ellipse cx="683.0" cy="1084.3" rx="2.7" ry="2.4" fill="#2a389c"/><ellipse cx="723.2" cy="1026.5" rx="2.0" ry="2.9" fill="#3446b8"/><ellipse cx="653.1" cy="1116.8" rx="3.1" ry="2.2" fill="#2a389c"/><ellipse cx="743.3" cy="1138.3" rx="3.1" ry="4.0" fill="#2a389c"/><ellipse cx="711.2" cy="1034.5" rx="2.6" ry="2.3" fill="#2e3eac"/><ellipse cx="634.1" cy="1025.2" rx="3.6" ry="3.3" fill="#2e3eac"/><ellipse cx="632.1" cy="1102.1" rx="3.5" ry="3.9" fill="#2a389c"/><ellipse cx="657.1" cy="1084.6" rx="3.0" ry="2.2" fill="#2e3eac"/><ellipse cx="656.0" cy="1108.5" rx="2.0" ry="2.6" fill="#3446b8"/><ellipse cx="687.7" cy="1034.4" rx="2.8" ry="2.6" fill="#2a389c"/><ellipse cx="653.6" cy="1062.9" rx="2.6" ry="3.8" fill="#2e3eac"/><ellipse cx="731.1" cy="1076.1" rx="3.2" ry="3.6" fill="#3446b8"/><ellipse cx="652.3" cy="1032.3" rx="2.1" ry="3.0" fill="#2e3eac"/><ellipse cx="714.6" cy="1065.8" rx="3.7" ry="3.5" fill="#2a389c"/><ellipse cx="717.0" cy="1018.4" rx="2.7" ry="3.8" fill="#2a389c"/><ellipse cx="681.5" cy="1030.3" rx="2.3" ry="3.0" fill="#2a389c"/><ellipse cx="644.0" cy="1037.4" rx="3.4" ry="3.8" fill="#2e3eac"/><ellipse cx="644.9" cy="1052.8" rx="3.9" ry="3.4" fill="#3446b8"/><ellipse cx="653.7" cy="1076.2" rx="2.4" ry="2.8" fill="#2a389c"/><ellipse cx="691.5" cy="1137.3" rx="1.8" ry="2.6" fill="#2e3eac"/><ellipse cx="662.3" cy="1024.5" rx="3.4" ry="3.7" fill="#2e3eac"/><ellipse cx="647.0" cy="1079.4" rx="4.0" ry="3.2" fill="#3446b8"/><ellipse cx="736.4" cy="1090.2" rx="2.5" ry="2.4" fill="#2a389c"/><ellipse cx="724.1" cy="1055.9" rx="3.0" ry="2.5" fill="#3446b8"/><ellipse cx="655.0" cy="1025.7" rx="2.0" ry="3.0" fill="#3446b8"/><ellipse cx="670.4" cy="1030.1" rx="2.8" ry="2.6" fill="#2e3eac"/><ellipse cx="729.0" cy="1132.4" rx="2.9" ry="2.0" fill="#3446b8"/><ellipse cx="738.5" cy="1113.8" rx="2.6" ry="2.8" fill="#2e3eac"/><ellipse cx="667.8" cy="1048.1" rx="2.7" ry="2.2" fill="#3446b8"/><ellipse cx="707.7" cy="1122.0" rx="2.4" ry="3.5" fill="#2a389c"/><ellipse cx="707.3" cy="1081.1" rx="2.3" ry="3.6" fill="#2a389c"/><ellipse cx="733.4" cy="1047.0" rx="3.8" ry="3.2" fill="#3446b8"/><ellipse cx="725.4" cy="1123.9" rx="3.1" ry="2.4" fill="#2e3eac"/><ellipse cx="741.9" cy="1040.8" rx="3.0" ry="2.4" fill="#3446b8"/><ellipse cx="629.1" cy="1032.2" rx="3.8" ry="2.8" fill="#3446b8"/><ellipse cx="697.0" cy="1096.0" rx="2.5" ry="3.5" fill="#3446b8"/><ellipse cx="690.9" cy="1063.4" rx="2.3" ry="3.4" fill="#2e3eac"/><ellipse cx="685.1" cy="1134.0" rx="4.0" ry="2.7" fill="#2e3eac"/><ellipse cx="739.3" cy="1027.0" rx="2.0" ry="2.9" fill="#2a389c"/><ellipse cx="687.7" cy="1024.7" rx="2.6" ry="1.9" fill="#3446b8"/><ellipse cx="675.2" cy="1123.4" rx="2.9" ry="2.4" fill="#2a389c"/><ellipse cx="733.5" cy="1124.7" rx="2.3" ry="3.2" fill="#2a389c"/><ellipse cx="647.7" cy="1069.9" rx="4.1" ry="3.1" fill="#2a389c"/><ellipse cx="742.9" cy="1102.7" rx="4.0" ry="2.6" fill="#2a389c"/><ellipse cx="675.9" cy="1078.9" rx="3.5" ry="2.2" fill="#3446b8"/><ellipse cx="633.8" cy="1095.6" rx="2.3" ry="2.9" fill="#2a389c"/><ellipse cx="716.8" cy="1080.3" rx="3.5" ry="2.9" fill="#2a389c"/><ellipse cx="644.1" cy="1044.3" rx="3.6" ry="3.1" fill="#2e3eac"/><ellipse cx="703.8" cy="1039.3" rx="3.4" ry="3.0" fill="#2a389c"/><ellipse cx="660.8" cy="1031.3" rx="2.6" ry="3.7" fill="#3446b8"/><ellipse cx="727.1" cy="1088.3" rx="3.9" ry="2.6" fill="#2a389c"/><ellipse cx="712.6" cy="1049.6" rx="4.0" ry="3.1" fill="#2e3eac"/></g>
<rect x="595.27" y="988.25" width="180.75" height="180.3" filter="url(#grnDot)" opacity="0.9" transform="rotate(0 685.65 1078.4)"/>
<ellipse cx="709.75" cy="1078.8" rx="60.25" ry="7.21" fill="#02030a" filter="url(#b3)" opacity="1" transform="rotate(-18 709.75 1078.8)"/>
<rect x="595.27" y="988.25" width="180.75" height="180.3" filter="url(#holeS)" opacity="0.6" transform="rotate(80 685.65 1078.4)"/>
</g>
<clipPath id="ci10"><rect x="41.6" y="1164.8" width="119" height="121.4"/></clipPath>
<g clip-path="url(#ci10)">
<rect x="41.6" y="1164.8" width="119" height="121.4" fill="#070c2c" stroke="none" stroke-width="1"/>
<ellipse cx="95.15" cy="1243.71" rx="59.5" ry="36.42" fill="#143070" filter="url(#b10)" opacity="0.85" transform="rotate(0 95.15 1243.71)"/>
<g filter="url(#b05)" opacity="0.95"><ellipse cx="136.0" cy="1264.6" rx="3.3" ry="3.9" fill="#2e3eac"/><ellipse cx="99.3" cy="1196.6" rx="2.8" ry="1.7" fill="#2e3eac"/><ellipse cx="41.7" cy="1245.3" rx="2.1" ry="3.2" fill="#2e3eac"/><ellipse cx="97.6" cy="1257.0" rx="2.9" ry="2.7" fill="#2e3eac"/><ellipse cx="86.0" cy="1258.3" rx="3.7" ry="3.0" fill="#2e3eac"/><ellipse cx="74.1" cy="1262.2" rx="3.6" ry="2.6" fill="#2e3eac"/><ellipse cx="128.4" cy="1215.1" rx="4.0" ry="3.4" fill="#2e3eac"/><ellipse cx="105.7" cy="1247.6" rx="3.9" ry="3.6" fill="#3850c0"/><ellipse cx="64.6" cy="1232.0" rx="3.7" ry="2.7" fill="#2a389c"/><ellipse cx="137.4" cy="1197.0" rx="3.5" ry="4.0" fill="#3850c0"/><ellipse cx="137.2" cy="1248.0" rx="3.5" ry="3.1" fill="#3850c0"/><ellipse cx="142.1" cy="1205.5" rx="3.4" ry="3.3" fill="#2e3eac"/><ellipse cx="52.7" cy="1262.0" rx="2.5" ry="3.5" fill="#2e3eac"/><ellipse cx="137.4" cy="1218.8" rx="2.0" ry="3.0" fill="#3850c0"/><ellipse cx="52.8" cy="1188.7" rx="3.1" ry="2.0" fill="#2e3eac"/><ellipse cx="117.2" cy="1200.1" rx="3.8" ry="3.2" fill="#3850c0"/><ellipse cx="154.8" cy="1236.3" rx="1.9" ry="2.7" fill="#3850c0"/><ellipse cx="65.5" cy="1244.4" rx="3.2" ry="2.3" fill="#2e3eac"/><ellipse cx="84.5" cy="1278.0" rx="2.5" ry="2.3" fill="#2e3eac"/><ellipse cx="149.8" cy="1227.3" rx="2.5" ry="2.2" fill="#2a389c"/><ellipse cx="118.3" cy="1249.5" rx="2.6" ry="2.5" fill="#2e3eac"/><ellipse cx="137.5" cy="1283.3" rx="2.6" ry="2.9" fill="#2e3eac"/><ellipse cx="45.0" cy="1208.7" rx="3.0" ry="2.5" fill="#2e3eac"/><ellipse cx="111.7" cy="1175.7" rx="3.5" ry="3.7" fill="#2a389c"/><ellipse cx="55.5" cy="1245.3" rx="2.7" ry="2.1" fill="#2a389c"/><ellipse cx="78.8" cy="1188.6" rx="2.4" ry="3.0" fill="#2a389c"/><ellipse cx="99.2" cy="1181.6" rx="2.9" ry="2.0" fill="#2e3eac"/><ellipse cx="66.6" cy="1269.9" rx="3.1" ry="2.6" fill="#2a389c"/><ellipse cx="124.7" cy="1166.3" rx="2.8" ry="1.9" fill="#2e3eac"/><ellipse cx="134.2" cy="1166.9" rx="2.5" ry="3.6" fill="#2a389c"/><ellipse cx="86.5" cy="1212.0" rx="4.0" ry="2.8" fill="#2e3eac"/><ellipse cx="56.7" cy="1286.2" rx="3.2" ry="2.5" fill="#2e3eac"/><ellipse cx="48.0" cy="1216.1" rx="3.9" ry="3.3" fill="#2a389c"/><ellipse cx="158.3" cy="1194.6" rx="2.5" ry="1.8" fill="#2a389c"/><ellipse cx="158.1" cy="1273.1" rx="2.3" ry="3.2" fill="#2a389c"/><ellipse cx="121.4" cy="1272.8" rx="2.5" ry="2.4" fill="#2e3eac"/><ellipse cx="94.8" cy="1265.7" rx="3.2" ry="2.0" fill="#2e3eac"/><ellipse cx="136.3" cy="1227.5" rx="2.8" ry="1.9" fill="#2a389c"/><ellipse cx="97.6" cy="1250.5" rx="2.3" ry="3.5" fill="#3850c0"/><ellipse cx="90.3" cy="1175.2" rx="3.7" ry="3.0" fill="#3850c0"/><ellipse cx="130.4" cy="1197.1" rx="3.1" ry="2.8" fill="#2e3eac"/><ellipse cx="62.1" cy="1167.5" rx="3.2" ry="3.9" fill="#2e3eac"/><ellipse cx="56.3" cy="1236.4" rx="3.6" ry="3.2" fill="#2a389c"/><ellipse cx="84.6" cy="1195.9" rx="2.9" ry="2.7" fill="#3850c0"/><ellipse cx="95.3" cy="1277.4" rx="2.9" ry="2.4" fill="#2e3eac"/><ellipse cx="71.9" cy="1214.6" rx="2.8" ry="1.8" fill="#2e3eac"/><ellipse cx="146.2" cy="1239.1" rx="2.6" ry="3.9" fill="#2e3eac"/><ellipse cx="73.5" cy="1222.4" rx="3.2" ry="3.9" fill="#3850c0"/><ellipse cx="120.0" cy="1282.7" rx="2.7" ry="2.3" fill="#3850c0"/><ellipse cx="151.4" cy="1210.5" rx="2.5" ry="3.9" fill="#2e3eac"/><ellipse cx="89.0" cy="1224.0" rx="2.7" ry="2.5" fill="#3850c0"/><ellipse cx="76.2" cy="1165.6" rx="3.2" ry="3.4" fill="#2a389c"/><ellipse cx="45.2" cy="1258.7" rx="2.9" ry="4.0" fill="#2a389c"/><ellipse cx="54.9" cy="1252.0" rx="3.6" ry="2.5" fill="#3850c0"/><ellipse cx="143.2" cy="1172.4" rx="2.8" ry="3.0" fill="#2a389c"/><ellipse cx="64.5" cy="1279.8" rx="2.7" ry="2.0" fill="#3850c0"/><ellipse cx="114.6" cy="1216.0" rx="4.0" ry="2.7" fill="#2a389c"/><ellipse cx="100.1" cy="1221.7" rx="2.5" ry="1.9" fill="#2e3eac"/><ellipse cx="53.5" cy="1208.7" rx="2.3" ry="3.2" fill="#3850c0"/><ellipse cx="113.8" cy="1182.3" rx="2.1" ry="3.0" fill="#2e3eac"/><ellipse cx="150.1" cy="1275.0" rx="2.9" ry="3.8" fill="#2a389c"/><ellipse cx="147.9" cy="1219.7" rx="2.7" ry="3.4" fill="#3850c0"/><ellipse cx="124.2" cy="1260.9" rx="2.5" ry="1.7" fill="#2a389c"/><ellipse cx="57.9" cy="1279.3" rx="2.4" ry="3.6" fill="#2a389c"/><ellipse cx="74.5" cy="1251.3" rx="3.9" ry="2.7" fill="#2a389c"/><ellipse cx="153.4" cy="1175.0" rx="2.5" ry="2.7" fill="#2e3eac"/><ellipse cx="143.7" cy="1198.8" rx="3.0" ry="2.2" fill="#2e3eac"/><ellipse cx="156.6" cy="1217.1" rx="2.5" ry="2.8" fill="#2e3eac"/><ellipse cx="151.3" cy="1168.7" rx="2.8" ry="3.4" fill="#3850c0"/><ellipse cx="117.6" cy="1229.8" rx="2.7" ry="2.9" fill="#2e3eac"/><ellipse cx="45.5" cy="1185.8" rx="3.1" ry="3.9" fill="#3850c0"/><ellipse cx="159.8" cy="1257.7" rx="3.7" ry="2.4" fill="#2a389c"/><ellipse cx="154.6" cy="1249.9" rx="2.5" ry="3.5" fill="#3850c0"/><ellipse cx="82.5" cy="1174.2" rx="2.8" ry="2.3" fill="#2e3eac"/><ellipse cx="128.7" cy="1178.6" rx="3.3" ry="2.5" fill="#3850c0"/><ellipse cx="106.7" cy="1221.1" rx="3.9" ry="3.0" fill="#2a389c"/><ellipse cx="100.4" cy="1173.9" rx="3.7" ry="3.9" fill="#2a389c"/><ellipse cx="50.4" cy="1228.0" rx="3.0" ry="2.5" fill="#2e3eac"/><ellipse cx="59.5" cy="1199.0" rx="3.2" ry="3.1" fill="#2a389c"/><ellipse cx="135.2" cy="1233.9" rx="3.7" ry="2.7" fill="#2a389c"/><ellipse cx="64.0" cy="1204.3" rx="3.7" ry="4.1" fill="#3850c0"/><ellipse cx="88.9" cy="1285.9" rx="2.7" ry="2.4" fill="#3850c0"/><ellipse cx="126.8" cy="1243.1" rx="2.9" ry="3.1" fill="#2e3eac"/><ellipse cx="137.4" cy="1210.0" rx="3.7" ry="3.2" fill="#2a389c"/><ellipse cx="108.9" cy="1276.8" rx="3.6" ry="3.1" fill="#2a389c"/><ellipse cx="127.8" cy="1269.7" rx="3.6" ry="2.3" fill="#3850c0"/><ellipse cx="55.9" cy="1178.4" rx="3.8" ry="2.9" fill="#2a389c"/><ellipse cx="158.6" cy="1170.9" rx="1.8" ry="2.6" fill="#2e3eac"/><ellipse cx="151.1" cy="1255.9" rx="2.3" ry="3.4" fill="#2e3eac"/><ellipse cx="94.4" cy="1189.3" rx="3.3" ry="3.4" fill="#2e3eac"/><ellipse cx="143.9" cy="1259.3" rx="1.9" ry="2.8" fill="#3850c0"/><ellipse cx="135.3" cy="1190.8" rx="3.0" ry="3.5" fill="#2e3eac"/><ellipse cx="112.1" cy="1195.8" rx="2.1" ry="2.5" fill="#2e3eac"/><ellipse cx="135.7" cy="1255.2" rx="2.7" ry="4.0" fill="#3850c0"/><ellipse cx="44.9" cy="1276.6" rx="3.8" ry="2.8" fill="#3850c0"/><ellipse cx="49.7" cy="1165.1" rx="2.8" ry="2.6" fill="#2a389c"/><ellipse cx="57.4" cy="1215.7" rx="4.0" ry="3.6" fill="#3850c0"/><ellipse cx="87.3" cy="1236.9" rx="2.7" ry="3.5" fill="#3850c0"/><ellipse cx="108.7" cy="1240.9" rx="2.9" ry="2.0" fill="#3850c0"/><ellipse cx="57.9" cy="1272.6" rx="3.6" ry="3.9" fill="#2a389c"/><ellipse cx="64.5" cy="1219.2" rx="2.5" ry="2.9" fill="#3850c0"/><ellipse cx="154.4" cy="1263.1" rx="3.6" ry="2.7" fill="#2a389c"/><ellipse cx="148.6" cy="1183.5" rx="3.3" ry="2.5" fill="#2a389c"/><ellipse cx="71.6" cy="1180.9" rx="4.0" ry="2.5" fill="#2a389c"/><ellipse cx="85.7" cy="1268.6" rx="2.7" ry="3.5" fill="#2e3eac"/><ellipse cx="84.8" cy="1165.5" rx="2.3" ry="2.7" fill="#2a389c"/><ellipse cx="115.7" cy="1258.1" rx="3.3" ry="2.5" fill="#2e3eac"/><ellipse cx="103.5" cy="1280.6" rx="3.2" ry="3.5" fill="#2a389c"/><ellipse cx="99.7" cy="1209.0" rx="3.1" ry="2.9" fill="#3850c0"/><ellipse cx="112.0" cy="1270.1" rx="2.6" ry="3.3" fill="#2a389c"/><ellipse cx="49.5" cy="1180.8" rx="2.7" ry="2.4" fill="#3850c0"/><ellipse cx="120.7" cy="1180.0" rx="3.7" ry="3.1" fill="#3850c0"/><ellipse cx="83.4" cy="1184.0" rx="3.1" ry="3.5" fill="#2e3eac"/><ellipse cx="62.4" cy="1187.1" rx="2.6" ry="1.7" fill="#2e3eac"/><ellipse cx="109.7" cy="1253.9" rx="3.1" ry="2.6" fill="#3850c0"/><ellipse cx="150.1" cy="1198.1" rx="3.4" ry="3.8" fill="#2a389c"/><ellipse cx="45.2" cy="1285.4" rx="2.5" ry="3.7" fill="#2a389c"/><ellipse cx="43.9" cy="1229.3" rx="2.5" ry="3.8" fill="#2a389c"/><ellipse cx="94.6" cy="1166.3" rx="2.7" ry="4.1" fill="#3850c0"/><ellipse cx="159.9" cy="1282.5" rx="3.3" ry="3.8" fill="#2e3eac"/><ellipse cx="122.3" cy="1223.1" rx="2.2" ry="3.6" fill="#3850c0"/><ellipse cx="106.1" cy="1206.8" rx="2.2" ry="2.8" fill="#2a389c"/><ellipse cx="95.5" cy="1283.9" rx="1.7" ry="2.6" fill="#2e3eac"/><ellipse cx="115.6" cy="1165.2" rx="2.4" ry="2.8" fill="#2a389c"/><ellipse cx="105.5" cy="1185.5" rx="2.9" ry="2.0" fill="#2a389c"/><ellipse cx="128.2" cy="1250.1" rx="2.0" ry="2.8" fill="#2a389c"/><ellipse cx="146.6" cy="1191.2" rx="2.5" ry="3.6" fill="#2e3eac"/><ellipse cx="115.3" cy="1238.7" rx="3.3" ry="2.3" fill="#2e3eac"/><ellipse cx="73.6" cy="1242.3" rx="2.9" ry="3.7" fill="#2e3eac"/><ellipse cx="118.2" cy="1266.4" rx="3.3" ry="2.3" fill="#2e3eac"/><ellipse cx="71.6" cy="1197.0" rx="2.8" ry="3.8" fill="#3850c0"/><ellipse cx="157.1" cy="1201.3" rx="2.7" ry="3.1" fill="#2e3eac"/><ellipse cx="159.8" cy="1231.0" rx="3.1" ry="2.3" fill="#2a389c"/><ellipse cx="79.5" cy="1245.3" rx="3.1" ry="3.6" fill="#2a389c"/><ellipse cx="143.1" cy="1251.9" rx="2.4" ry="2.7" fill="#2e3eac"/><ellipse cx="43.4" cy="1171.0" rx="2.7" ry="3.1" fill="#3850c0"/><ellipse cx="102.9" cy="1270.7" rx="2.4" ry="3.5" fill="#3850c0"/><ellipse cx="59.9" cy="1260.0" rx="3.4" ry="3.2" fill="#2e3eac"/><ellipse cx="136.1" cy="1181.2" rx="2.2" ry="3.5" fill="#2a389c"/><ellipse cx="80.5" cy="1215.8" rx="3.9" ry="3.4" fill="#2e3eac"/><ellipse cx="62.7" cy="1178.5" rx="2.6" ry="2.3" fill="#3850c0"/><ellipse cx="84.5" cy="1251.3" rx="3.9" ry="2.6" fill="#2e3eac"/><ellipse cx="77.9" cy="1236.4" rx="2.4" ry="3.5" fill="#2e3eac"/><ellipse cx="113.9" cy="1223.2" rx="2.5" ry="2.1" fill="#2a389c"/><ellipse cx="160.2" cy="1178.2" rx="3.0" ry="2.8" fill="#2a389c"/><ellipse cx="121.1" cy="1188.2" rx="2.4" ry="2.9" fill="#2a389c"/><ellipse cx="90.2" cy="1199.5" rx="3.1" ry="3.9" fill="#3850c0"/><ellipse cx="76.1" cy="1284.9" rx="2.3" ry="2.5" fill="#2a389c"/><ellipse cx="47.3" cy="1200.7" rx="3.7" ry="2.6" fill="#2a389c"/><ellipse cx="142.7" cy="1267.9" rx="3.8" ry="3.3" fill="#3850c0"/></g>
<rect x="11.85" y="1134.45" width="178.5" height="182.1" filter="url(#cyan)" opacity="0.8" transform="rotate(40 101.1 1225.5)"/>
<rect x="11.85" y="1134.45" width="178.5" height="182.1" filter="url(#hole)" opacity="0.85" transform="rotate(0 101.1 1225.5)"/>
<path d="M39.6,1162.8 h123 v26.71 C124.9,1176.94 83.25,1184.22 39.6,1197.58 Z" fill="#020308" filter="url(#b1)"/>
</g>
<clipPath id="ci11"><rect x="187.9" y="1164.8" width="119.4" height="121.4"/></clipPath>
<g clip-path="url(#ci11)">
<rect x="187.9" y="1164.8" width="119.4" height="121.4" fill="#080b2c" stroke="none" stroke-width="1"/>
<ellipse cx="247.6" cy="1231.57" rx="59.7" ry="48.56" fill="#131a60" filter="url(#b10)" opacity="0.8" transform="rotate(0 247.6 1231.57)"/><ellipse cx="247.6" cy="1170.87" rx="71.64" ry="14.57" fill="#05061a" filter="url(#b5)" opacity="0.9" transform="rotate(0 247.6 1170.87)"/>
<g filter="url(#b05)" opacity="0.95"><ellipse cx="226.6" cy="1183.1" rx="1.3" ry="1.9" fill="#2c3aa4"/><ellipse cx="265.6" cy="1173.6" rx="2.9" ry="2.7" fill="#2c3aa4"/><ellipse cx="251.9" cy="1209.2" rx="2.3" ry="2.8" fill="#2c3aa4"/><ellipse cx="194.8" cy="1226.4" rx="2.0" ry="1.7" fill="#3446b4"/><ellipse cx="192.4" cy="1217.4" rx="1.7" ry="2.2" fill="#3446b4"/><ellipse cx="196.2" cy="1175.8" rx="2.9" ry="1.9" fill="#3446b4"/><ellipse cx="238.6" cy="1265.2" rx="2.2" ry="2.7" fill="#3446b4"/><ellipse cx="202.7" cy="1191.9" rx="1.6" ry="2.5" fill="#3c5cc0"/><ellipse cx="262.8" cy="1279.9" rx="1.6" ry="2.4" fill="#2c3aa4"/><ellipse cx="256.8" cy="1213.0" rx="2.4" ry="1.7" fill="#2c3aa4"/><ellipse cx="304.5" cy="1170.5" rx="1.8" ry="2.5" fill="#283494"/><ellipse cx="290.4" cy="1200.0" rx="1.9" ry="2.1" fill="#3446b4"/><ellipse cx="205.1" cy="1179.1" rx="2.4" ry="1.9" fill="#283494"/><ellipse cx="224.7" cy="1263.9" rx="3.0" ry="2.4" fill="#3446b4"/><ellipse cx="209.5" cy="1235.4" rx="2.5" ry="1.7" fill="#283494"/><ellipse cx="264.2" cy="1210.0" rx="2.4" ry="1.6" fill="#2c3aa4"/><ellipse cx="253.3" cy="1172.4" rx="2.4" ry="2.3" fill="#2c3aa4"/><ellipse cx="195.0" cy="1189.8" rx="1.9" ry="2.6" fill="#3c5cc0"/><ellipse cx="269.1" cy="1216.7" rx="2.5" ry="2.9" fill="#2c3aa4"/><ellipse cx="225.4" cy="1235.9" rx="1.6" ry="2.2" fill="#283494"/><ellipse cx="242.0" cy="1201.2" rx="2.1" ry="2.3" fill="#3c5cc0"/><ellipse cx="282.7" cy="1249.7" rx="2.0" ry="1.6" fill="#2c3aa4"/><ellipse cx="217.0" cy="1234.5" rx="1.6" ry="2.2" fill="#3c5cc0"/><ellipse cx="250.6" cy="1271.0" rx="2.3" ry="2.6" fill="#3c5cc0"/><ellipse cx="275.0" cy="1199.8" rx="1.9" ry="2.6" fill="#3446b4"/><ellipse cx="304.9" cy="1179.1" rx="2.2" ry="2.4" fill="#283494"/><ellipse cx="237.8" cy="1256.7" rx="2.1" ry="1.9" fill="#283494"/><ellipse cx="206.0" cy="1224.2" rx="2.7" ry="2.5" fill="#3446b4"/><ellipse cx="192.6" cy="1245.9" rx="1.5" ry="2.0" fill="#2c3aa4"/><ellipse cx="279.2" cy="1234.4" rx="1.7" ry="2.0" fill="#283494"/><ellipse cx="270.9" cy="1237.0" rx="3.0" ry="2.7" fill="#3c5cc0"/><ellipse cx="257.1" cy="1220.2" rx="2.1" ry="1.4" fill="#3446b4"/><ellipse cx="288.2" cy="1279.5" rx="1.5" ry="2.0" fill="#3c5cc0"/><ellipse cx="244.5" cy="1245.4" rx="2.2" ry="2.8" fill="#3446b4"/><ellipse cx="265.2" cy="1285.4" rx="2.4" ry="1.6" fill="#3c5cc0"/><ellipse cx="234.0" cy="1246.0" rx="1.8" ry="1.3" fill="#3c5cc0"/><ellipse cx="194.9" cy="1258.1" rx="2.8" ry="2.4" fill="#283494"/><ellipse cx="234.6" cy="1270.6" rx="2.2" ry="2.6" fill="#3446b4"/><ellipse cx="197.5" cy="1219.3" rx="2.1" ry="1.8" fill="#283494"/><ellipse cx="285.7" cy="1269.7" rx="2.7" ry="2.4" fill="#3446b4"/><ellipse cx="221.1" cy="1215.2" rx="2.2" ry="2.8" fill="#3c5cc0"/><ellipse cx="208.9" cy="1193.0" rx="2.4" ry="2.0" fill="#3446b4"/><ellipse cx="215.8" cy="1223.7" rx="2.1" ry="2.7" fill="#2c3aa4"/><ellipse cx="258.2" cy="1196.7" rx="1.5" ry="1.8" fill="#283494"/><ellipse cx="232.0" cy="1233.6" rx="2.4" ry="1.6" fill="#283494"/><ellipse cx="301.7" cy="1248.6" rx="2.7" ry="2.1" fill="#3446b4"/><ellipse cx="249.4" cy="1239.8" rx="2.4" ry="1.8" fill="#283494"/><ellipse cx="295.3" cy="1259.5" rx="3.0" ry="2.0" fill="#2c3aa4"/><ellipse cx="234.8" cy="1213.2" rx="2.7" ry="2.2" fill="#3446b4"/><ellipse cx="200.3" cy="1241.8" rx="1.6" ry="2.1" fill="#3c5cc0"/><ellipse cx="212.8" cy="1184.5" rx="2.9" ry="2.4" fill="#3446b4"/><ellipse cx="228.5" cy="1171.2" rx="1.4" ry="1.9" fill="#283494"/><ellipse cx="187.9" cy="1183.2" rx="2.8" ry="3.0" fill="#283494"/><ellipse cx="200.0" cy="1208.9" rx="2.0" ry="1.7" fill="#283494"/><ellipse cx="190.9" cy="1270.9" rx="1.9" ry="2.4" fill="#283494"/><ellipse cx="261.2" cy="1182.8" rx="2.2" ry="1.9" fill="#3c5cc0"/><ellipse cx="218.0" cy="1207.0" rx="2.4" ry="1.7" fill="#283494"/><ellipse cx="231.4" cy="1179.7" rx="2.7" ry="2.1" fill="#283494"/><ellipse cx="289.3" cy="1285.4" rx="1.6" ry="2.1" fill="#3c5cc0"/><ellipse cx="243.5" cy="1223.5" rx="2.6" ry="2.0" fill="#3446b4"/><ellipse cx="228.8" cy="1196.9" rx="1.9" ry="2.2" fill="#3c5cc0"/><ellipse cx="286.9" cy="1184.4" rx="2.3" ry="1.9" fill="#3446b4"/><ellipse cx="190.7" cy="1280.2" rx="1.4" ry="2.0" fill="#2c3aa4"/><ellipse cx="251.0" cy="1182.6" rx="2.8" ry="2.6" fill="#283494"/><ellipse cx="251.0" cy="1283.6" rx="2.4" ry="1.8" fill="#2c3aa4"/><ellipse cx="291.0" cy="1249.3" rx="1.3" ry="2.1" fill="#2c3aa4"/><ellipse cx="207.8" cy="1258.5" rx="2.3" ry="2.5" fill="#3c5cc0"/><ellipse cx="251.5" cy="1259.4" rx="2.2" ry="1.5" fill="#283494"/><ellipse cx="289.7" cy="1262.7" rx="2.5" ry="2.2" fill="#2c3aa4"/><ellipse cx="285.6" cy="1254.6" rx="2.6" ry="2.4" fill="#3446b4"/><ellipse cx="191.2" cy="1198.7" rx="2.0" ry="1.7" fill="#3c5cc0"/><ellipse cx="218.8" cy="1248.9" rx="1.7" ry="2.6" fill="#3c5cc0"/><ellipse cx="302.1" cy="1219.1" rx="1.4" ry="2.1" fill="#2c3aa4"/><ellipse cx="299.8" cy="1284.7" rx="2.4" ry="2.2" fill="#283494"/><ellipse cx="301.9" cy="1209.1" rx="2.4" ry="1.9" fill="#2c3aa4"/><ellipse cx="262.4" cy="1274.1" rx="2.0" ry="1.5" fill="#3c5cc0"/><ellipse cx="288.2" cy="1223.0" rx="2.4" ry="2.6" fill="#3c5cc0"/><ellipse cx="265.9" cy="1261.9" rx="2.5" ry="3.0" fill="#3446b4"/><ellipse cx="277.5" cy="1222.8" rx="2.6" ry="1.6" fill="#3446b4"/><ellipse cx="235.8" cy="1279.7" rx="1.8" ry="2.8" fill="#283494"/><ellipse cx="274.4" cy="1185.4" rx="1.8" ry="1.6" fill="#3446b4"/><ellipse cx="205.4" cy="1265.1" rx="1.6" ry="1.9" fill="#283494"/><ellipse cx="203.5" cy="1166.5" rx="1.6" ry="2.1" fill="#2c3aa4"/><ellipse cx="250.8" cy="1278.1" rx="2.8" ry="2.0" fill="#3c5cc0"/><ellipse cx="286.5" cy="1190.4" rx="2.2" ry="2.1" fill="#3446b4"/><ellipse cx="218.0" cy="1200.4" rx="3.0" ry="2.5" fill="#3446b4"/><ellipse cx="203.6" cy="1275.3" rx="1.8" ry="2.0" fill="#2c3aa4"/><ellipse cx="230.1" cy="1220.4" rx="2.7" ry="1.7" fill="#3c5cc0"/><ellipse cx="247.8" cy="1229.4" rx="1.6" ry="2.5" fill="#2c3aa4"/><ellipse cx="250.4" cy="1167.1" rx="1.7" ry="1.9" fill="#2c3aa4"/><ellipse cx="240.5" cy="1187.0" rx="2.7" ry="2.6" fill="#283494"/><ellipse cx="188.4" cy="1261.8" rx="2.6" ry="2.2" fill="#2c3aa4"/><ellipse cx="226.8" cy="1227.7" rx="1.7" ry="2.1" fill="#283494"/><ellipse cx="200.6" cy="1232.8" rx="1.3" ry="1.9" fill="#2c3aa4"/><ellipse cx="261.0" cy="1226.2" rx="2.4" ry="2.9" fill="#283494"/><ellipse cx="249.1" cy="1248.9" rx="2.2" ry="2.7" fill="#3446b4"/><ellipse cx="241.9" cy="1229.5" rx="1.3" ry="2.0" fill="#2c3aa4"/><ellipse cx="245.0" cy="1279.1" rx="2.4" ry="1.9" fill="#3c5cc0"/><ellipse cx="271.4" cy="1271.2" rx="2.3" ry="2.5" fill="#2c3aa4"/><ellipse cx="300.4" cy="1196.3" rx="2.6" ry="2.2" fill="#283494"/><ellipse cx="281.5" cy="1273.7" rx="1.8" ry="2.4" fill="#3c5cc0"/><ellipse cx="206.3" cy="1251.7" rx="1.4" ry="2.1" fill="#2c3aa4"/><ellipse cx="266.7" cy="1182.2" rx="1.8" ry="1.5" fill="#2c3aa4"/><ellipse cx="214.1" cy="1280.4" rx="1.4" ry="2.1" fill="#3446b4"/><ellipse cx="235.5" cy="1224.0" rx="2.7" ry="1.9" fill="#283494"/><ellipse cx="306.1" cy="1265.9" rx="2.9" ry="2.2" fill="#283494"/><ellipse cx="207.2" cy="1217.2" rx="2.7" ry="1.7" fill="#3c5cc0"/><ellipse cx="211.3" cy="1203.5" rx="2.2" ry="2.4" fill="#2c3aa4"/><ellipse cx="274.1" cy="1167.2" rx="1.7" ry="2.7" fill="#2c3aa4"/><ellipse cx="190.1" cy="1205.0" rx="2.3" ry="1.6" fill="#3c5cc0"/><ellipse cx="195.6" cy="1284.4" rx="2.5" ry="1.8" fill="#3c5cc0"/><ellipse cx="282.0" cy="1282.8" rx="2.4" ry="1.6" fill="#2c3aa4"/><ellipse cx="200.4" cy="1197.0" rx="2.2" ry="1.9" fill="#3c5cc0"/><ellipse cx="220.2" cy="1180.5" rx="2.1" ry="2.4" fill="#3446b4"/><ellipse cx="285.7" cy="1196.2" rx="2.2" ry="2.7" fill="#2c3aa4"/><ellipse cx="256.0" cy="1249.8" rx="2.5" ry="2.1" fill="#3446b4"/><ellipse cx="196.5" cy="1278.7" rx="2.5" ry="2.8" fill="#283494"/><ellipse cx="197.9" cy="1268.7" rx="1.8" ry="2.5" fill="#283494"/><ellipse cx="250.8" cy="1193.7" rx="2.3" ry="1.9" fill="#283494"/><ellipse cx="201.0" cy="1184.4" rx="2.0" ry="2.8" fill="#3446b4"/><ellipse cx="225.2" cy="1201.8" rx="2.1" ry="1.4" fill="#2c3aa4"/><ellipse cx="217.8" cy="1166.7" rx="2.1" ry="1.4" fill="#283494"/><ellipse cx="299.5" cy="1177.7" rx="2.1" ry="1.9" fill="#3c5cc0"/><ellipse cx="285.7" cy="1217.3" rx="2.2" ry="1.4" fill="#3c5cc0"/><ellipse cx="247.0" cy="1266.1" rx="2.0" ry="1.8" fill="#283494"/><ellipse cx="236.2" cy="1207.0" rx="1.4" ry="2.2" fill="#283494"/><ellipse cx="221.6" cy="1194.2" rx="2.4" ry="2.9" fill="#3c5cc0"/><ellipse cx="222.9" cy="1220.6" rx="2.4" ry="1.5" fill="#2c3aa4"/><ellipse cx="304.0" cy="1231.2" rx="2.1" ry="1.7" fill="#3446b4"/><ellipse cx="224.9" cy="1208.1" rx="1.9" ry="2.4" fill="#283494"/><ellipse cx="188.0" cy="1211.1" rx="1.7" ry="1.9" fill="#3446b4"/><ellipse cx="192.9" cy="1167.5" rx="1.8" ry="2.3" fill="#2c3aa4"/><ellipse cx="277.5" cy="1244.6" rx="2.9" ry="2.3" fill="#3446b4"/><ellipse cx="294.4" cy="1241.0" rx="2.3" ry="2.6" fill="#2c3aa4"/><ellipse cx="275.5" cy="1263.4" rx="1.8" ry="2.2" fill="#2c3aa4"/><ellipse cx="269.4" cy="1249.0" rx="2.0" ry="1.9" fill="#283494"/><ellipse cx="262.7" cy="1247.4" rx="1.9" ry="2.1" fill="#3c5cc0"/><ellipse cx="276.2" cy="1283.3" rx="2.7" ry="2.4" fill="#3446b4"/><ellipse cx="246.9" cy="1211.2" rx="2.8" ry="2.1" fill="#3c5cc0"/><ellipse cx="268.6" cy="1200.1" rx="1.9" ry="1.2" fill="#3c5cc0"/><ellipse cx="249.6" cy="1221.2" rx="2.4" ry="2.2" fill="#3c5cc0"/><ellipse cx="243.6" cy="1179.2" rx="2.5" ry="2.9" fill="#3446b4"/><ellipse cx="294.6" cy="1189.0" rx="2.5" ry="2.1" fill="#3c5cc0"/><ellipse cx="304.7" cy="1278.5" rx="1.8" ry="2.0" fill="#283494"/><ellipse cx="215.5" cy="1273.8" rx="2.1" ry="3.0" fill="#3446b4"/><ellipse cx="188.3" cy="1224.5" rx="2.9" ry="1.9" fill="#2c3aa4"/><ellipse cx="188.1" cy="1255.9" rx="2.8" ry="1.8" fill="#3c5cc0"/><ellipse cx="307.2" cy="1236.3" rx="1.9" ry="1.2" fill="#283494"/><ellipse cx="222.0" cy="1278.4" rx="2.6" ry="1.9" fill="#2c3aa4"/><ellipse cx="248.9" cy="1187.8" rx="1.8" ry="2.4" fill="#3446b4"/><ellipse cx="222.1" cy="1170.7" rx="1.6" ry="2.4" fill="#283494"/><ellipse cx="223.5" cy="1254.5" rx="2.7" ry="2.9" fill="#283494"/><ellipse cx="210.9" cy="1175.8" rx="2.8" ry="1.9" fill="#2c3aa4"/><ellipse cx="255.9" cy="1272.5" rx="2.9" ry="2.7" fill="#283494"/><ellipse cx="277.4" cy="1214.9" rx="2.7" ry="2.6" fill="#3c5cc0"/><ellipse cx="292.1" cy="1167.4" rx="2.3" ry="2.8" fill="#3446b4"/><ellipse cx="294.8" cy="1222.3" rx="1.5" ry="2.2" fill="#3446b4"/><ellipse cx="258.0" cy="1164.8" rx="1.4" ry="2.0" fill="#3c5cc0"/><ellipse cx="201.3" cy="1173.3" rx="2.5" ry="1.6" fill="#3446b4"/><ellipse cx="234.2" cy="1191.9" rx="1.6" ry="2.3" fill="#3446b4"/><ellipse cx="302.4" cy="1243.1" rx="1.5" ry="2.2" fill="#3446b4"/><ellipse cx="215.9" cy="1194.8" rx="1.8" ry="2.3" fill="#2c3aa4"/><ellipse cx="238.0" cy="1196.0" rx="2.6" ry="2.3" fill="#3c5cc0"/><ellipse cx="267.6" cy="1277.1" rx="2.8" ry="1.9" fill="#3446b4"/><ellipse cx="269.4" cy="1188.8" rx="1.6" ry="2.3" fill="#283494"/><ellipse cx="303.7" cy="1202.6" rx="1.9" ry="1.4" fill="#2c3aa4"/><ellipse cx="214.3" cy="1257.1" rx="2.7" ry="2.8" fill="#2c3aa4"/><ellipse cx="214.6" cy="1215.4" rx="2.3" ry="1.8" fill="#3c5cc0"/><ellipse cx="195.1" cy="1212.5" rx="1.8" ry="1.6" fill="#283494"/><ellipse cx="295.1" cy="1272.1" rx="1.4" ry="2.2" fill="#3446b4"/><ellipse cx="303.0" cy="1190.0" rx="1.7" ry="2.5" fill="#283494"/><ellipse cx="230.5" cy="1264.5" rx="1.8" ry="2.7" fill="#2c3aa4"/><ellipse cx="210.9" cy="1209.0" rx="2.9" ry="2.5" fill="#283494"/><ellipse cx="279.4" cy="1169.7" rx="2.0" ry="1.7" fill="#283494"/><ellipse cx="260.4" cy="1204.6" rx="1.7" ry="2.5" fill="#3c5cc0"/><ellipse cx="191.9" cy="1231.9" rx="2.8" ry="2.6" fill="#3446b4"/><ellipse cx="226.8" cy="1283.8" rx="2.2" ry="2.0" fill="#3c5cc0"/><ellipse cx="235.2" cy="1285.3" rx="1.9" ry="1.4" fill="#283494"/><ellipse cx="284.4" cy="1244.1" rx="2.0" ry="2.8" fill="#3446b4"/><ellipse cx="259.1" cy="1240.1" rx="1.8" ry="1.6" fill="#2c3aa4"/><ellipse cx="225.2" cy="1189.5" rx="2.2" ry="2.1" fill="#2c3aa4"/><ellipse cx="245.5" cy="1171.3" rx="1.9" ry="1.7" fill="#3446b4"/><ellipse cx="288.0" cy="1179.1" rx="2.7" ry="2.5" fill="#2c3aa4"/><ellipse cx="259.5" cy="1231.6" rx="2.1" ry="1.4" fill="#3c5cc0"/><ellipse cx="238.1" cy="1235.5" rx="2.4" ry="1.9" fill="#2c3aa4"/><ellipse cx="241.2" cy="1218.0" rx="2.1" ry="1.4" fill="#283494"/><ellipse cx="190.7" cy="1239.9" rx="1.9" ry="1.4" fill="#2c3aa4"/><ellipse cx="248.3" cy="1203.5" rx="1.8" ry="1.7" fill="#3446b4"/><ellipse cx="292.1" cy="1232.2" rx="1.8" ry="1.5" fill="#283494"/><ellipse cx="230.9" cy="1257.6" rx="2.6" ry="1.7" fill="#283494"/><ellipse cx="225.2" cy="1165.0" rx="1.2" ry="1.9" fill="#3446b4"/><ellipse cx="265.9" cy="1167.5" rx="1.9" ry="1.3" fill="#283494"/><ellipse cx="258.2" cy="1189.6" rx="2.8" ry="1.9" fill="#3c5cc0"/><ellipse cx="299.8" cy="1253.8" rx="2.0" ry="1.8" fill="#3c5cc0"/><ellipse cx="282.0" cy="1228.3" rx="2.6" ry="2.2" fill="#2c3aa4"/><ellipse cx="219.6" cy="1242.7" rx="2.3" ry="2.1" fill="#3446b4"/><ellipse cx="213.2" cy="1240.4" rx="2.3" ry="2.1" fill="#3446b4"/><ellipse cx="271.1" cy="1254.2" rx="2.5" ry="2.8" fill="#283494"/><ellipse cx="195.8" cy="1236.5" rx="2.8" ry="2.9" fill="#3c5cc0"/><ellipse cx="297.1" cy="1279.4" rx="1.6" ry="2.6" fill="#283494"/></g>
<rect x="158.05" y="1134.45" width="179.1" height="182.1" filter="url(#grnDot)" opacity="0.4" transform="rotate(60 247.6 1225.5)"/>
<rect x="158.05" y="1134.45" width="179.1" height="182.1" filter="url(#holeS)" opacity="0.6" transform="rotate(10 247.6 1225.5)"/>
</g>
<clipPath id="ci12"><rect x="334.9" y="1164.8" width="120.5" height="121.4"/></clipPath>
<g clip-path="url(#ci12)">
<rect x="334.9" y="1164.8" width="120.5" height="121.4" fill="#195a70" stroke="none" stroke-width="1"/>
<ellipse cx="401.17" cy="1213.36" rx="48.2" ry="48.56" fill="#22807a" filter="url(#b10)" opacity="0.7" transform="rotate(0 401.17 1213.36)"/><ellipse cx="352.97" cy="1267.99" rx="36.15" ry="30.35" fill="#1a4888" filter="url(#b10)" opacity="0.8" transform="rotate(0 352.97 1267.99)"/>
<rect x="304.77" y="1134.45" width="180.75" height="182.1" filter="url(#tealB)" opacity="0.75" transform="rotate(0 395.15 1225.5)"/>
<rect x="304.77" y="1134.45" width="180.75" height="182.1" filter="url(#teal)" opacity="0.45" transform="rotate(30 395.15 1225.5)"/>
<g filter="url(#b05)" opacity="0.55"><ellipse cx="390.7" cy="1210.1" rx="2.3" ry="3.5" fill="#2878a0"/><ellipse cx="351.6" cy="1270.0" rx="2.3" ry="1.9" fill="#2c908c"/><ellipse cx="335.7" cy="1225.8" rx="3.8" ry="3.5" fill="#52c49c"/><ellipse cx="443.1" cy="1174.6" rx="1.8" ry="2.3" fill="#38ac94"/><ellipse cx="401.7" cy="1239.7" rx="2.8" ry="2.5" fill="#2878a0"/><ellipse cx="339.8" cy="1210.8" rx="2.3" ry="2.5" fill="#52c49c"/><ellipse cx="419.7" cy="1219.7" rx="3.2" ry="2.1" fill="#52c49c"/><ellipse cx="422.3" cy="1183.9" rx="2.9" ry="2.1" fill="#2a8a84"/><ellipse cx="363.6" cy="1178.3" rx="3.3" ry="3.8" fill="#2a8a84"/><ellipse cx="395.9" cy="1277.0" rx="3.3" ry="2.3" fill="#52c49c"/><ellipse cx="406.0" cy="1258.8" rx="2.5" ry="2.6" fill="#2a8a84"/><ellipse cx="381.1" cy="1255.4" rx="2.3" ry="3.4" fill="#38ac94"/><ellipse cx="347.2" cy="1200.1" rx="2.3" ry="1.8" fill="#52c49c"/><ellipse cx="416.1" cy="1252.9" rx="3.6" ry="2.3" fill="#2c908c"/><ellipse cx="385.7" cy="1175.4" rx="2.3" ry="2.9" fill="#38ac94"/><ellipse cx="367.0" cy="1190.3" rx="2.9" ry="2.5" fill="#2a8a84"/><ellipse cx="368.8" cy="1263.1" rx="2.8" ry="2.9" fill="#2c908c"/><ellipse cx="358.9" cy="1272.4" rx="3.6" ry="3.4" fill="#2a8a84"/><ellipse cx="380.5" cy="1224.5" rx="3.1" ry="2.4" fill="#2c908c"/><ellipse cx="406.8" cy="1179.5" rx="2.3" ry="2.1" fill="#2878a0"/><ellipse cx="404.6" cy="1273.5" rx="2.8" ry="2.4" fill="#2a8a84"/><ellipse cx="359.4" cy="1165.8" rx="2.3" ry="3.0" fill="#2a8a84"/><ellipse cx="345.0" cy="1230.3" rx="2.3" ry="2.1" fill="#2878a0"/><ellipse cx="337.0" cy="1175.1" rx="2.5" ry="1.6" fill="#2c908c"/><ellipse cx="411.9" cy="1176.1" rx="2.9" ry="2.5" fill="#2a8a84"/><ellipse cx="404.8" cy="1185.7" rx="2.8" ry="3.4" fill="#52c49c"/><ellipse cx="408.3" cy="1281.1" rx="1.9" ry="2.5" fill="#2a8a84"/><ellipse cx="367.2" cy="1285.6" rx="2.4" ry="2.2" fill="#38ac94"/><ellipse cx="455.2" cy="1179.5" rx="2.9" ry="2.5" fill="#2878a0"/><ellipse cx="419.9" cy="1280.2" rx="2.8" ry="2.2" fill="#2c908c"/><ellipse cx="363.4" cy="1239.0" rx="2.0" ry="2.8" fill="#2a8a84"/><ellipse cx="416.1" cy="1236.5" rx="2.9" ry="1.9" fill="#2c908c"/><ellipse cx="428.2" cy="1175.3" rx="1.9" ry="2.8" fill="#2a8a84"/><ellipse cx="376.7" cy="1269.7" rx="2.4" ry="3.0" fill="#52c49c"/><ellipse cx="405.3" cy="1219.6" rx="3.7" ry="3.2" fill="#2a8a84"/><ellipse cx="383.4" cy="1284.5" rx="2.3" ry="1.8" fill="#52c49c"/><ellipse cx="404.1" cy="1167.0" rx="2.1" ry="3.2" fill="#2c908c"/><ellipse cx="431.2" cy="1204.7" rx="2.3" ry="2.1" fill="#38ac94"/><ellipse cx="387.1" cy="1190.7" rx="2.2" ry="2.7" fill="#2c908c"/><ellipse cx="388.4" cy="1204.2" rx="2.4" ry="2.8" fill="#2878a0"/><ellipse cx="345.6" cy="1241.2" rx="2.9" ry="3.6" fill="#38ac94"/><ellipse cx="347.3" cy="1260.0" rx="3.6" ry="3.2" fill="#2878a0"/><ellipse cx="338.0" cy="1259.6" rx="3.3" ry="2.3" fill="#2a8a84"/><ellipse cx="432.2" cy="1225.2" rx="3.6" ry="2.6" fill="#38ac94"/><ellipse cx="420.4" cy="1194.9" rx="3.3" ry="2.8" fill="#2878a0"/><ellipse cx="383.2" cy="1210.1" rx="3.0" ry="2.3" fill="#2c908c"/><ellipse cx="438.5" cy="1209.6" rx="2.5" ry="3.6" fill="#2878a0"/><ellipse cx="415.3" cy="1185.6" rx="3.3" ry="2.6" fill="#2a8a84"/><ellipse cx="436.5" cy="1196.2" rx="2.4" ry="3.2" fill="#2a8a84"/><ellipse cx="341.0" cy="1283.2" rx="2.6" ry="3.0" fill="#38ac94"/><ellipse cx="355.7" cy="1279.7" rx="3.7" ry="2.9" fill="#38ac94"/><ellipse cx="453.7" cy="1238.4" rx="3.5" ry="3.2" fill="#52c49c"/><ellipse cx="360.0" cy="1212.0" rx="2.1" ry="2.6" fill="#2a8a84"/><ellipse cx="377.6" cy="1181.9" rx="2.2" ry="3.5" fill="#38ac94"/><ellipse cx="418.8" cy="1172.8" rx="2.8" ry="2.1" fill="#2c908c"/><ellipse cx="389.3" cy="1250.2" rx="3.1" ry="3.3" fill="#52c49c"/><ellipse cx="427.0" cy="1211.3" rx="3.5" ry="3.2" fill="#38ac94"/><ellipse cx="441.8" cy="1185.3" rx="3.7" ry="3.0" fill="#52c49c"/><ellipse cx="421.1" cy="1258.5" rx="1.7" ry="2.6" fill="#2c908c"/><ellipse cx="441.0" cy="1224.8" rx="3.7" ry="3.5" fill="#52c49c"/><ellipse cx="346.9" cy="1170.7" rx="3.2" ry="2.5" fill="#2a8a84"/><ellipse cx="398.6" cy="1185.8" rx="2.6" ry="2.8" fill="#2878a0"/><ellipse cx="428.9" cy="1191.8" rx="2.4" ry="2.8" fill="#2c908c"/><ellipse cx="336.5" cy="1186.1" rx="2.2" ry="2.3" fill="#2878a0"/><ellipse cx="389.9" cy="1232.7" rx="1.5" ry="2.4" fill="#2a8a84"/><ellipse cx="442.0" cy="1230.9" rx="2.6" ry="3.4" fill="#2a8a84"/><ellipse cx="398.0" cy="1230.0" rx="3.6" ry="2.4" fill="#2878a0"/><ellipse cx="412.4" cy="1230.6" rx="2.3" ry="1.5" fill="#2878a0"/><ellipse cx="371.1" cy="1252.8" rx="3.8" ry="3.3" fill="#2a8a84"/><ellipse cx="394.0" cy="1242.1" rx="3.3" ry="3.5" fill="#52c49c"/><ellipse cx="362.7" cy="1264.7" rx="2.8" ry="3.1" fill="#2c908c"/><ellipse cx="422.8" cy="1240.7" rx="3.5" ry="2.8" fill="#2c908c"/><ellipse cx="440.4" cy="1169.2" rx="2.4" ry="1.8" fill="#52c49c"/><ellipse cx="416.6" cy="1214.2" rx="3.1" ry="2.7" fill="#2c908c"/><ellipse cx="343.2" cy="1187.8" rx="2.1" ry="3.1" fill="#2878a0"/><ellipse cx="375.1" cy="1259.8" rx="2.5" ry="2.2" fill="#2a8a84"/><ellipse cx="453.8" cy="1265.9" rx="2.2" ry="2.3" fill="#2878a0"/><ellipse cx="347.7" cy="1207.1" rx="2.8" ry="2.6" fill="#38ac94"/><ellipse cx="358.1" cy="1191.6" rx="3.3" ry="2.5" fill="#52c49c"/><ellipse cx="348.2" cy="1179.4" rx="3.0" ry="1.9" fill="#52c49c"/><ellipse cx="447.9" cy="1283.3" rx="2.0" ry="2.5" fill="#38ac94"/><ellipse cx="379.4" cy="1241.9" rx="2.1" ry="2.4" fill="#2c908c"/><ellipse cx="363.4" cy="1195.9" rx="1.8" ry="2.5" fill="#2a8a84"/><ellipse cx="387.8" cy="1279.4" rx="2.1" ry="2.4" fill="#2878a0"/><ellipse cx="407.8" cy="1191.6" rx="3.3" ry="2.8" fill="#2c908c"/><ellipse cx="443.6" cy="1277.8" rx="3.4" ry="3.7" fill="#38ac94"/><ellipse cx="373.2" cy="1194.8" rx="2.6" ry="3.8" fill="#52c49c"/><ellipse cx="368.2" cy="1220.9" rx="3.1" ry="2.2" fill="#52c49c"/><ellipse cx="355.5" cy="1230.8" rx="3.6" ry="2.9" fill="#2a8a84"/><ellipse cx="357.6" cy="1251.2" rx="2.7" ry="3.3" fill="#2878a0"/><ellipse cx="410.3" cy="1205.8" rx="2.8" ry="2.3" fill="#2a8a84"/><ellipse cx="426.7" cy="1272.1" rx="2.3" ry="2.5" fill="#52c49c"/><ellipse cx="400.2" cy="1205.5" rx="3.6" ry="2.2" fill="#2a8a84"/><ellipse cx="337.2" cy="1231.9" rx="2.7" ry="1.8" fill="#2c908c"/><ellipse cx="391.6" cy="1270.0" rx="3.4" ry="2.2" fill="#38ac94"/><ellipse cx="396.9" cy="1176.8" rx="2.0" ry="3.1" fill="#2a8a84"/><ellipse cx="336.2" cy="1276.6" rx="1.7" ry="2.4" fill="#38ac94"/><ellipse cx="354.6" cy="1176.5" rx="2.4" ry="2.2" fill="#52c49c"/><ellipse cx="434.2" cy="1285.6" rx="2.5" ry="3.0" fill="#2a8a84"/><ellipse cx="351.1" cy="1248.6" rx="3.3" ry="2.9" fill="#2a8a84"/><ellipse cx="373.5" cy="1211.5" rx="2.0" ry="2.8" fill="#2878a0"/><ellipse cx="356.9" cy="1239.2" rx="2.4" ry="2.1" fill="#38ac94"/><ellipse cx="336.0" cy="1247.9" rx="3.6" ry="3.4" fill="#52c49c"/><ellipse cx="439.2" cy="1247.0" rx="3.4" ry="2.6" fill="#2a8a84"/><ellipse cx="444.3" cy="1256.4" rx="2.8" ry="2.4" fill="#2a8a84"/><ellipse cx="362.9" cy="1205.0" rx="3.2" ry="3.7" fill="#52c49c"/><ellipse cx="446.8" cy="1168.0" rx="2.3" ry="1.7" fill="#2a8a84"/><ellipse cx="357.4" cy="1259.3" rx="2.8" ry="1.9" fill="#52c49c"/><ellipse cx="351.1" cy="1190.4" rx="2.2" ry="3.5" fill="#2a8a84"/><ellipse cx="451.1" cy="1232.3" rx="3.6" ry="2.2" fill="#2878a0"/><ellipse cx="451.7" cy="1187.4" rx="2.8" ry="3.3" fill="#38ac94"/><ellipse cx="399.9" cy="1246.2" rx="3.2" ry="3.6" fill="#2c908c"/><ellipse cx="341.7" cy="1268.5" rx="2.7" ry="2.2" fill="#38ac94"/><ellipse cx="428.8" cy="1219.9" rx="2.5" ry="2.1" fill="#2a8a84"/><ellipse cx="404.9" cy="1267.4" rx="2.7" ry="2.2" fill="#2878a0"/><ellipse cx="353.2" cy="1210.8" rx="2.8" ry="2.2" fill="#2c908c"/><ellipse cx="450.6" cy="1213.0" rx="3.1" ry="2.2" fill="#2c908c"/><ellipse cx="449.3" cy="1206.9" rx="3.7" ry="2.5" fill="#2878a0"/><ellipse cx="390.9" cy="1179.8" rx="2.6" ry="1.9" fill="#52c49c"/><ellipse cx="420.4" cy="1208.3" rx="3.4" ry="2.1" fill="#38ac94"/><ellipse cx="344.0" cy="1250.5" rx="2.8" ry="3.3" fill="#2c908c"/><ellipse cx="399.1" cy="1255.6" rx="2.2" ry="3.4" fill="#2a8a84"/><ellipse cx="413.0" cy="1261.8" rx="2.2" ry="2.8" fill="#2c908c"/><ellipse cx="337.2" cy="1217.7" rx="3.1" ry="3.6" fill="#2878a0"/><ellipse cx="338.5" cy="1200.3" rx="2.0" ry="2.7" fill="#2c908c"/><ellipse cx="352.3" cy="1255.2" rx="2.5" ry="3.3" fill="#52c49c"/><ellipse cx="392.1" cy="1256.1" rx="2.5" ry="2.7" fill="#52c49c"/><ellipse cx="411.4" cy="1222.7" rx="2.1" ry="3.0" fill="#2c908c"/><ellipse cx="345.6" cy="1214.3" rx="3.5" ry="3.2" fill="#2c908c"/><ellipse cx="428.6" cy="1252.7" rx="2.6" ry="2.1" fill="#2878a0"/><ellipse cx="343.8" cy="1222.8" rx="2.1" ry="2.9" fill="#38ac94"/><ellipse cx="405.7" cy="1229.5" rx="2.5" ry="3.7" fill="#2a8a84"/><ellipse cx="418.9" cy="1229.8" rx="2.4" ry="1.8" fill="#2878a0"/><ellipse cx="451.2" cy="1249.7" rx="3.1" ry="2.8" fill="#38ac94"/><ellipse cx="396.5" cy="1218.5" rx="2.8" ry="2.6" fill="#2878a0"/><ellipse cx="389.3" cy="1263.7" rx="2.9" ry="3.5" fill="#2c908c"/><ellipse cx="389.4" cy="1169.9" rx="2.4" ry="2.8" fill="#2878a0"/><ellipse cx="393.0" cy="1200.1" rx="2.7" ry="2.2" fill="#2a8a84"/><ellipse cx="426.4" cy="1263.7" rx="3.3" ry="2.8" fill="#2878a0"/><ellipse cx="361.5" cy="1219.2" rx="3.0" ry="2.3" fill="#38ac94"/><ellipse cx="433.7" cy="1179.7" rx="2.4" ry="1.7" fill="#52c49c"/><ellipse cx="421.0" cy="1248.6" rx="2.2" ry="2.6" fill="#2878a0"/><ellipse cx="385.0" cy="1198.9" rx="3.5" ry="2.7" fill="#2c908c"/><ellipse cx="412.9" cy="1165.0" rx="1.8" ry="2.5" fill="#2a8a84"/><ellipse cx="424.8" cy="1228.2" rx="2.2" ry="1.4" fill="#2a8a84"/><ellipse cx="436.8" cy="1279.4" rx="2.0" ry="2.6" fill="#2878a0"/><ellipse cx="375.6" cy="1167.0" rx="3.0" ry="2.8" fill="#2878a0"/><ellipse cx="435.0" cy="1187.2" rx="1.6" ry="2.4" fill="#2c908c"/><ellipse cx="404.0" cy="1198.1" rx="2.6" ry="3.6" fill="#52c49c"/><ellipse cx="437.6" cy="1257.7" rx="3.4" ry="3.1" fill="#38ac94"/><ellipse cx="376.9" cy="1173.6" rx="2.5" ry="3.7" fill="#38ac94"/><ellipse cx="358.2" cy="1182.1" rx="2.4" ry="3.2" fill="#2a8a84"/><ellipse cx="455.0" cy="1218.5" rx="1.6" ry="2.6" fill="#52c49c"/><ellipse cx="388.9" cy="1222.0" rx="2.7" ry="3.3" fill="#38ac94"/><ellipse cx="434.1" cy="1173.3" rx="2.3" ry="3.1" fill="#52c49c"/><ellipse cx="377.9" cy="1232.1" rx="3.7" ry="2.9" fill="#2c908c"/><ellipse cx="376.0" cy="1280.5" rx="3.5" ry="2.6" fill="#2c908c"/><ellipse cx="375.7" cy="1189.0" rx="3.1" ry="2.7" fill="#2c908c"/><ellipse cx="451.0" cy="1225.6" rx="2.3" ry="3.3" fill="#2a8a84"/><ellipse cx="368.7" cy="1269.8" rx="3.0" ry="2.4" fill="#2a8a84"/><ellipse cx="413.6" cy="1242.1" rx="1.8" ry="2.5" fill="#52c49c"/><ellipse cx="396.6" cy="1168.5" rx="3.1" ry="2.7" fill="#2878a0"/><ellipse cx="421.4" cy="1165.0" rx="3.6" ry="3.2" fill="#2878a0"/><ellipse cx="341.5" cy="1193.6" rx="2.2" ry="2.9" fill="#38ac94"/><ellipse cx="338.0" cy="1166.6" rx="2.2" ry="3.2" fill="#38ac94"/><ellipse cx="337.0" cy="1238.0" rx="3.7" ry="3.1" fill="#38ac94"/><ellipse cx="428.1" cy="1281.3" rx="2.9" ry="2.3" fill="#38ac94"/><ellipse cx="373.2" cy="1240.7" rx="3.1" ry="2.7" fill="#2a8a84"/><ellipse cx="367.6" cy="1229.5" rx="3.3" ry="2.3" fill="#52c49c"/><ellipse cx="419.6" cy="1271.0" rx="3.2" ry="2.9" fill="#2878a0"/></g>
<rect x="304.77" y="1134.45" width="180.75" height="182.1" filter="url(#grnDot)" opacity="0.5" transform="rotate(100 395.15 1225.5)"/>
<rect x="304.77" y="1134.45" width="180.75" height="182.1" filter="url(#crack)" opacity="0.9" transform="rotate(55 395.15 1225.5)"/>
</g>
<clipPath id="ci13"><rect x="480.6" y="1164.8" width="119.2" height="121.4"/></clipPath>
<g clip-path="url(#ci13)">
<rect x="480.6" y="1164.8" width="119.2" height="121.4" fill="#06081e" stroke="none" stroke-width="1"/>
<ellipse cx="522.32" cy="1249.78" rx="41.72" ry="36.42" fill="#12185c" filter="url(#b10)" opacity="0.7" transform="rotate(0 522.32 1249.78)"/><ellipse cx="516.36" cy="1195.15" rx="29.8" ry="24.28" fill="#10164e" filter="url(#b10)" opacity="0.6" transform="rotate(0 516.36 1195.15)"/>
<g filter="url(#b05)" opacity="0.95"><ellipse cx="507.6" cy="1281.6" rx="2.9" ry="1.8" fill="#2c3aa4"/><ellipse cx="495.7" cy="1250.4" rx="2.5" ry="2.7" fill="#2c3aa4"/><ellipse cx="490.8" cy="1194.8" rx="1.9" ry="2.1" fill="#283494"/><ellipse cx="599.7" cy="1190.2" rx="3.1" ry="2.3" fill="#3446b4"/><ellipse cx="557.1" cy="1220.5" rx="3.1" ry="2.2" fill="#283494"/><ellipse cx="534.6" cy="1224.9" rx="2.7" ry="1.9" fill="#4a62c8"/><ellipse cx="503.5" cy="1265.6" rx="2.0" ry="1.3" fill="#3446b4"/><ellipse cx="483.0" cy="1197.2" rx="2.2" ry="1.6" fill="#3446b4"/><ellipse cx="529.2" cy="1274.3" rx="3.2" ry="2.5" fill="#283494"/><ellipse cx="525.8" cy="1178.6" rx="3.1" ry="2.3" fill="#3446b4"/><ellipse cx="488.1" cy="1240.1" rx="2.2" ry="1.9" fill="#2c3aa4"/><ellipse cx="525.6" cy="1245.0" rx="2.7" ry="2.2" fill="#3446b4"/><ellipse cx="539.9" cy="1243.7" rx="2.7" ry="2.0" fill="#283494"/><ellipse cx="588.0" cy="1235.4" rx="2.0" ry="1.7" fill="#283494"/><ellipse cx="497.5" cy="1172.6" rx="2.5" ry="1.9" fill="#3446b4"/><ellipse cx="593.4" cy="1224.1" rx="2.3" ry="2.5" fill="#283494"/><ellipse cx="549.6" cy="1253.3" rx="2.5" ry="1.9" fill="#283494"/><ellipse cx="585.6" cy="1199.5" rx="3.0" ry="2.7" fill="#3446b4"/><ellipse cx="523.1" cy="1271.4" rx="3.1" ry="2.5" fill="#2c3aa4"/><ellipse cx="496.7" cy="1257.6" rx="3.1" ry="2.3" fill="#3446b4"/><ellipse cx="564.3" cy="1280.1" rx="2.0" ry="1.7" fill="#283494"/><ellipse cx="581.1" cy="1225.9" rx="2.7" ry="3.1" fill="#2c3aa4"/><ellipse cx="504.2" cy="1183.0" rx="3.2" ry="2.9" fill="#283494"/><ellipse cx="543.6" cy="1226.7" rx="3.0" ry="2.4" fill="#4a62c8"/><ellipse cx="489.1" cy="1274.5" rx="2.6" ry="1.9" fill="#4a62c8"/><ellipse cx="541.1" cy="1249.9" rx="2.3" ry="2.6" fill="#4a62c8"/><ellipse cx="506.8" cy="1194.4" rx="2.7" ry="2.1" fill="#4a62c8"/><ellipse cx="482.0" cy="1206.5" rx="2.8" ry="1.8" fill="#283494"/><ellipse cx="512.4" cy="1216.2" rx="2.5" ry="3.0" fill="#3446b4"/><ellipse cx="586.9" cy="1186.1" rx="2.3" ry="1.9" fill="#2c3aa4"/><ellipse cx="527.8" cy="1185.0" rx="2.2" ry="3.1" fill="#3446b4"/><ellipse cx="504.7" cy="1257.9" rx="2.3" ry="3.1" fill="#283494"/><ellipse cx="516.4" cy="1166.4" rx="2.9" ry="3.1" fill="#283494"/><ellipse cx="571.7" cy="1206.3" rx="2.1" ry="3.1" fill="#2c3aa4"/><ellipse cx="500.9" cy="1217.7" rx="3.2" ry="2.7" fill="#283494"/><ellipse cx="533.8" cy="1215.5" rx="2.5" ry="2.7" fill="#3446b4"/><ellipse cx="550.8" cy="1199.9" rx="1.6" ry="2.4" fill="#3446b4"/><ellipse cx="491.9" cy="1175.2" rx="3.1" ry="2.6" fill="#3446b4"/><ellipse cx="493.3" cy="1228.0" rx="3.0" ry="2.5" fill="#283494"/><ellipse cx="523.5" cy="1262.9" rx="1.8" ry="2.9" fill="#3446b4"/><ellipse cx="597.4" cy="1172.4" rx="2.5" ry="1.8" fill="#2c3aa4"/><ellipse cx="482.6" cy="1181.8" rx="2.6" ry="3.1" fill="#4a62c8"/><ellipse cx="526.7" cy="1234.4" rx="1.9" ry="2.0" fill="#3446b4"/><ellipse cx="595.6" cy="1165.2" rx="2.1" ry="2.5" fill="#4a62c8"/><ellipse cx="580.2" cy="1190.3" rx="2.3" ry="2.4" fill="#3446b4"/><ellipse cx="584.9" cy="1168.8" rx="2.1" ry="3.3" fill="#283494"/><ellipse cx="595.6" cy="1257.0" rx="2.2" ry="3.0" fill="#283494"/><ellipse cx="598.7" cy="1235.2" rx="1.8" ry="2.4" fill="#2c3aa4"/><ellipse cx="533.2" cy="1174.9" rx="2.0" ry="1.5" fill="#283494"/><ellipse cx="552.8" cy="1225.2" rx="2.3" ry="1.5" fill="#2c3aa4"/><ellipse cx="537.0" cy="1183.6" rx="2.2" ry="2.6" fill="#4a62c8"/><ellipse cx="495.1" cy="1235.3" rx="2.6" ry="2.3" fill="#2c3aa4"/><ellipse cx="533.0" cy="1252.9" rx="2.7" ry="2.0" fill="#3446b4"/><ellipse cx="565.9" cy="1222.0" rx="2.1" ry="1.6" fill="#4a62c8"/><ellipse cx="527.5" cy="1208.6" rx="1.9" ry="2.7" fill="#4a62c8"/><ellipse cx="567.0" cy="1250.8" rx="2.2" ry="2.4" fill="#3446b4"/><ellipse cx="553.5" cy="1167.5" rx="3.1" ry="2.7" fill="#283494"/><ellipse cx="524.0" cy="1217.3" rx="2.1" ry="2.9" fill="#3446b4"/><ellipse cx="491.7" cy="1282.3" rx="3.0" ry="2.3" fill="#2c3aa4"/><ellipse cx="570.7" cy="1225.8" rx="2.3" ry="3.1" fill="#3446b4"/><ellipse cx="564.7" cy="1189.2" rx="2.4" ry="1.8" fill="#2c3aa4"/><ellipse cx="507.9" cy="1228.6" rx="2.3" ry="2.0" fill="#2c3aa4"/><ellipse cx="569.3" cy="1243.4" rx="1.9" ry="3.0" fill="#283494"/><ellipse cx="481.4" cy="1239.2" rx="2.1" ry="2.7" fill="#3446b4"/><ellipse cx="588.9" cy="1255.0" rx="2.0" ry="2.7" fill="#4a62c8"/><ellipse cx="591.2" cy="1284.0" rx="2.5" ry="1.7" fill="#4a62c8"/><ellipse cx="507.3" cy="1200.8" rx="3.0" ry="1.9" fill="#2c3aa4"/><ellipse cx="545.8" cy="1283.4" rx="2.0" ry="2.9" fill="#283494"/><ellipse cx="524.6" cy="1279.1" rx="2.7" ry="2.5" fill="#2c3aa4"/><ellipse cx="555.1" cy="1281.0" rx="1.6" ry="2.2" fill="#283494"/><ellipse cx="574.0" cy="1200.7" rx="2.3" ry="3.2" fill="#4a62c8"/><ellipse cx="515.2" cy="1239.2" rx="2.6" ry="2.8" fill="#2c3aa4"/><ellipse cx="581.0" cy="1247.9" rx="2.2" ry="1.4" fill="#2c3aa4"/><ellipse cx="578.5" cy="1238.2" rx="2.3" ry="3.1" fill="#4a62c8"/><ellipse cx="488.8" cy="1253.8" rx="1.5" ry="2.4" fill="#283494"/><ellipse cx="494.6" cy="1265.5" rx="2.3" ry="3.0" fill="#3446b4"/><ellipse cx="513.3" cy="1200.2" rx="2.1" ry="1.3" fill="#4a62c8"/><ellipse cx="513.7" cy="1272.7" rx="2.8" ry="1.9" fill="#283494"/><ellipse cx="569.7" cy="1195.1" rx="2.3" ry="1.9" fill="#3446b4"/><ellipse cx="579.5" cy="1209.5" rx="1.8" ry="2.4" fill="#2c3aa4"/><ellipse cx="573.7" cy="1261.1" rx="1.5" ry="2.3" fill="#2c3aa4"/><ellipse cx="573.6" cy="1285.4" rx="1.5" ry="2.4" fill="#283494"/><ellipse cx="562.3" cy="1175.4" rx="2.8" ry="2.2" fill="#283494"/><ellipse cx="535.8" cy="1270.3" rx="2.8" ry="2.6" fill="#3446b4"/><ellipse cx="588.5" cy="1277.1" rx="2.4" ry="2.1" fill="#4a62c8"/><ellipse cx="590.2" cy="1269.1" rx="3.2" ry="2.8" fill="#4a62c8"/><ellipse cx="558.5" cy="1209.3" rx="2.1" ry="1.5" fill="#2c3aa4"/><ellipse cx="579.4" cy="1263.7" rx="2.1" ry="1.5" fill="#283494"/><ellipse cx="567.0" cy="1237.6" rx="2.9" ry="2.7" fill="#4a62c8"/><ellipse cx="542.6" cy="1178.6" rx="2.9" ry="2.7" fill="#3446b4"/><ellipse cx="499.6" cy="1195.7" rx="1.6" ry="2.5" fill="#3446b4"/><ellipse cx="573.8" cy="1176.9" rx="2.0" ry="1.4" fill="#4a62c8"/><ellipse cx="599.5" cy="1277.9" rx="2.3" ry="1.8" fill="#2c3aa4"/><ellipse cx="496.4" cy="1204.5" rx="2.8" ry="2.5" fill="#283494"/><ellipse cx="553.8" cy="1215.2" rx="2.4" ry="1.8" fill="#283494"/><ellipse cx="539.0" cy="1209.3" rx="2.5" ry="1.7" fill="#283494"/><ellipse cx="517.4" cy="1247.4" rx="2.1" ry="1.7" fill="#2c3aa4"/><ellipse cx="596.4" cy="1229.6" rx="2.2" ry="2.7" fill="#2c3aa4"/><ellipse cx="592.3" cy="1199.9" rx="1.5" ry="2.2" fill="#4a62c8"/><ellipse cx="557.8" cy="1179.9" rx="2.8" ry="2.5" fill="#283494"/><ellipse cx="527.6" cy="1169.0" rx="2.5" ry="1.6" fill="#3446b4"/><ellipse cx="502.6" cy="1235.2" rx="1.7" ry="2.1" fill="#283494"/><ellipse cx="531.3" cy="1241.3" rx="3.0" ry="2.0" fill="#4a62c8"/><ellipse cx="552.3" cy="1244.4" rx="2.6" ry="2.1" fill="#4a62c8"/><ellipse cx="598.1" cy="1208.3" rx="2.7" ry="3.3" fill="#3446b4"/><ellipse cx="593.5" cy="1243.7" rx="2.2" ry="1.8" fill="#2c3aa4"/><ellipse cx="508.7" cy="1209.1" rx="3.0" ry="2.3" fill="#283494"/><ellipse cx="557.7" cy="1260.2" rx="1.4" ry="2.1" fill="#3446b4"/><ellipse cx="574.0" cy="1254.8" rx="1.6" ry="2.2" fill="#2c3aa4"/><ellipse cx="583.1" cy="1219.1" rx="2.8" ry="3.0" fill="#2c3aa4"/><ellipse cx="556.4" cy="1195.6" rx="2.9" ry="1.9" fill="#4a62c8"/><ellipse cx="518.1" cy="1283.4" rx="3.3" ry="2.3" fill="#3446b4"/><ellipse cx="481.9" cy="1263.4" rx="2.4" ry="2.2" fill="#283494"/><ellipse cx="480.7" cy="1283.8" rx="2.5" ry="2.3" fill="#4a62c8"/><ellipse cx="538.0" cy="1284.5" rx="1.7" ry="2.7" fill="#4a62c8"/><ellipse cx="588.6" cy="1216.4" rx="2.5" ry="1.8" fill="#283494"/><ellipse cx="510.8" cy="1249.1" rx="3.0" ry="2.0" fill="#2c3aa4"/><ellipse cx="504.3" cy="1168.2" rx="2.0" ry="2.4" fill="#283494"/><ellipse cx="488.3" cy="1224.1" rx="1.9" ry="2.7" fill="#283494"/><ellipse cx="583.9" cy="1259.5" rx="2.3" ry="2.2" fill="#3446b4"/><ellipse cx="490.4" cy="1206.8" rx="2.1" ry="2.5" fill="#3446b4"/><ellipse cx="584.2" cy="1282.6" rx="2.1" ry="2.2" fill="#4a62c8"/><ellipse cx="536.5" cy="1191.7" rx="2.3" ry="1.9" fill="#283494"/><ellipse cx="551.8" cy="1189.2" rx="3.0" ry="2.6" fill="#283494"/><ellipse cx="562.6" cy="1233.2" rx="2.0" ry="2.5" fill="#4a62c8"/><ellipse cx="598.9" cy="1181.9" rx="2.1" ry="1.8" fill="#3446b4"/><ellipse cx="508.8" cy="1236.9" rx="2.6" ry="3.2" fill="#283494"/><ellipse cx="580.7" cy="1276.7" rx="2.2" ry="1.8" fill="#3446b4"/><ellipse cx="528.2" cy="1258.1" rx="2.0" ry="2.2" fill="#4a62c8"/><ellipse cx="494.7" cy="1211.7" rx="2.6" ry="1.7" fill="#3446b4"/><ellipse cx="538.7" cy="1231.3" rx="2.9" ry="2.7" fill="#283494"/><ellipse cx="599.7" cy="1198.3" rx="2.4" ry="2.7" fill="#283494"/><ellipse cx="555.9" cy="1173.9" rx="1.9" ry="2.3" fill="#2c3aa4"/><ellipse cx="520.6" cy="1211.5" rx="1.7" ry="2.7" fill="#4a62c8"/><ellipse cx="517.9" cy="1223.9" rx="1.8" ry="2.2" fill="#4a62c8"/><ellipse cx="499.5" cy="1224.4" rx="2.2" ry="2.6" fill="#2c3aa4"/><ellipse cx="571.5" cy="1271.6" rx="2.7" ry="3.1" fill="#3446b4"/><ellipse cx="576.3" cy="1184.2" rx="2.8" ry="2.2" fill="#3446b4"/><ellipse cx="494.6" cy="1276.9" rx="3.1" ry="2.7" fill="#283494"/><ellipse cx="523.2" cy="1229.0" rx="2.1" ry="3.0" fill="#3446b4"/><ellipse cx="545.9" cy="1243.9" rx="1.9" ry="2.9" fill="#4a62c8"/><ellipse cx="502.2" cy="1177.1" rx="2.5" ry="1.7" fill="#2c3aa4"/><ellipse cx="495.4" cy="1187.2" rx="2.6" ry="2.8" fill="#4a62c8"/><ellipse cx="572.1" cy="1168.4" rx="2.2" ry="1.7" fill="#3446b4"/><ellipse cx="534.0" cy="1205.2" rx="2.0" ry="1.5" fill="#3446b4"/><ellipse cx="551.5" cy="1260.1" rx="3.0" ry="2.1" fill="#3446b4"/><ellipse cx="533.5" cy="1198.3" rx="1.4" ry="2.2" fill="#3446b4"/><ellipse cx="516.4" cy="1191.5" rx="2.3" ry="1.7" fill="#2c3aa4"/><ellipse cx="549.6" cy="1177.1" rx="3.2" ry="2.2" fill="#3446b4"/><ellipse cx="567.0" cy="1285.8" rx="3.0" ry="2.0" fill="#2c3aa4"/></g>
<rect x="450.8" y="1134.45" width="178.8" height="182.1" filter="url(#hole2)" opacity="0.9" transform="rotate(0 540.2 1225.5)"/>
<rect x="450.8" y="1134.45" width="178.8" height="182.1" filter="url(#grnDot)" opacity="0.4" transform="rotate(160 540.2 1225.5)"/>
</g>
<clipPath id="ci14"><rect x="625.4" y="1166.3" width="120.5" height="118.9"/></clipPath>
<g clip-path="url(#ci14)">
<rect x="625.4" y="1166.3" width="120.5" height="118.9" fill="#1a5c7c" stroke="none" stroke-width="1"/>
<ellipse cx="697.7" cy="1201.22" rx="54.23" ry="42.49" fill="#2a9088" filter="url(#b10)" opacity="0.7" transform="rotate(0 697.7 1201.22)"/><ellipse cx="649.5" cy="1267.99" rx="42.17" ry="26.71" fill="#174c88" filter="url(#b10)" opacity="0.8" transform="rotate(0 649.5 1267.99)"/>
<rect x="595.27" y="1136.58" width="180.75" height="178.35" filter="url(#tealB)" opacity="0.8" transform="rotate(50 685.65 1225.75)"/>
<rect x="595.27" y="1136.58" width="180.75" height="178.35" filter="url(#teal)" opacity="0.45" transform="rotate(80 685.65 1225.75)"/>
<g filter="url(#b05)" opacity="0.6"><ellipse cx="694.3" cy="1217.3" rx="2.3" ry="2.8" fill="#3ab098"/><ellipse cx="695.1" cy="1190.8" rx="3.5" ry="2.8" fill="#2e9490"/><ellipse cx="723.4" cy="1264.2" rx="3.0" ry="2.4" fill="#2a7ca8"/><ellipse cx="704.1" cy="1185.4" rx="3.0" ry="2.3" fill="#2c8c8c"/><ellipse cx="688.1" cy="1205.3" rx="2.7" ry="3.7" fill="#3ab098"/><ellipse cx="655.5" cy="1279.6" rx="3.4" ry="3.6" fill="#3ab098"/><ellipse cx="745.5" cy="1171.6" rx="2.2" ry="3.1" fill="#2e9490"/><ellipse cx="729.0" cy="1238.0" rx="2.5" ry="2.2" fill="#3ab098"/><ellipse cx="671.4" cy="1200.0" rx="2.7" ry="3.3" fill="#2e9490"/><ellipse cx="706.7" cy="1220.6" rx="3.4" ry="2.8" fill="#3ab098"/><ellipse cx="708.0" cy="1245.0" rx="2.5" ry="3.2" fill="#2a7ca8"/><ellipse cx="641.4" cy="1257.6" rx="3.4" ry="3.0" fill="#2a7ca8"/><ellipse cx="743.8" cy="1281.6" rx="2.6" ry="1.7" fill="#2e9490"/><ellipse cx="699.3" cy="1171.6" rx="1.8" ry="2.6" fill="#3ab098"/><ellipse cx="625.9" cy="1182.2" rx="3.7" ry="2.4" fill="#3ab098"/><ellipse cx="738.8" cy="1202.3" rx="2.3" ry="2.6" fill="#2c8c8c"/><ellipse cx="669.5" cy="1273.1" rx="3.9" ry="3.2" fill="#3ab098"/><ellipse cx="663.3" cy="1231.6" rx="2.7" ry="2.6" fill="#58c8a4"/><ellipse cx="677.9" cy="1174.0" rx="1.9" ry="2.7" fill="#2c8c8c"/><ellipse cx="695.8" cy="1266.7" rx="2.7" ry="2.1" fill="#2a7ca8"/><ellipse cx="644.2" cy="1193.0" rx="3.3" ry="2.9" fill="#3ab098"/><ellipse cx="685.2" cy="1263.6" rx="2.1" ry="3.0" fill="#2c8c8c"/><ellipse cx="704.7" cy="1229.7" rx="2.2" ry="3.1" fill="#2e9490"/><ellipse cx="728.4" cy="1184.1" rx="3.8" ry="2.8" fill="#3ab098"/><ellipse cx="693.8" cy="1210.8" rx="2.1" ry="3.0" fill="#3ab098"/><ellipse cx="697.9" cy="1179.7" rx="2.1" ry="2.9" fill="#2c8c8c"/><ellipse cx="718.8" cy="1177.8" rx="2.5" ry="2.2" fill="#58c8a4"/><ellipse cx="645.4" cy="1262.3" rx="3.7" ry="2.8" fill="#58c8a4"/><ellipse cx="739.6" cy="1217.8" rx="3.4" ry="3.8" fill="#2e9490"/><ellipse cx="658.5" cy="1239.7" rx="2.5" ry="3.7" fill="#58c8a4"/><ellipse cx="646.9" cy="1180.5" rx="2.8" ry="1.9" fill="#3ab098"/><ellipse cx="680.3" cy="1185.9" rx="3.3" ry="2.8" fill="#2a7ca8"/><ellipse cx="703.6" cy="1263.9" rx="2.3" ry="3.5" fill="#2a7ca8"/><ellipse cx="719.1" cy="1223.4" rx="3.3" ry="2.9" fill="#3ab098"/><ellipse cx="667.3" cy="1218.0" rx="3.6" ry="2.6" fill="#3ab098"/><ellipse cx="626.0" cy="1251.0" rx="2.5" ry="3.1" fill="#2a7ca8"/><ellipse cx="665.4" cy="1204.3" rx="2.6" ry="2.1" fill="#3ab098"/><ellipse cx="635.0" cy="1219.6" rx="2.8" ry="1.9" fill="#58c8a4"/><ellipse cx="730.2" cy="1246.4" rx="3.0" ry="2.1" fill="#2e9490"/><ellipse cx="654.5" cy="1228.8" rx="3.5" ry="2.7" fill="#2e9490"/><ellipse cx="735.1" cy="1228.1" rx="1.9" ry="3.0" fill="#3ab098"/><ellipse cx="684.4" cy="1221.2" rx="3.1" ry="2.3" fill="#2c8c8c"/><ellipse cx="673.7" cy="1216.3" rx="2.5" ry="2.4" fill="#58c8a4"/><ellipse cx="695.9" cy="1230.3" rx="3.4" ry="3.9" fill="#2a7ca8"/><ellipse cx="678.6" cy="1281.5" rx="2.8" ry="2.9" fill="#2c8c8c"/><ellipse cx="625.7" cy="1230.0" rx="3.0" ry="2.7" fill="#2c8c8c"/><ellipse cx="631.5" cy="1177.3" rx="3.5" ry="2.8" fill="#2e9490"/><ellipse cx="745.0" cy="1224.0" rx="3.2" ry="2.9" fill="#2e9490"/><ellipse cx="712.9" cy="1273.1" rx="3.4" ry="2.3" fill="#2e9490"/><ellipse cx="703.7" cy="1274.4" rx="1.6" ry="2.5" fill="#2a7ca8"/><ellipse cx="700.0" cy="1248.0" rx="2.9" ry="2.2" fill="#3ab098"/><ellipse cx="702.8" cy="1236.3" rx="3.5" ry="2.2" fill="#2c8c8c"/><ellipse cx="725.3" cy="1223.2" rx="2.8" ry="2.1" fill="#58c8a4"/><ellipse cx="722.7" cy="1280.7" rx="2.2" ry="3.3" fill="#58c8a4"/><ellipse cx="677.9" cy="1268.4" rx="2.8" ry="3.6" fill="#3ab098"/><ellipse cx="631.0" cy="1274.9" rx="3.1" ry="4.0" fill="#58c8a4"/><ellipse cx="697.1" cy="1275.6" rx="2.6" ry="3.0" fill="#2e9490"/><ellipse cx="648.5" cy="1207.9" rx="3.2" ry="3.7" fill="#2e9490"/><ellipse cx="635.0" cy="1189.4" rx="4.0" ry="3.5" fill="#3ab098"/><ellipse cx="745.9" cy="1271.8" rx="3.3" ry="3.5" fill="#2a7ca8"/><ellipse cx="681.3" cy="1254.7" rx="2.3" ry="3.8" fill="#3ab098"/><ellipse cx="676.4" cy="1245.3" rx="3.4" ry="3.6" fill="#2e9490"/><ellipse cx="692.3" cy="1197.9" rx="3.5" ry="2.7" fill="#3ab098"/><ellipse cx="669.3" cy="1240.9" rx="3.5" ry="2.4" fill="#2a7ca8"/><ellipse cx="636.1" cy="1172.9" rx="3.6" ry="3.0" fill="#2e9490"/><ellipse cx="656.1" cy="1220.6" rx="3.0" ry="3.2" fill="#2e9490"/><ellipse cx="716.9" cy="1241.1" rx="3.7" ry="3.2" fill="#3ab098"/><ellipse cx="659.4" cy="1248.9" rx="3.6" ry="2.6" fill="#2a7ca8"/><ellipse cx="666.6" cy="1252.7" rx="3.9" ry="3.3" fill="#2c8c8c"/><ellipse cx="708.5" cy="1251.9" rx="3.6" ry="3.2" fill="#58c8a4"/><ellipse cx="721.9" cy="1214.5" rx="2.7" ry="3.2" fill="#2a7ca8"/><ellipse cx="745.0" cy="1252.0" rx="2.4" ry="3.4" fill="#58c8a4"/><ellipse cx="633.3" cy="1267.0" rx="2.6" ry="3.8" fill="#58c8a4"/><ellipse cx="726.2" cy="1168.2" rx="1.7" ry="2.8" fill="#2c8c8c"/><ellipse cx="659.4" cy="1188.5" rx="3.7" ry="3.9" fill="#2a7ca8"/><ellipse cx="651.9" cy="1254.9" rx="2.7" ry="1.7" fill="#2a7ca8"/><ellipse cx="740.0" cy="1189.1" rx="3.7" ry="2.4" fill="#2e9490"/><ellipse cx="627.3" cy="1190.2" rx="2.1" ry="2.8" fill="#2c8c8c"/><ellipse cx="664.8" cy="1172.0" rx="3.1" ry="2.1" fill="#2a7ca8"/><ellipse cx="708.8" cy="1172.3" rx="3.0" ry="2.5" fill="#2a7ca8"/><ellipse cx="642.9" cy="1269.2" rx="3.8" ry="3.0" fill="#2c8c8c"/><ellipse cx="710.5" cy="1238.8" rx="3.3" ry="2.5" fill="#58c8a4"/><ellipse cx="712.5" cy="1283.5" rx="2.9" ry="2.2" fill="#2c8c8c"/><ellipse cx="724.5" cy="1207.1" rx="3.4" ry="2.4" fill="#58c8a4"/><ellipse cx="648.8" cy="1217.8" rx="3.9" ry="2.6" fill="#3ab098"/><ellipse cx="643.8" cy="1277.1" rx="1.9" ry="2.9" fill="#2a7ca8"/><ellipse cx="648.0" cy="1241.7" rx="3.9" ry="3.1" fill="#2a7ca8"/><ellipse cx="694.1" cy="1282.2" rx="2.2" ry="3.2" fill="#3ab098"/><ellipse cx="631.6" cy="1203.3" rx="2.3" ry="3.4" fill="#2a7ca8"/><ellipse cx="668.8" cy="1188.4" rx="3.6" ry="3.3" fill="#2e9490"/><ellipse cx="719.1" cy="1270.8" rx="3.1" ry="2.4" fill="#3ab098"/><ellipse cx="687.3" cy="1272.1" rx="1.9" ry="3.0" fill="#3ab098"/><ellipse cx="672.6" cy="1177.5" rx="2.4" ry="2.3" fill="#2e9490"/><ellipse cx="741.0" cy="1180.4" rx="3.0" ry="2.6" fill="#2a7ca8"/><ellipse cx="638.3" cy="1252.1" rx="2.3" ry="2.6" fill="#3ab098"/><ellipse cx="689.6" cy="1167.8" rx="3.2" ry="2.7" fill="#58c8a4"/><ellipse cx="644.4" cy="1246.8" rx="2.9" ry="3.2" fill="#3ab098"/><ellipse cx="713.0" cy="1208.9" rx="2.8" ry="1.8" fill="#2c8c8c"/><ellipse cx="700.8" cy="1283.6" rx="2.5" ry="2.7" fill="#58c8a4"/><ellipse cx="660.2" cy="1263.9" rx="2.9" ry="2.1" fill="#58c8a4"/><ellipse cx="655.2" cy="1195.6" rx="1.9" ry="2.7" fill="#3ab098"/><ellipse cx="675.9" cy="1231.8" rx="2.6" ry="2.9" fill="#2e9490"/><ellipse cx="629.1" cy="1166.9" rx="3.0" ry="2.4" fill="#2a7ca8"/><ellipse cx="640.4" cy="1212.1" rx="3.4" ry="3.9" fill="#58c8a4"/><ellipse cx="627.2" cy="1217.9" rx="2.6" ry="2.3" fill="#3ab098"/><ellipse cx="631.8" cy="1211.0" rx="2.7" ry="2.3" fill="#58c8a4"/><ellipse cx="680.7" cy="1206.2" rx="2.2" ry="3.2" fill="#2c8c8c"/><ellipse cx="629.6" cy="1240.9" rx="3.7" ry="2.9" fill="#2e9490"/><ellipse cx="634.9" cy="1228.7" rx="3.9" ry="3.3" fill="#3ab098"/><ellipse cx="694.8" cy="1241.8" rx="3.2" ry="3.4" fill="#58c8a4"/><ellipse cx="716.2" cy="1217.1" rx="2.8" ry="2.7" fill="#3ab098"/><ellipse cx="686.8" cy="1251.1" rx="1.6" ry="2.5" fill="#3ab098"/><ellipse cx="724.9" cy="1258.2" rx="1.6" ry="2.5" fill="#2c8c8c"/><ellipse cx="644.0" cy="1224.5" rx="2.8" ry="2.3" fill="#3ab098"/><ellipse cx="672.3" cy="1222.1" rx="2.8" ry="2.1" fill="#2c8c8c"/><ellipse cx="688.0" cy="1244.0" rx="3.3" ry="2.2" fill="#2e9490"/><ellipse cx="692.5" cy="1184.0" rx="3.4" ry="2.8" fill="#2c8c8c"/><ellipse cx="702.7" cy="1203.9" rx="2.7" ry="3.0" fill="#58c8a4"/><ellipse cx="671.2" cy="1258.6" rx="2.4" ry="2.9" fill="#2e9490"/><ellipse cx="712.3" cy="1181.5" rx="2.9" ry="3.8" fill="#2c8c8c"/><ellipse cx="725.9" cy="1275.3" rx="3.7" ry="3.5" fill="#2e9490"/><ellipse cx="715.7" cy="1257.1" rx="2.6" ry="2.5" fill="#2c8c8c"/><ellipse cx="654.5" cy="1184.9" rx="3.0" ry="2.7" fill="#3ab098"/><ellipse cx="650.6" cy="1167.7" rx="3.4" ry="3.0" fill="#2c8c8c"/><ellipse cx="647.0" cy="1186.6" rx="2.3" ry="2.8" fill="#2c8c8c"/><ellipse cx="668.2" cy="1166.9" rx="3.9" ry="2.7" fill="#2a7ca8"/><ellipse cx="725.0" cy="1231.8" rx="3.2" ry="3.8" fill="#2c8c8c"/><ellipse cx="628.2" cy="1284.9" rx="2.9" ry="3.5" fill="#3ab098"/><ellipse cx="709.2" cy="1201.8" rx="3.8" ry="3.0" fill="#2a7ca8"/><ellipse cx="645.2" cy="1284.2" rx="2.4" ry="3.1" fill="#2a7ca8"/><ellipse cx="662.5" cy="1257.6" rx="2.4" ry="1.7" fill="#2e9490"/><ellipse cx="630.6" cy="1195.5" rx="3.1" ry="2.3" fill="#2a7ca8"/><ellipse cx="705.5" cy="1194.7" rx="2.7" ry="2.9" fill="#3ab098"/><ellipse cx="687.5" cy="1281.6" rx="2.9" ry="2.2" fill="#58c8a4"/><ellipse cx="719.2" cy="1249.3" rx="3.4" ry="2.7" fill="#2e9490"/><ellipse cx="712.9" cy="1222.3" rx="1.9" ry="2.7" fill="#2a7ca8"/><ellipse cx="633.8" cy="1235.4" rx="2.1" ry="2.9" fill="#3ab098"/><ellipse cx="696.0" cy="1252.4" rx="2.4" ry="1.7" fill="#58c8a4"/><ellipse cx="720.7" cy="1190.4" rx="2.2" ry="2.9" fill="#2a7ca8"/><ellipse cx="739.3" cy="1267.4" rx="2.1" ry="2.5" fill="#58c8a4"/><ellipse cx="710.2" cy="1189.0" rx="3.0" ry="2.6" fill="#58c8a4"/><ellipse cx="676.4" cy="1193.6" rx="2.9" ry="2.5" fill="#2a7ca8"/><ellipse cx="710.1" cy="1265.5" rx="3.2" ry="2.4" fill="#2a7ca8"/><ellipse cx="664.9" cy="1268.6" rx="3.7" ry="2.6" fill="#3ab098"/><ellipse cx="716.6" cy="1229.9" rx="1.8" ry="2.5" fill="#2a7ca8"/><ellipse cx="729.8" cy="1173.1" rx="2.7" ry="1.8" fill="#2a7ca8"/><ellipse cx="730.8" cy="1215.1" rx="2.4" ry="2.6" fill="#58c8a4"/><ellipse cx="655.9" cy="1211.1" rx="3.9" ry="2.6" fill="#3ab098"/><ellipse cx="681.3" cy="1214.4" rx="3.3" ry="4.0" fill="#58c8a4"/><ellipse cx="689.9" cy="1231.7" rx="2.6" ry="3.4" fill="#2e9490"/><ellipse cx="736.2" cy="1256.5" rx="3.0" ry="3.4" fill="#58c8a4"/><ellipse cx="662.5" cy="1282.5" rx="2.6" ry="3.8" fill="#58c8a4"/><ellipse cx="665.7" cy="1224.7" rx="3.8" ry="3.1" fill="#2a7ca8"/><ellipse cx="737.4" cy="1210.7" rx="3.8" ry="2.8" fill="#58c8a4"/><ellipse cx="729.4" cy="1266.9" rx="2.3" ry="3.4" fill="#2c8c8c"/><ellipse cx="671.3" cy="1206.9" rx="3.3" ry="2.1" fill="#2e9490"/><ellipse cx="652.4" cy="1234.6" rx="3.7" ry="3.2" fill="#58c8a4"/><ellipse cx="739.6" cy="1243.7" rx="2.6" ry="2.9" fill="#2a7ca8"/><ellipse cx="720.9" cy="1171.8" rx="2.0" ry="2.7" fill="#58c8a4"/><ellipse cx="652.8" cy="1174.6" rx="2.5" ry="2.2" fill="#3ab098"/><ellipse cx="731.7" cy="1221.8" rx="3.2" ry="3.9" fill="#58c8a4"/><ellipse cx="735.4" cy="1177.5" rx="2.8" ry="3.8" fill="#58c8a4"/><ellipse cx="727.5" cy="1252.3" rx="3.7" ry="2.8" fill="#2c8c8c"/><ellipse cx="745.5" cy="1215.6" rx="3.9" ry="3.4" fill="#2c8c8c"/><ellipse cx="633.5" cy="1246.1" rx="2.6" ry="3.9" fill="#2e9490"/><ellipse cx="724.1" cy="1197.4" rx="3.4" ry="3.1" fill="#2a7ca8"/><ellipse cx="745.4" cy="1230.8" rx="2.6" ry="2.2" fill="#2e9490"/><ellipse cx="634.8" cy="1257.1" rx="3.0" ry="2.6" fill="#2a7ca8"/><ellipse cx="641.2" cy="1202.7" rx="1.9" ry="3.1" fill="#2a7ca8"/><ellipse cx="658.2" cy="1204.4" rx="3.9" ry="3.2" fill="#58c8a4"/></g>
<rect x="595.27" y="1136.58" width="180.75" height="178.35" filter="url(#holeS)" opacity="0.9" transform="rotate(30 685.65 1225.75)"/>
</g>
<text x="29.4" y="933.2" font-size="16.5" text-anchor="middle" transform="rotate(-90 29.4 933.2)">H&amp;E</text>
<text x="29.2" y="1074.6" font-size="16.5" text-anchor="middle" transform="rotate(-90 29.2 1074.6)">Cas-3</text>
<text x="29.2" y="1220.5" font-size="16.5" text-anchor="middle" transform="rotate(-90 29.2 1220.5)">HMGB-1</text>
<text x="102" y="1310.5" font-size="16.5" text-anchor="middle">PBS</text>
<text x="246" y="1310.5" font-size="16.5" text-anchor="middle">SPNU</text>
<text x="395.5" y="1312" font-size="16.5" text-anchor="middle">SPNU+laser</text>
<text x="538.5" y="1310.5" font-size="16.5" text-anchor="middle">SPNE</text>
<text x="680" y="1313" font-size="16.5" text-anchor="middle">SPNE+laser</text>
<text x="72.5" y="974.7" font-size="14.6" text-anchor="middle" style="color:#fff">200 &#181;m</text>
<line x1="51.7" y1="983.3" x2="90.8" y2="983.3" stroke="#fff" stroke-width="2.4"/>
<text x="66.4" y="1118.6" font-size="14.6" text-anchor="middle" style="color:#fff">20 &#181;m</text>
<line x1="51.6" y1="1127.2" x2="80" y2="1127.2" stroke="#fff" stroke-width="2.4"/>
<text x="66.4" y="1270.2" font-size="14.6" text-anchor="middle" style="color:#fff">20 &#181;m</text>
<line x1="51.6" y1="1278.4" x2="80" y2="1278.4" stroke="#fff" stroke-width="2.4"/>
<text x="796" y="875.2" font-size="22" font-weight="bold">j</text>
<rect x="849.85" y="1065.38" width="19.5" height="11.32" fill="#9a9a9a" stroke="none" stroke-width="1"/>
<line x1="859.6" y1="1065.38" x2="859.6" y2="1061.75" stroke="#9a9a9a" stroke-width="1.6"/>
<line x1="854.8" y1="1061.75" x2="864.4" y2="1061.75" stroke="#9a9a9a" stroke-width="1.6"/>
<rect x="899.45" y="1067.04" width="19.5" height="9.66" fill="#1b8a4b" stroke="none" stroke-width="1"/>
<line x1="909.2" y1="1067.04" x2="909.2" y2="1063.87" stroke="#1b8a4b" stroke-width="1.6"/>
<line x1="904.4" y1="1063.87" x2="914" y2="1063.87" stroke="#1b8a4b" stroke-width="1.6"/>
<rect x="949.45" y="1009.35" width="19.5" height="67.35" fill="#3d87c8" stroke="none" stroke-width="1"/>
<line x1="959.2" y1="1009.35" x2="959.2" y2="997.27" stroke="#3d87c8" stroke-width="1.6"/>
<line x1="954.4" y1="997.27" x2="964" y2="997.27" stroke="#3d87c8" stroke-width="1.6"/>
<rect x="998.65" y="1049.52" width="19.5" height="27.18" fill="#f39b22" stroke="none" stroke-width="1"/>
<line x1="1008.4" y1="1049.52" x2="1008.4" y2="1043.78" stroke="#f39b22" stroke-width="1.6"/>
<line x1="1003.6" y1="1043.78" x2="1013.2" y2="1043.78" stroke="#f39b22" stroke-width="1.6"/>
<rect x="1048.05" y="988.21" width="19.5" height="88.49" fill="#e2383b" stroke="none" stroke-width="1"/>
<line x1="1057.8" y1="988.21" x2="1057.8" y2="975.23" stroke="#e2383b" stroke-width="1.6"/>
<line x1="1053" y1="975.23" x2="1062.6" y2="975.23" stroke="#e2383b" stroke-width="1.6"/>
<rect x="840" y="881.1" width="238.3" height="195.6" fill="none" stroke="#1a1a1a" stroke-width="1.4"/>
<line x1="835.2" y1="1076.7" x2="840" y2="1076.7" stroke="#1a1a1a" stroke-width="1.4"/>
<text x="833" y="1081.7" font-size="14" text-anchor="end">0</text>
<line x1="835.2" y1="1016.3" x2="840" y2="1016.3" stroke="#1a1a1a" stroke-width="1.4"/>
<text x="833" y="1021.3" font-size="14" text-anchor="end">20</text>
<line x1="835.2" y1="955.9" x2="840" y2="955.9" stroke="#1a1a1a" stroke-width="1.4"/>
<text x="833" y="960.9" font-size="14" text-anchor="end">40</text>
<line x1="835.2" y1="895.5" x2="840" y2="895.5" stroke="#1a1a1a" stroke-width="1.4"/>
<text x="833" y="900.5" font-size="14" text-anchor="end">60</text>
<line x1="837.2" y1="1046.5" x2="840" y2="1046.5" stroke="#1a1a1a" stroke-width="1.2"/>
<line x1="837.2" y1="986.1" x2="840" y2="986.1" stroke="#1a1a1a" stroke-width="1.2"/>
<line x1="837.2" y1="925.7" x2="840" y2="925.7" stroke="#1a1a1a" stroke-width="1.2"/>
<line x1="859.6" y1="1076.7" x2="859.6" y2="1081.5" stroke="#1a1a1a" stroke-width="1.4"/>
<line x1="909.2" y1="1076.7" x2="909.2" y2="1081.5" stroke="#1a1a1a" stroke-width="1.4"/>
<line x1="959.2" y1="1076.7" x2="959.2" y2="1081.5" stroke="#1a1a1a" stroke-width="1.4"/>
<line x1="1008.4" y1="1076.7" x2="1008.4" y2="1081.5" stroke="#1a1a1a" stroke-width="1.4"/>
<line x1="1057.8" y1="1076.7" x2="1057.8" y2="1081.5" stroke="#1a1a1a" stroke-width="1.4"/>
<text x="810.3" y="978.5" font-size="14" text-anchor="middle" transform="rotate(-90 810.3 978.5)">Cas-3 expression &#160;(%)</text>
<line x1="861.2" y1="905" x2="1055" y2="905" stroke="#333" stroke-width="1.4"/>
<text x="956.7" y="904" font-size="13" text-anchor="middle">***</text>
<line x1="907.8" y1="923.8" x2="1055" y2="923.8" stroke="#333" stroke-width="1.4"/>
<text x="981" y="922.8" font-size="13" text-anchor="middle">***</text>
<line x1="956.7" y1="944.4" x2="1055" y2="944.4" stroke="#333" stroke-width="1.4"/>
<text x="1007" y="945" font-size="13" text-anchor="middle">**</text>
<line x1="1006.5" y1="963" x2="1055" y2="963" stroke="#333" stroke-width="1.4"/>
<text x="1030.6" y="963.6" font-size="13" text-anchor="middle">***</text>
<rect x="849.85" y="1257.71" width="19.5" height="27.29" fill="#9a9a9a" stroke="none" stroke-width="1"/>
<line x1="859.6" y1="1257.71" x2="859.6" y2="1252.07" stroke="#9a9a9a" stroke-width="1.6"/>
<line x1="854.8" y1="1252.07" x2="864.4" y2="1252.07" stroke="#9a9a9a" stroke-width="1.6"/>
<rect x="899.45" y="1253.01" width="19.5" height="31.99" fill="#1b8a4b" stroke="none" stroke-width="1"/>
<line x1="909.2" y1="1253.01" x2="909.2" y2="1246.98" stroke="#1b8a4b" stroke-width="1.6"/>
<line x1="904.4" y1="1246.98" x2="914" y2="1246.98" stroke="#1b8a4b" stroke-width="1.6"/>
<rect x="949.45" y="1177.73" width="19.5" height="107.27" fill="#3d87c8" stroke="none" stroke-width="1"/>
<line x1="959.2" y1="1177.73" x2="959.2" y2="1170.2" stroke="#3d87c8" stroke-width="1.6"/>
<line x1="954.4" y1="1170.2" x2="964" y2="1170.2" stroke="#3d87c8" stroke-width="1.6"/>
<rect x="998.65" y="1255.64" width="19.5" height="29.36" fill="#f39b22" stroke="none" stroke-width="1"/>
<line x1="1008.4" y1="1255.64" x2="1008.4" y2="1252.82" stroke="#f39b22" stroke-width="1.6"/>
<line x1="1003.6" y1="1252.82" x2="1013.2" y2="1252.82" stroke="#f39b22" stroke-width="1.6"/>
<rect x="1048.05" y="1158.91" width="19.5" height="126.09" fill="#e2383b" stroke="none" stroke-width="1"/>
<line x1="1057.8" y1="1158.91" x2="1057.8" y2="1145.73" stroke="#e2383b" stroke-width="1.6"/>
<line x1="1053" y1="1145.73" x2="1062.6" y2="1145.73" stroke="#e2383b" stroke-width="1.6"/>
<rect x="840" y="1096.8" width="238.3" height="188.2" fill="none" stroke="#1a1a1a" stroke-width="1.4"/>
<line x1="835.2" y1="1285" x2="840" y2="1285" stroke="#1a1a1a" stroke-width="1.4"/>
<text x="833" y="1290" font-size="14" text-anchor="end">0</text>
<line x1="835.2" y1="1247.36" x2="840" y2="1247.36" stroke="#1a1a1a" stroke-width="1.4"/>
<text x="833" y="1252.36" font-size="14" text-anchor="end">20</text>
<line x1="835.2" y1="1209.72" x2="840" y2="1209.72" stroke="#1a1a1a" stroke-width="1.4"/>
<text x="833" y="1214.72" font-size="14" text-anchor="end">40</text>
<line x1="835.2" y1="1172.08" x2="840" y2="1172.08" stroke="#1a1a1a" stroke-width="1.4"/>
<text x="833" y="1177.08" font-size="14" text-anchor="end">60</text>
<line x1="835.2" y1="1134.44" x2="840" y2="1134.44" stroke="#1a1a1a" stroke-width="1.4"/>
<text x="833" y="1139.44" font-size="14" text-anchor="end">80</text>
<line x1="835.2" y1="1096.8" x2="840" y2="1096.8" stroke="#1a1a1a" stroke-width="1.4"/>
<text x="833" y="1101.8" font-size="14" text-anchor="end">100</text>
<line x1="837.2" y1="1266.18" x2="840" y2="1266.18" stroke="#1a1a1a" stroke-width="1.2"/>
<line x1="837.2" y1="1228.54" x2="840" y2="1228.54" stroke="#1a1a1a" stroke-width="1.2"/>
<line x1="837.2" y1="1190.9" x2="840" y2="1190.9" stroke="#1a1a1a" stroke-width="1.2"/>
<line x1="837.2" y1="1153.26" x2="840" y2="1153.26" stroke="#1a1a1a" stroke-width="1.2"/>
<line x1="837.2" y1="1115.62" x2="840" y2="1115.62" stroke="#1a1a1a" stroke-width="1.2"/>
<line x1="859.6" y1="1285" x2="859.6" y2="1289.8" stroke="#1a1a1a" stroke-width="1.4"/>
<line x1="909.2" y1="1285" x2="909.2" y2="1289.8" stroke="#1a1a1a" stroke-width="1.4"/>
<line x1="959.2" y1="1285" x2="959.2" y2="1289.8" stroke="#1a1a1a" stroke-width="1.4"/>
<line x1="1008.4" y1="1285" x2="1008.4" y2="1289.8" stroke="#1a1a1a" stroke-width="1.4"/>
<line x1="1057.8" y1="1285" x2="1057.8" y2="1289.8" stroke="#1a1a1a" stroke-width="1.4"/>
<text x="804.4" y="1191.5" font-size="14" text-anchor="middle" transform="rotate(-90 804.4 1191.5)">HMGB-1 expression &#160;(%)</text>
<line x1="862.6" y1="1108.9" x2="1055" y2="1108.9" stroke="#333" stroke-width="1.4"/>
<text x="968.6" y="1110.2" font-size="13" text-anchor="middle">***</text>
<line x1="907.5" y1="1120.1" x2="1055" y2="1120.1" stroke="#333" stroke-width="1.4"/>
<text x="984.2" y="1121.4" font-size="13" text-anchor="middle">***</text>
<line x1="958.6" y1="1131" x2="1055" y2="1131" stroke="#333" stroke-width="1.4"/>
<text x="1007.6" y="1132.3" font-size="13" text-anchor="middle">*</text>
<line x1="1006.5" y1="1142.2" x2="1055" y2="1142.2" stroke="#333" stroke-width="1.4"/>
<text x="1031.7" y="1143.5" font-size="13" text-anchor="middle">***</text>
<text x="864.1" y="1296.5" font-size="14" text-anchor="end" transform="rotate(-45 864.1 1296.5)">PBS</text>
<text x="913.7" y="1296.5" font-size="14" text-anchor="end" transform="rotate(-45 913.7 1296.5)">SPNU</text>
<text x="963.7" y="1296.5" font-size="14" text-anchor="end" transform="rotate(-45 963.7 1296.5)">SPNU+laser</text>
<text x="1012.9" y="1296.5" font-size="14" text-anchor="end" transform="rotate(-45 1012.9 1296.5)">SPNE</text>
<text x="1062.3" y="1296.5" font-size="14" text-anchor="end" transform="rotate(-45 1062.3 1296.5)">SPNE+laser</text>
</svg></body></html>
